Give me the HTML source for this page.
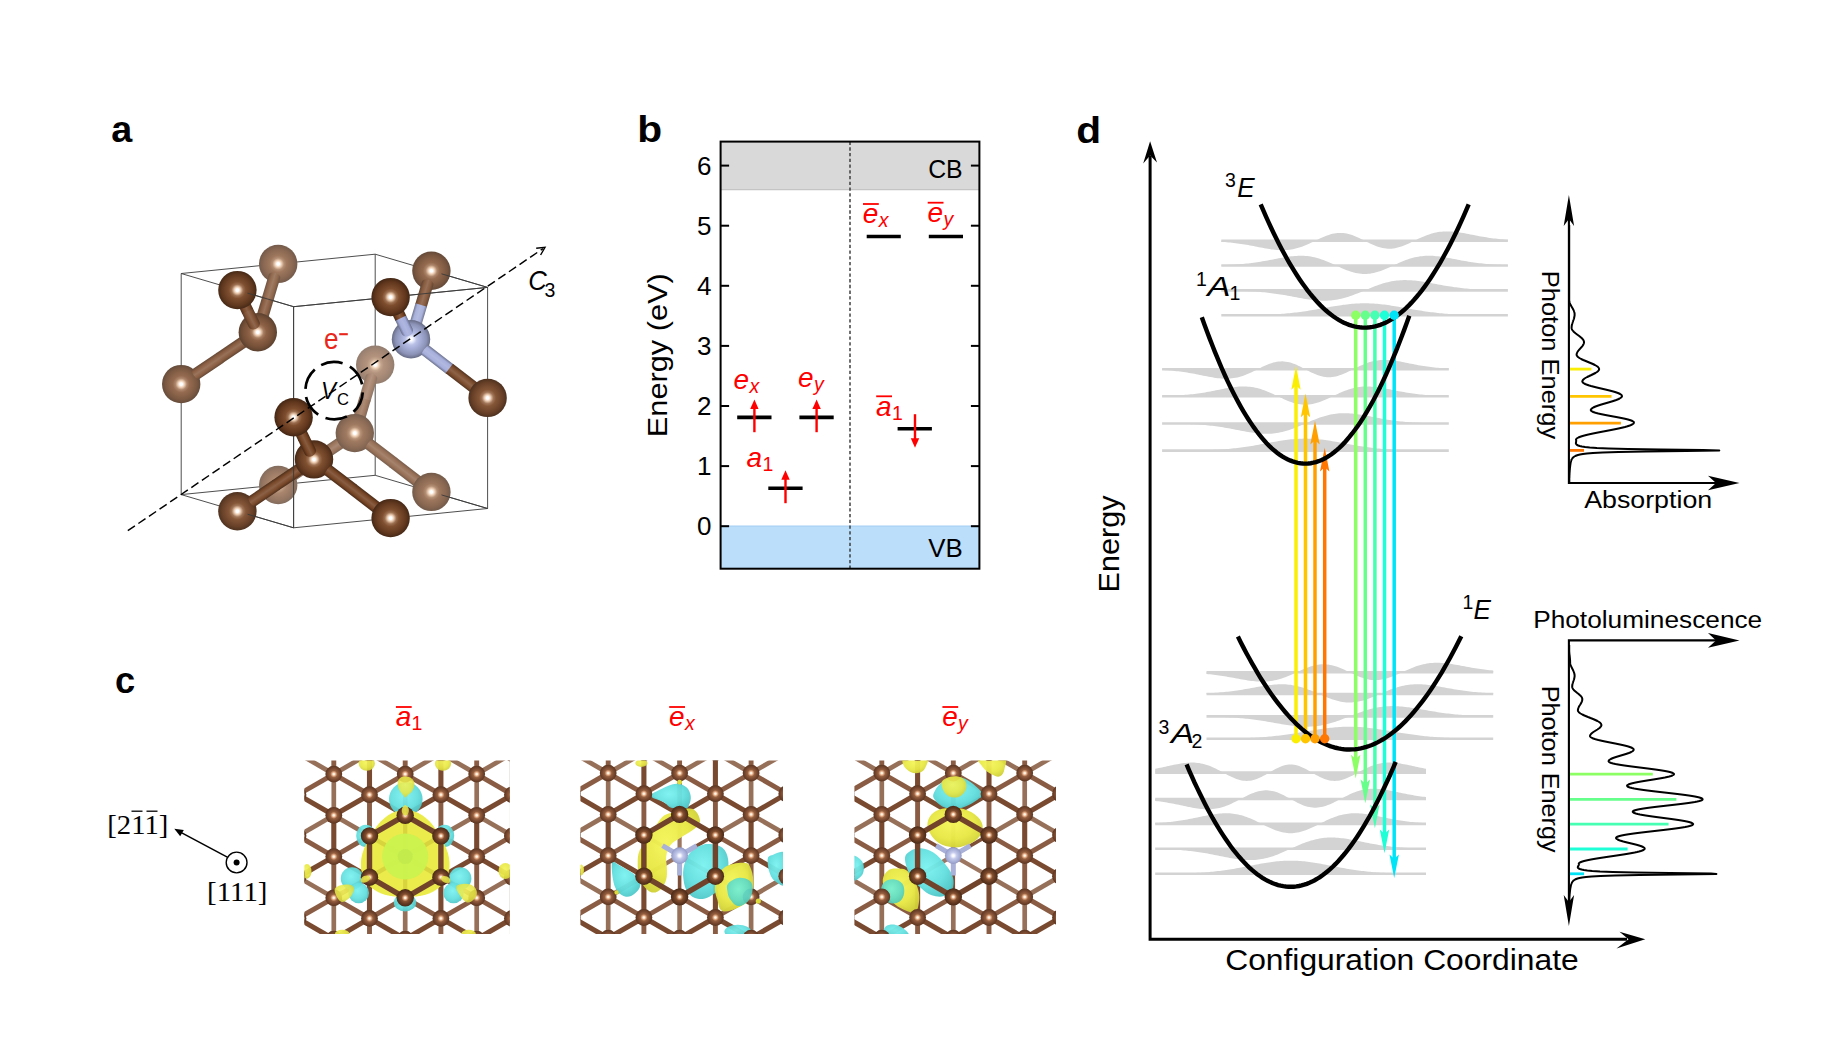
<!DOCTYPE html>
<html><head><meta charset="utf-8"><title>Figure</title>
<style>
html,body{margin:0;padding:0;background:#fff;}
body{width:1846px;height:1042px;overflow:hidden;font-family:"Liberation Sans",sans-serif;}
svg{display:block;}
text{font-family:"Liberation Sans",sans-serif;}
.it{font-style:italic;}
.b{font-weight:bold;}
.ser{font-family:"Liberation Serif",serif;}
</style></head><body>
<svg width="1846" height="1042" viewBox="0 0 1846 1042">
<defs>
<radialGradient id="sa1" cx="0.5" cy="0.5" r="0.5" fx="0.5" fy="0.5"><stop offset="0" stop-color="#ffffff"/><stop offset="0.07" stop-color="#ffffff"/><stop offset="0.17" stop-color="#efd1b7"/><stop offset="0.30" stop-color="#b48f75"/><stop offset="0.44" stop-color="#9e775d"/><stop offset="0.80" stop-color="#876651"/><stop offset="1" stop-color="#735a4b"/></radialGradient>
<radialGradient id="sa2" cx="0.5" cy="0.5" r="0.5" fx="0.5" fy="0.5"><stop offset="0" stop-color="#ffffff"/><stop offset="0.07" stop-color="#ffffff"/><stop offset="0.17" stop-color="#eacaaf"/><stop offset="0.30" stop-color="#9c7052"/><stop offset="0.44" stop-color="#7f4f30"/><stop offset="0.80" stop-color="#61391f"/><stop offset="1" stop-color="#462916"/></radialGradient>
<radialGradient id="sa3" cx="0.5" cy="0.5" r="0.5" fx="0.5" fy="0.5"><stop offset="0" stop-color="#ffffff"/><stop offset="0.07" stop-color="#ffffff"/><stop offset="0.17" stop-color="#eecfb4"/><stop offset="0.30" stop-color="#ac856a"/><stop offset="0.44" stop-color="#946a4e"/><stop offset="0.80" stop-color="#7b5740"/><stop offset="1" stop-color="#644a39"/></radialGradient>
<radialGradient id="sa4" cx="0.5" cy="0.5" r="0.5" fx="0.5" fy="0.5"><stop offset="0" stop-color="#ffffff"/><stop offset="0.07" stop-color="#ffffff"/><stop offset="0.17" stop-color="#eacaaf"/><stop offset="0.30" stop-color="#9b6f50"/><stop offset="0.44" stop-color="#7e4d2e"/><stop offset="0.80" stop-color="#60361c"/><stop offset="1" stop-color="#432614"/></radialGradient>
<radialGradient id="sa5" cx="0.5" cy="0.5" r="0.5" fx="0.5" fy="0.5"><stop offset="0" stop-color="#ffffff"/><stop offset="0.07" stop-color="#ffffff"/><stop offset="0.17" stop-color="#eecfb5"/><stop offset="0.30" stop-color="#ad866b"/><stop offset="0.44" stop-color="#956b50"/><stop offset="0.80" stop-color="#7c5942"/><stop offset="1" stop-color="#654c3b"/></radialGradient>
<radialGradient id="sa6" cx="0.5" cy="0.5" r="0.5" fx="0.5" fy="0.5"><stop offset="0" stop-color="#ffffff"/><stop offset="0.07" stop-color="#ffffff"/><stop offset="0.17" stop-color="#ebcbb1"/><stop offset="0.30" stop-color="#a07558"/><stop offset="0.44" stop-color="#845637"/><stop offset="0.80" stop-color="#684027"/><stop offset="1" stop-color="#4d311f"/></radialGradient>
<radialGradient id="sa7" cx="0.5" cy="0.5" r="0.5" fx="0.5" fy="0.5"><stop offset="0" stop-color="#ffffff"/><stop offset="0.07" stop-color="#ffffff"/><stop offset="0.17" stop-color="#eacaaf"/><stop offset="0.30" stop-color="#9b6f50"/><stop offset="0.44" stop-color="#7e4d2e"/><stop offset="0.80" stop-color="#60361c"/><stop offset="1" stop-color="#432614"/></radialGradient>
<radialGradient id="sa8" cx="0.5" cy="0.5" r="0.5" fx="0.5" fy="0.5"><stop offset="0" stop-color="#ffffff"/><stop offset="0.07" stop-color="#ffffff"/><stop offset="0.17" stop-color="#f3d5bc"/><stop offset="0.30" stop-color="#c4a58e"/><stop offset="0.44" stop-color="#b3937d"/><stop offset="0.80" stop-color="#a28674"/><stop offset="1" stop-color="#927d6f"/></radialGradient>
<radialGradient id="sa9" cx="0.5" cy="0.5" r="0.5" fx="0.5" fy="0.5"><stop offset="0" stop-color="#ffffff"/><stop offset="0.07" stop-color="#ffffff"/><stop offset="0.17" stop-color="#f1d3b9"/><stop offset="0.30" stop-color="#bc9a81"/><stop offset="0.44" stop-color="#a9856d"/><stop offset="0.80" stop-color="#957662"/><stop offset="1" stop-color="#826c5d"/></radialGradient>
<radialGradient id="sa10" cx="0.5" cy="0.5" r="0.5" fx="0.5" fy="0.5"><stop offset="0" stop-color="#ffffff"/><stop offset="0.07" stop-color="#ffffff"/><stop offset="0.17" stop-color="#ebcbb1"/><stop offset="0.30" stop-color="#a07659"/><stop offset="0.44" stop-color="#855638"/><stop offset="0.80" stop-color="#684128"/><stop offset="1" stop-color="#4e3220"/></radialGradient>
<radialGradient id="sa11" cx="0.5" cy="0.5" r="0.5" fx="0.5" fy="0.5"><stop offset="0" stop-color="#ffffff"/><stop offset="0.07" stop-color="#ffffff"/><stop offset="0.17" stop-color="#efd1b7"/><stop offset="0.30" stop-color="#b38f75"/><stop offset="0.44" stop-color="#9d765d"/><stop offset="0.80" stop-color="#876650"/><stop offset="1" stop-color="#725a4a"/></radialGradient>
<radialGradient id="sa12" cx="0.5" cy="0.5" r="0.5" fx="0.5" fy="0.5"><stop offset="0" stop-color="#ffffff"/><stop offset="0.07" stop-color="#ffffff"/><stop offset="0.17" stop-color="#eacaaf"/><stop offset="0.30" stop-color="#9c7052"/><stop offset="0.44" stop-color="#7f4f30"/><stop offset="0.80" stop-color="#61381e"/><stop offset="1" stop-color="#452816"/></radialGradient>
<radialGradient id="sa13" cx="0.5" cy="0.5" r="0.5" fx="0.5" fy="0.5"><stop offset="0" stop-color="#ffffff"/><stop offset="0.07" stop-color="#ffffff"/><stop offset="0.17" stop-color="#edcdb3"/><stop offset="0.30" stop-color="#a87f63"/><stop offset="0.44" stop-color="#8e6246"/><stop offset="0.80" stop-color="#744f37"/><stop offset="1" stop-color="#5b412f"/></radialGradient>
<radialGradient id="sa14" cx="0.5" cy="0.5" r="0.5" fx="0.5" fy="0.5"><stop offset="0" stop-color="#ffffff"/><stop offset="0.07" stop-color="#ffffff"/><stop offset="0.17" stop-color="#e1e6fa"/><stop offset="0.30" stop-color="#bac1e5"/><stop offset="0.44" stop-color="#abb3dd"/><stop offset="0.80" stop-color="#8c93b7"/><stop offset="1" stop-color="#676c85"/></radialGradient>
<radialGradient id="sa15" cx="0.5" cy="0.5" r="0.5" fx="0.5" fy="0.5"><stop offset="0" stop-color="#ffffff"/><stop offset="0.07" stop-color="#ffffff"/><stop offset="0.17" stop-color="#f0d1b7"/><stop offset="0.30" stop-color="#b69278"/><stop offset="0.44" stop-color="#a07a61"/><stop offset="0.80" stop-color="#8a6a55"/><stop offset="1" stop-color="#765e4f"/></radialGradient>
<radialGradient id="sa16" cx="0.5" cy="0.5" r="0.5" fx="0.5" fy="0.5"><stop offset="0" stop-color="#ffffff"/><stop offset="0.07" stop-color="#ffffff"/><stop offset="0.17" stop-color="#ebcbb0"/><stop offset="0.30" stop-color="#9d7153"/><stop offset="0.44" stop-color="#805131"/><stop offset="0.80" stop-color="#633a20"/><stop offset="1" stop-color="#472a18"/></radialGradient>
<linearGradient id="ba17" gradientUnits="userSpaceOnUse" x1="0" y1="-6.0" x2="0" y2="6.0"><stop offset="0" stop-color="#6f5443"/><stop offset="0.22" stop-color="#91684d"/><stop offset="0.5" stop-color="#9f7c64"/><stop offset="0.78" stop-color="#91684d"/><stop offset="1" stop-color="#6f5443"/></linearGradient>
<linearGradient id="ba18" gradientUnits="userSpaceOnUse" x1="0" y1="-6.0" x2="0" y2="6.0"><stop offset="0" stop-color="#654a38"/><stop offset="0.22" stop-color="#8a5e42"/><stop offset="0.5" stop-color="#99735b"/><stop offset="0.78" stop-color="#8a5e42"/><stop offset="1" stop-color="#654a38"/></linearGradient>
<linearGradient id="ba19" gradientUnits="userSpaceOnUse" x1="0" y1="-6.0" x2="0" y2="6.0"><stop offset="0" stop-color="#583a28"/><stop offset="0.22" stop-color="#805133"/><stop offset="0.5" stop-color="#90684e"/><stop offset="0.78" stop-color="#805133"/><stop offset="1" stop-color="#583a28"/></linearGradient>
<linearGradient id="ba20" gradientUnits="userSpaceOnUse" x1="0" y1="-6.0" x2="0" y2="6.0"><stop offset="0" stop-color="#4f301d"/><stop offset="0.22" stop-color="#79492a"/><stop offset="0.5" stop-color="#8a6045"/><stop offset="0.78" stop-color="#79492a"/><stop offset="1" stop-color="#4f301d"/></linearGradient>
<linearGradient id="ba21" gradientUnits="userSpaceOnUse" x1="0" y1="-6.0" x2="0" y2="6.0"><stop offset="0" stop-color="#664a39"/><stop offset="0.22" stop-color="#8b5f43"/><stop offset="0.5" stop-color="#9a745c"/><stop offset="0.78" stop-color="#8b5f43"/><stop offset="1" stop-color="#664a39"/></linearGradient>
<linearGradient id="ba22" gradientUnits="userSpaceOnUse" x1="0" y1="-6.0" x2="0" y2="6.0"><stop offset="0" stop-color="#624634"/><stop offset="0.22" stop-color="#875b3f"/><stop offset="0.5" stop-color="#977158"/><stop offset="0.78" stop-color="#875b3f"/><stop offset="1" stop-color="#624634"/></linearGradient>
<linearGradient id="ba23" gradientUnits="userSpaceOnUse" x1="0" y1="-6.0" x2="0" y2="6.0"><stop offset="0" stop-color="#614533"/><stop offset="0.22" stop-color="#875b3e"/><stop offset="0.5" stop-color="#977057"/><stop offset="0.78" stop-color="#875b3e"/><stop offset="1" stop-color="#614533"/></linearGradient>
<linearGradient id="ba24" gradientUnits="userSpaceOnUse" x1="0" y1="-6.0" x2="0" y2="6.0"><stop offset="0" stop-color="#717690"/><stop offset="0.22" stop-color="#a8b1db"/><stop offset="0.5" stop-color="#b4bbe0"/><stop offset="0.78" stop-color="#a8b1db"/><stop offset="1" stop-color="#717690"/></linearGradient>
<linearGradient id="ba25" gradientUnits="userSpaceOnUse" x1="0" y1="-6.0" x2="0" y2="6.0"><stop offset="0" stop-color="#686e8a"/><stop offset="0.22" stop-color="#a3acda"/><stop offset="0.5" stop-color="#afb7df"/><stop offset="0.78" stop-color="#a3acda"/><stop offset="1" stop-color="#686e8a"/></linearGradient>
<linearGradient id="ba26" gradientUnits="userSpaceOnUse" x1="0" y1="-6.0" x2="0" y2="6.0"><stop offset="0" stop-color="#482915"/><stop offset="0.22" stop-color="#744222"/><stop offset="0.5" stop-color="#865b3f"/><stop offset="0.78" stop-color="#744222"/><stop offset="1" stop-color="#482915"/></linearGradient>
<linearGradient id="ba27" gradientUnits="userSpaceOnUse" x1="0" y1="-6.0" x2="0" y2="6.0"><stop offset="0" stop-color="#6d728d"/><stop offset="0.22" stop-color="#a6aedb"/><stop offset="0.5" stop-color="#b1b9e0"/><stop offset="0.78" stop-color="#a6aedb"/><stop offset="1" stop-color="#6d728d"/></linearGradient>
<linearGradient id="ba28" gradientUnits="userSpaceOnUse" x1="0" y1="-6.0" x2="0" y2="6.0"><stop offset="0" stop-color="#523421"/><stop offset="0.22" stop-color="#7b4c2d"/><stop offset="0.5" stop-color="#8d6348"/><stop offset="0.78" stop-color="#7b4c2d"/><stop offset="1" stop-color="#523421"/></linearGradient>
<linearGradient id="ba29" gradientUnits="userSpaceOnUse" x1="0" y1="-6.0" x2="0" y2="6.0"><stop offset="0" stop-color="#8c7566"/><stop offset="0.22" stop-color="#a7846e"/><stop offset="0.5" stop-color="#b39481"/><stop offset="0.78" stop-color="#a7846e"/><stop offset="1" stop-color="#8c7566"/></linearGradient>
<linearGradient id="ba30" gradientUnits="userSpaceOnUse" x1="0" y1="-6.0" x2="0" y2="6.0"><stop offset="0" stop-color="#816858"/><stop offset="0.22" stop-color="#9f7961"/><stop offset="0.5" stop-color="#ab8b75"/><stop offset="0.78" stop-color="#9f7961"/><stop offset="1" stop-color="#816858"/></linearGradient>
<linearGradient id="ba31" gradientUnits="userSpaceOnUse" x1="0" y1="-6.0" x2="0" y2="6.0"><stop offset="0" stop-color="#785f4e"/><stop offset="0.22" stop-color="#987158"/><stop offset="0.5" stop-color="#a6836d"/><stop offset="0.78" stop-color="#987158"/><stop offset="1" stop-color="#785f4e"/></linearGradient>
<linearGradient id="ba32" gradientUnits="userSpaceOnUse" x1="0" y1="-6.0" x2="0" y2="6.0"><stop offset="0" stop-color="#765d4c"/><stop offset="0.22" stop-color="#976f56"/><stop offset="0.5" stop-color="#a4826c"/><stop offset="0.78" stop-color="#976f56"/><stop offset="1" stop-color="#765d4c"/></linearGradient>
<linearGradient id="ba33" gradientUnits="userSpaceOnUse" x1="0" y1="-6.0" x2="0" y2="6.0"><stop offset="0" stop-color="#816959"/><stop offset="0.22" stop-color="#9f7a62"/><stop offset="0.5" stop-color="#ac8b76"/><stop offset="0.78" stop-color="#9f7a62"/><stop offset="1" stop-color="#816959"/></linearGradient>
<linearGradient id="ba34" gradientUnits="userSpaceOnUse" x1="0" y1="-6.0" x2="0" y2="6.0"><stop offset="0" stop-color="#7c6453"/><stop offset="0.22" stop-color="#9c755c"/><stop offset="0.5" stop-color="#a88772"/><stop offset="0.78" stop-color="#9c755c"/><stop offset="1" stop-color="#7c6453"/></linearGradient>
<linearGradient id="ba35" gradientUnits="userSpaceOnUse" x1="0" y1="-6.0" x2="0" y2="6.0"><stop offset="0" stop-color="#482915"/><stop offset="0.22" stop-color="#744222"/><stop offset="0.5" stop-color="#865b3f"/><stop offset="0.78" stop-color="#744222"/><stop offset="1" stop-color="#482915"/></linearGradient>
<linearGradient id="ba36" gradientUnits="userSpaceOnUse" x1="0" y1="-6.0" x2="0" y2="6.0"><stop offset="0" stop-color="#482915"/><stop offset="0.22" stop-color="#744222"/><stop offset="0.5" stop-color="#865b3f"/><stop offset="0.78" stop-color="#744222"/><stop offset="1" stop-color="#482915"/></linearGradient>
<linearGradient id="ba37" gradientUnits="userSpaceOnUse" x1="0" y1="-6.0" x2="0" y2="6.0"><stop offset="0" stop-color="#50321f"/><stop offset="0.22" stop-color="#7a4a2b"/><stop offset="0.5" stop-color="#8b6146"/><stop offset="0.78" stop-color="#7a4a2b"/><stop offset="1" stop-color="#50321f"/></linearGradient>
<linearGradient id="ba38" gradientUnits="userSpaceOnUse" x1="0" y1="-6.0" x2="0" y2="6.0"><stop offset="0" stop-color="#4d2f1b"/><stop offset="0.22" stop-color="#784728"/><stop offset="0.5" stop-color="#8a5f44"/><stop offset="0.78" stop-color="#784728"/><stop offset="1" stop-color="#4d2f1b"/></linearGradient>
<linearGradient id="ba39" gradientUnits="userSpaceOnUse" x1="0" y1="-6.0" x2="0" y2="6.0"><stop offset="0" stop-color="#4b2c19"/><stop offset="0.22" stop-color="#764525"/><stop offset="0.5" stop-color="#885d42"/><stop offset="0.78" stop-color="#764525"/><stop offset="1" stop-color="#4b2c19"/></linearGradient>
<linearGradient id="ba40" gradientUnits="userSpaceOnUse" x1="0" y1="-6.0" x2="0" y2="6.0"><stop offset="0" stop-color="#4a2c18"/><stop offset="0.22" stop-color="#764425"/><stop offset="0.5" stop-color="#885d41"/><stop offset="0.78" stop-color="#764425"/><stop offset="1" stop-color="#4a2c18"/></linearGradient>
<radialGradient id="catom" cx="0.5" cy="0.5" r="0.5"><stop offset="0" stop-color="#fffaf0"/><stop offset="0.10" stop-color="#ffeeda"/><stop offset="0.24" stop-color="#e0a884"/><stop offset="0.42" stop-color="#96603f"/><stop offset="0.70" stop-color="#784830"/><stop offset="1" stop-color="#5c3620"/></radialGradient>
<radialGradient id="catomd" cx="0.5" cy="0.5" r="0.5"><stop offset="0" stop-color="#fffaf0"/><stop offset="0.10" stop-color="#ffecd6"/><stop offset="0.24" stop-color="#d49a74"/><stop offset="0.42" stop-color="#84502f"/><stop offset="0.70" stop-color="#653a22"/><stop offset="1" stop-color="#4a2a17"/></radialGradient>
<radialGradient id="natom" cx="0.5" cy="0.5" r="0.5"><stop offset="0" stop-color="#ffffff"/><stop offset="0.15" stop-color="#f6f7ff"/><stop offset="0.40" stop-color="#c3c9ea"/><stop offset="0.8" stop-color="#a4acd6"/><stop offset="1" stop-color="#8f97c2"/></radialGradient>
<radialGradient id="cyg" cx="0.45" cy="0.4" r="0.65"><stop offset="0" stop-color="#7af2f0"/><stop offset="0.6" stop-color="#62dede"/><stop offset="1" stop-color="#4cc4c6"/></radialGradient>
<radialGradient id="yeg" cx="0.45" cy="0.4" r="0.65"><stop offset="0" stop-color="#f4f45a"/><stop offset="0.6" stop-color="#e8e846"/><stop offset="1" stop-color="#cfcf38"/></radialGradient>
<radialGradient id="cyg2" cx="0.45" cy="0.4" r="0.65"><stop offset="0" stop-color="#74f0d8"/><stop offset="0.6" stop-color="#5fdcc8"/><stop offset="1" stop-color="#4ec6b4"/></radialGradient>
<clipPath id="clipc1"><rect x="304.4" y="760.6" width="205.40000000000003" height="173.39999999999998"/></clipPath>
<clipPath id="clipc2"><rect x="580.4" y="760.6" width="202.60000000000002" height="173.39999999999998"/></clipPath>
<clipPath id="clipc3"><rect x="854.4" y="760.6" width="201.60000000000002" height="173.39999999999998"/></clipPath>
</defs>
<rect width="1846" height="1042" fill="#ffffff"/>
<g id="panel-a">
<text transform="translate(111.3,142.3) scale(1.02,1)" font-size="37" class="b">a</text>
<line x1="181.2" y1="273.5" x2="293.6" y2="306.7" stroke="#3a3a3a" stroke-width="0.9"/>
<line x1="181.2" y1="273.5" x2="375.2" y2="254.2" stroke="#3a3a3a" stroke-width="0.9"/>
<line x1="293.6" y1="306.7" x2="487.6" y2="287.4" stroke="#3a3a3a" stroke-width="0.9"/>
<line x1="375.2" y1="254.2" x2="487.6" y2="287.4" stroke="#3a3a3a" stroke-width="0.9"/>
<line x1="181.2" y1="494.6" x2="293.6" y2="527.8" stroke="#3a3a3a" stroke-width="0.9"/>
<line x1="181.2" y1="494.6" x2="375.2" y2="475.3" stroke="#3a3a3a" stroke-width="0.9"/>
<line x1="293.6" y1="527.8" x2="487.6" y2="508.5" stroke="#3a3a3a" stroke-width="0.9"/>
<line x1="375.2" y1="475.3" x2="487.6" y2="508.5" stroke="#3a3a3a" stroke-width="0.9"/>
<line x1="181.2" y1="273.5" x2="181.2" y2="494.6" stroke="#3a3a3a" stroke-width="0.9"/>
<line x1="293.6" y1="306.7" x2="293.6" y2="527.8" stroke="#3a3a3a" stroke-width="0.9"/>
<line x1="375.2" y1="254.2" x2="375.2" y2="475.3" stroke="#3a3a3a" stroke-width="0.9"/>
<line x1="487.6" y1="287.4" x2="487.6" y2="508.5" stroke="#3a3a3a" stroke-width="0.9"/>
<circle cx="375.2" cy="364.8" r="19.2" fill="url(#sa8)"/>
<path d="M13.1 -6.0 L36.6 -6.0 L36.6 6.0 L13.1 6.0 A3.7 6.0 0 0 1 13.1 -6.0 Z" fill="url(#ba29)" transform="translate(375.2,364.8) rotate(106.61)"/>
<circle cx="278.2" cy="485.0" r="19.2" fill="url(#sa9)"/>
<path d="M17.0 -6.0 L47.1 -6.0 L47.1 6.0 L17.0 6.0 A1.7 6.0 0 0 1 17.0 -6.0 Z" fill="url(#ba33)" transform="translate(278.2,485.0) rotate(-34.07)"/>
<path d="M0.0 -6.0 L35.7 -6.0 L35.7 6.0 L0.0 6.0 Z" fill="url(#ba30)" transform="translate(365.0,398.9) rotate(106.61)"/>
<path d="M0.0 -6.0 L46.2 -6.0 L46.2 6.0 L0.0 6.0 Z" fill="url(#ba34)" transform="translate(316.5,459.1) rotate(-34.07)"/>
<circle cx="354.8" cy="433.1" r="19.2" fill="url(#sa15)"/>
<path d="M17.8 -6.0 L49.2 -6.0 L49.2 6.0 L17.8 6.0 A1.2 6.0 0 0 1 17.8 -6.0 Z" fill="url(#ba31)" transform="translate(354.8,433.1) rotate(37.49)"/>
<path d="M0.0 -6.0 L48.3 -6.0 L48.3 6.0 L0.0 6.0 Z" fill="url(#ba32)" transform="translate(393.1,462.5) rotate(37.49)"/>
<circle cx="278.2" cy="263.9" r="19.2" fill="url(#sa1)"/>
<circle cx="431.4" cy="491.9" r="19.2" fill="url(#sa11)"/>
<path d="M13.1 -6.0 L36.6 -6.0 L36.6 6.0 L13.1 6.0 A3.7 6.0 0 0 1 13.1 -6.0 Z" fill="url(#ba17)" transform="translate(278.2,263.9) rotate(106.61)"/>
<circle cx="181.2" cy="384.1" r="19.2" fill="url(#sa5)"/>
<circle cx="431.4" cy="270.8" r="19.2" fill="url(#sa3)"/>
<path d="M17.0 -6.0 L47.1 -6.0 L47.1 6.0 L17.0 6.0 A1.7 6.0 0 0 1 17.0 -6.0 Z" fill="url(#ba21)" transform="translate(181.2,384.1) rotate(-34.07)"/>
<path d="M0.0 -6.0 L35.7 -6.0 L35.7 6.0 L0.0 6.0 Z" fill="url(#ba18)" transform="translate(268.0,298.1) rotate(106.61)"/>
<path d="M0.0 -6.0 L46.2 -6.0 L46.2 6.0 L0.0 6.0 Z" fill="url(#ba22)" transform="translate(219.5,358.1) rotate(-34.07)"/>
<path d="M13.1 -6.0 L36.6 -6.0 L36.6 6.0 L13.1 6.0 A3.7 6.0 0 0 1 13.1 -6.0 Z" fill="url(#ba23)" transform="translate(431.4,270.8) rotate(106.61)"/>
<circle cx="257.8" cy="332.2" r="19.2" fill="url(#sa13)"/>
<path d="M0.0 -6.0 L35.7 -6.0 L35.7 6.0 L0.0 6.0 Z" fill="url(#ba24)" transform="translate(421.2,305.0) rotate(106.61)"/>
<path d="M8.6 -6.0 L24.3 -6.0 L24.3 6.0 L8.6 6.0 A4.8 6.0 0 0 1 8.6 -6.0 Z" fill="url(#ba19)" transform="translate(257.8,332.2) rotate(-115.83)"/>
<circle cx="411.0" cy="339.2" r="19.2" fill="url(#sa14)"/>
<path d="M17.8 -6.0 L49.2 -6.0 L49.2 6.0 L17.8 6.0 A1.2 6.0 0 0 1 17.8 -6.0 Z" fill="url(#ba27)" transform="translate(411.0,339.2) rotate(37.49)"/>
<circle cx="237.4" cy="511.2" r="19.2" fill="url(#sa10)"/>
<path d="M0.0 -6.0 L48.3 -6.0 L48.3 6.0 L0.0 6.0 Z" fill="url(#ba28)" transform="translate(449.3,368.6) rotate(37.49)"/>
<circle cx="487.6" cy="397.9" r="19.2" fill="url(#sa6)"/>
<path d="M17.0 -6.0 L47.1 -6.0 L47.1 6.0 L17.0 6.0 A1.7 6.0 0 0 1 17.0 -6.0 Z" fill="url(#ba37)" transform="translate(237.4,511.2) rotate(-34.07)"/>
<path d="M0.0 -6.0 L23.4 -6.0 L23.4 6.0 L0.0 6.0 Z" fill="url(#ba20)" transform="translate(247.6,311.2) rotate(-115.83)"/>
<path d="M8.6 -6.0 L24.3 -6.0 L24.3 6.0 L8.6 6.0 A4.8 6.0 0 0 1 8.6 -6.0 Z" fill="url(#ba25)" transform="translate(411.0,339.2) rotate(-115.83)"/>
<path d="M0.0 -6.0 L46.2 -6.0 L46.2 6.0 L0.0 6.0 Z" fill="url(#ba38)" transform="translate(275.7,485.3) rotate(-34.07)"/>
<circle cx="314.0" cy="459.4" r="19.2" fill="url(#sa16)"/>
<path d="M17.8 -6.0 L49.2 -6.0 L49.2 6.0 L17.8 6.0 A1.2 6.0 0 0 1 17.8 -6.0 Z" fill="url(#ba39)" transform="translate(314.0,459.4) rotate(37.49)"/>
<path d="M0.0 -6.0 L48.3 -6.0 L48.3 6.0 L0.0 6.0 Z" fill="url(#ba40)" transform="translate(352.3,488.8) rotate(37.49)"/>
<circle cx="237.4" cy="290.1" r="19.2" fill="url(#sa2)"/>
<circle cx="390.6" cy="518.1" r="19.2" fill="url(#sa12)"/>
<path d="M0.0 -6.0 L23.4 -6.0 L23.4 6.0 L0.0 6.0 Z" fill="url(#ba26)" transform="translate(400.8,318.1) rotate(-115.83)"/>
<path d="M8.6 -6.0 L24.3 -6.0 L24.3 6.0 L8.6 6.0 A4.8 6.0 0 0 1 8.6 -6.0 Z" fill="url(#ba35)" transform="translate(314.0,459.4) rotate(-115.83)"/>
<line x1="293.6" y1="306.7" x2="487.6" y2="287.4" stroke="#3a3a3a" stroke-width="0.9"/>
<circle cx="390.6" cy="297.1" r="19.2" fill="url(#sa4)"/>
<path d="M0.0 -6.0 L23.4 -6.0 L23.4 6.0 L0.0 6.0 Z" fill="url(#ba36)" transform="translate(303.8,438.3) rotate(-115.83)"/>
<line x1="293.6" y1="306.7" x2="293.6" y2="527.8" stroke="#3a3a3a" stroke-width="0.9"/>
<circle cx="293.6" cy="417.2" r="19.2" fill="url(#sa7)"/>
<line x1="293.6" y1="306.7" x2="247.5" y2="293.1" stroke="#3a3a3a" stroke-width="0.9"/>
<line x1="487.6" y1="287.4" x2="441.5" y2="273.8" stroke="#3a3a3a" stroke-width="0.9"/>
<line x1="293.6" y1="527.8" x2="247.5" y2="514.2" stroke="#3a3a3a" stroke-width="0.9"/>
<line x1="487.6" y1="508.5" x2="441.5" y2="494.9" stroke="#3a3a3a" stroke-width="0.9"/>
<line x1="127.8" y1="530.7" x2="543" y2="248.6" stroke="#000" stroke-width="1.45" stroke-dasharray="8.6 4.2"/>
<path d="M536.2 248.2 L545 247.3 L540.6 255" fill="none" stroke="#000" stroke-width="1.4"/>
<circle cx="334.1" cy="390.7" r="28.7" fill="none" stroke="#000" stroke-width="2.7" stroke-dasharray="22 8.05" transform="rotate(-116.8 334.1 390.7)"/>
<text transform="translate(321.0,399.2) scale(0.93,1)" font-size="24.2" class="it">V</text>
<text x="337" y="405.1" font-size="16.6">C</text>
<text transform="translate(324.0,349) scale(0.9,1)" font-size="29" fill="#e8261c">e</text>
<line x1="339.2" x2="347.8" y1="334.2" y2="334.2" stroke="#e8261c" stroke-width="2.1"/>
<text transform="translate(528.3,290.1) scale(0.9,1)" font-size="28.5" class="it">C</text>
<text x="544.6" y="296.9" font-size="19.5">3</text>
</g>
<g id="panel-b">
<text transform="translate(637.2,142.4) scale(1.1,1)" font-size="37" class="b">b</text>
<rect x="720.6" y="141.6" width="258.79999999999995" height="48.0" fill="#d9d9d9"/>
<line x1="720.6" x2="979.4" y1="189.6" y2="189.6" stroke="#c4c4c4" stroke-width="1.2"/>
<rect x="720.6" y="526.2" width="258.79999999999995" height="42.5" fill="#bbdefb"/>
<line x1="720.6" x2="979.4" y1="526.2" y2="526.2" stroke="#a6d0f5" stroke-width="1.2"/>
<line x1="850" x2="850" y1="141.6" y2="568.7" stroke="#333" stroke-width="1.4" stroke-dasharray="3.3 2.43"/>
<line x1="720.6" x2="729.1" y1="526.2" y2="526.2" stroke="#000" stroke-width="2"/>
<line x1="970.9" x2="979.4" y1="526.2" y2="526.2" stroke="#000" stroke-width="2"/>
<text x="711.5" y="535.2" font-size="26" text-anchor="end">0</text>
<line x1="720.6" x2="729.1" y1="466.1" y2="466.1" stroke="#000" stroke-width="2"/>
<line x1="970.9" x2="979.4" y1="466.1" y2="466.1" stroke="#000" stroke-width="2"/>
<text x="711.5" y="475.1" font-size="26" text-anchor="end">1</text>
<line x1="720.6" x2="729.1" y1="406.0" y2="406.0" stroke="#000" stroke-width="2"/>
<line x1="970.9" x2="979.4" y1="406.0" y2="406.0" stroke="#000" stroke-width="2"/>
<text x="711.5" y="415.0" font-size="26" text-anchor="end">2</text>
<line x1="720.6" x2="729.1" y1="345.9" y2="345.9" stroke="#000" stroke-width="2"/>
<line x1="970.9" x2="979.4" y1="345.9" y2="345.9" stroke="#000" stroke-width="2"/>
<text x="711.5" y="354.9" font-size="26" text-anchor="end">3</text>
<line x1="720.6" x2="729.1" y1="285.8" y2="285.8" stroke="#000" stroke-width="2"/>
<line x1="970.9" x2="979.4" y1="285.8" y2="285.8" stroke="#000" stroke-width="2"/>
<text x="711.5" y="294.8" font-size="26" text-anchor="end">4</text>
<line x1="720.6" x2="729.1" y1="225.7" y2="225.7" stroke="#000" stroke-width="2"/>
<line x1="970.9" x2="979.4" y1="225.7" y2="225.7" stroke="#000" stroke-width="2"/>
<text x="711.5" y="234.7" font-size="26" text-anchor="end">5</text>
<line x1="720.6" x2="729.1" y1="165.6" y2="165.6" stroke="#000" stroke-width="2"/>
<line x1="970.9" x2="979.4" y1="165.6" y2="165.6" stroke="#000" stroke-width="2"/>
<text x="711.5" y="174.6" font-size="26" text-anchor="end">6</text>
<rect x="720.6" y="141.6" width="258.79999999999995" height="427.1" fill="none" stroke="#000" stroke-width="2"/>
<text transform="translate(666.5,355.2) rotate(-90)" font-size="28.4" text-anchor="middle" textLength="164" lengthAdjust="spacingAndGlyphs">Energy (eV)</text>
<text x="962.7" y="177.6" font-size="26" text-anchor="end" textLength="34.5" lengthAdjust="spacingAndGlyphs">CB</text>
<text x="962.7" y="556.7" font-size="26" text-anchor="end" textLength="34.5" lengthAdjust="spacingAndGlyphs">VB</text>
<line x1="737.2" x2="771.5" y1="417.4" y2="417.4" stroke="#000" stroke-width="3.6"/>
<line x1="799.4" x2="833.7" y1="417.4" y2="417.4" stroke="#000" stroke-width="3.6"/>
<line x1="768.3" x2="802.6" y1="488.3" y2="488.3" stroke="#000" stroke-width="3.6"/>
<line x1="866.7" x2="900.8" y1="236.5" y2="236.5" stroke="#000" stroke-width="3.6"/>
<line x1="928.8" x2="963" y1="236.5" y2="236.5" stroke="#000" stroke-width="3.6"/>
<line x1="897.6" x2="931.9" y1="428.8" y2="428.8" stroke="#000" stroke-width="3.6"/>
<line x1="754.4" x2="754.4" y1="432.2" y2="407.0" stroke="#ff0000" stroke-width="2.4"/>
<path d="M754.4 399.4 L750.1999999999999 408.9 L758.6 408.9 Z" fill="#ff0000"/>
<line x1="816.6" x2="816.6" y1="432.2" y2="407.0" stroke="#ff0000" stroke-width="2.4"/>
<path d="M816.6 399.4 L812.4 408.9 L820.8000000000001 408.9 Z" fill="#ff0000"/>
<line x1="785.5" x2="785.5" y1="503.2" y2="477.8" stroke="#ff0000" stroke-width="2.4"/>
<path d="M785.5 470.2 L781.3 479.7 L789.7 479.7 Z" fill="#ff0000"/>
<line x1="915" x2="915" y1="414.2" y2="440.2" stroke="#ff0000" stroke-width="2.4"/>
<path d="M915 447.8 L910.8 438.3 L919.2 438.3 Z" fill="#ff0000"/>
<text x="733.5" y="388.8" font-size="28" fill="#ff0000" class="it">e<tspan font-size="19.5" dy="4.1" dx="0.3" >x</tspan></text>
<text x="798" y="387" font-size="28" fill="#ff0000" class="it">e<tspan font-size="19.5" dy="4.1" dx="0.3" >y</tspan></text>
<text x="746.5" y="466.5" font-size="28" fill="#ff0000" class="it">a<tspan font-size="19.5" dy="4.1" dx="0.3" style="font-style:normal">1</tspan></text>
<text x="862.8" y="223.2" font-size="28" fill="#ff0000" class="it">e<tspan font-size="19.5" dy="4.1" dx="0.3" >x</tspan></text>
<line x1="863.0" x2="878.8" y1="204.0" y2="204.0" stroke="#ff0000" stroke-width="1.8"/>
<text x="927.5" y="221.9" font-size="28" fill="#ff0000" class="it">e<tspan font-size="19.5" dy="4.1" dx="0.3" >y</tspan></text>
<line x1="927.7" x2="943.5" y1="202.70000000000002" y2="202.70000000000002" stroke="#ff0000" stroke-width="1.8"/>
<text x="876" y="415.5" font-size="28" fill="#ff0000" class="it">a<tspan font-size="19.5" dy="4.1" dx="0.3" style="font-style:normal">1</tspan></text>
<line x1="876.2" x2="892" y1="396.3" y2="396.3" stroke="#ff0000" stroke-width="1.8"/>
</g>
<g id="panel-c">
<text transform="translate(114.9,692.5) scale(0.98,1)" font-size="37" class="b">c</text>
<text x="107.3" y="834.3" font-size="27.5" class="ser" textLength="61" lengthAdjust="spacingAndGlyphs">[211]</text>
<line x1="131.5" x2="142.5" y1="811.2" y2="811.2" stroke="#000" stroke-width="1.3"/>
<line x1="146.5" x2="157.5" y1="811.2" y2="811.2" stroke="#000" stroke-width="1.3"/>
<text x="207" y="901" font-size="27.5" class="ser" textLength="60.5" lengthAdjust="spacingAndGlyphs">[111]</text>
<line x1="227.3" y1="857.2" x2="178.5" y2="831.2" stroke="#000" stroke-width="1.5"/>
<path d="M174.3 828.8 L183.8 829.9 L180.2 836.3 Z" fill="#000"/>
<circle cx="236.6" cy="862.5" r="10.4" fill="#fff" stroke="#000" stroke-width="1.4"/>
<circle cx="236.6" cy="862.5" r="3" fill="#000"/>
<text x="395.7" y="726.2" font-size="28" fill="#ff0000" class="it">a<tspan font-size="19.5" dy="4.1" dx="0.3" style="font-style:normal">1</tspan></text>
<line x1="395.9" x2="411.7" y1="707.0" y2="707.0" stroke="#ff0000" stroke-width="1.8"/>
<text x="669" y="726.2" font-size="28" fill="#ff0000" class="it">e<tspan font-size="19.5" dy="4.1" dx="0.3">x</tspan></text>
<line x1="669.2" x2="685" y1="707.0" y2="707.0" stroke="#ff0000" stroke-width="1.8"/>
<text x="942.2" y="726.2" font-size="28" fill="#ff0000" class="it">e<tspan font-size="19.5" dy="4.1" dx="0.3">y</tspan></text>
<line x1="942.4000000000001" x2="958.2" y1="707.0" y2="707.0" stroke="#ff0000" stroke-width="1.8"/>
<g clip-path="url(#clipc1)">
<rect x="304.4" y="760.6" width="205.40000000000003" height="173.39999999999998" fill="#fff"/>
<line x1="262.3" y1="774.1" x2="262.3" y2="815.3" stroke="#977059" stroke-width="4.7"/>
<line x1="262.3" y1="774.1" x2="298.0" y2="753.4" stroke="#977059" stroke-width="4.7"/>
<line x1="262.3" y1="815.3" x2="298.0" y2="835.9" stroke="#977059" stroke-width="4.7"/>
<line x1="262.3" y1="897.8" x2="262.3" y2="939.1" stroke="#977059" stroke-width="4.7"/>
<line x1="262.3" y1="897.8" x2="298.0" y2="877.2" stroke="#977059" stroke-width="4.7"/>
<line x1="262.3" y1="939.1" x2="298.0" y2="959.7" stroke="#977059" stroke-width="4.7"/>
<line x1="298.0" y1="753.4" x2="333.8" y2="774.1" stroke="#977059" stroke-width="4.7"/>
<line x1="298.0" y1="835.9" x2="298.0" y2="877.2" stroke="#977059" stroke-width="4.7"/>
<line x1="298.0" y1="835.9" x2="333.8" y2="815.3" stroke="#977059" stroke-width="4.7"/>
<line x1="298.0" y1="877.2" x2="333.8" y2="897.8" stroke="#977059" stroke-width="4.7"/>
<line x1="298.0" y1="959.7" x2="298.0" y2="1000.9" stroke="#977059" stroke-width="4.7"/>
<line x1="298.0" y1="959.7" x2="333.8" y2="939.1" stroke="#977059" stroke-width="4.7"/>
<line x1="333.8" y1="774.1" x2="333.8" y2="815.3" stroke="#977059" stroke-width="4.7"/>
<line x1="333.8" y1="774.1" x2="369.5" y2="753.4" stroke="#977059" stroke-width="4.7"/>
<line x1="333.8" y1="815.3" x2="369.5" y2="835.9" stroke="#977059" stroke-width="4.7"/>
<line x1="333.8" y1="897.8" x2="333.8" y2="939.1" stroke="#977059" stroke-width="4.7"/>
<line x1="333.8" y1="897.8" x2="369.5" y2="877.2" stroke="#977059" stroke-width="4.7"/>
<line x1="333.8" y1="939.1" x2="369.5" y2="959.7" stroke="#977059" stroke-width="4.7"/>
<line x1="369.5" y1="753.4" x2="405.2" y2="774.1" stroke="#977059" stroke-width="4.7"/>
<line x1="369.5" y1="959.7" x2="369.5" y2="1000.9" stroke="#977059" stroke-width="4.7"/>
<line x1="369.5" y1="959.7" x2="405.2" y2="939.1" stroke="#977059" stroke-width="4.7"/>
<line x1="405.2" y1="774.1" x2="405.2" y2="815.3" stroke="#977059" stroke-width="4.7"/>
<line x1="405.2" y1="774.1" x2="440.9" y2="753.4" stroke="#977059" stroke-width="4.7"/>
<line x1="405.2" y1="897.8" x2="405.2" y2="939.1" stroke="#977059" stroke-width="4.7"/>
<line x1="405.2" y1="939.1" x2="440.9" y2="959.7" stroke="#977059" stroke-width="4.7"/>
<line x1="440.9" y1="753.4" x2="476.7" y2="774.1" stroke="#977059" stroke-width="4.7"/>
<line x1="440.9" y1="835.9" x2="476.7" y2="815.3" stroke="#977059" stroke-width="4.7"/>
<line x1="440.9" y1="877.2" x2="476.7" y2="897.8" stroke="#977059" stroke-width="4.7"/>
<line x1="440.9" y1="959.7" x2="440.9" y2="1000.9" stroke="#977059" stroke-width="4.7"/>
<line x1="440.9" y1="959.7" x2="476.7" y2="939.1" stroke="#977059" stroke-width="4.7"/>
<line x1="476.7" y1="774.1" x2="476.7" y2="815.3" stroke="#977059" stroke-width="4.7"/>
<line x1="476.7" y1="774.1" x2="512.4" y2="753.4" stroke="#977059" stroke-width="4.7"/>
<line x1="476.7" y1="815.3" x2="512.4" y2="835.9" stroke="#977059" stroke-width="4.7"/>
<line x1="476.7" y1="897.8" x2="476.7" y2="939.1" stroke="#977059" stroke-width="4.7"/>
<line x1="476.7" y1="897.8" x2="512.4" y2="877.2" stroke="#977059" stroke-width="4.7"/>
<line x1="476.7" y1="939.1" x2="512.4" y2="959.7" stroke="#977059" stroke-width="4.7"/>
<line x1="512.4" y1="753.4" x2="548.1" y2="774.1" stroke="#977059" stroke-width="4.7"/>
<line x1="512.4" y1="835.9" x2="512.4" y2="877.2" stroke="#977059" stroke-width="4.7"/>
<line x1="512.4" y1="835.9" x2="548.1" y2="815.3" stroke="#977059" stroke-width="4.7"/>
<line x1="512.4" y1="877.2" x2="548.1" y2="897.8" stroke="#977059" stroke-width="4.7"/>
<line x1="512.4" y1="959.7" x2="512.4" y2="1000.9" stroke="#977059" stroke-width="4.7"/>
<line x1="512.4" y1="959.7" x2="548.1" y2="939.1" stroke="#977059" stroke-width="4.7"/>
<line x1="548.1" y1="774.1" x2="548.1" y2="815.3" stroke="#977059" stroke-width="4.7"/>
<line x1="548.1" y1="774.1" x2="583.8" y2="753.4" stroke="#977059" stroke-width="4.7"/>
<line x1="548.1" y1="815.3" x2="583.8" y2="835.9" stroke="#977059" stroke-width="4.7"/>
<line x1="548.1" y1="897.8" x2="548.1" y2="939.1" stroke="#977059" stroke-width="4.7"/>
<line x1="548.1" y1="897.8" x2="583.8" y2="877.2" stroke="#977059" stroke-width="4.7"/>
<line x1="548.1" y1="939.1" x2="583.8" y2="959.7" stroke="#977059" stroke-width="4.7"/>
<line x1="262.3" y1="732.8" x2="262.3" y2="774.1" stroke="#8a5c43" stroke-width="4.9"/>
<line x1="262.3" y1="732.8" x2="298.0" y2="712.2" stroke="#8a5c43" stroke-width="4.9"/>
<line x1="262.3" y1="774.1" x2="298.0" y2="794.7" stroke="#8a5c43" stroke-width="4.9"/>
<line x1="262.3" y1="856.6" x2="262.3" y2="897.8" stroke="#8a5c43" stroke-width="4.9"/>
<line x1="262.3" y1="856.6" x2="298.0" y2="835.9" stroke="#8a5c43" stroke-width="4.9"/>
<line x1="262.3" y1="897.8" x2="298.0" y2="918.4" stroke="#8a5c43" stroke-width="4.9"/>
<line x1="262.3" y1="980.3" x2="262.3" y2="1021.6" stroke="#8a5c43" stroke-width="4.9"/>
<line x1="262.3" y1="980.3" x2="298.0" y2="959.7" stroke="#8a5c43" stroke-width="4.9"/>
<line x1="298.0" y1="794.7" x2="298.0" y2="835.9" stroke="#8a5c43" stroke-width="4.9"/>
<line x1="298.0" y1="794.7" x2="333.8" y2="774.1" stroke="#8a5c43" stroke-width="4.9"/>
<line x1="298.0" y1="835.9" x2="333.8" y2="856.6" stroke="#8a5c43" stroke-width="4.9"/>
<line x1="298.0" y1="918.4" x2="298.0" y2="959.7" stroke="#8a5c43" stroke-width="4.9"/>
<line x1="298.0" y1="918.4" x2="333.8" y2="897.8" stroke="#8a5c43" stroke-width="4.9"/>
<line x1="298.0" y1="959.7" x2="333.8" y2="980.3" stroke="#8a5c43" stroke-width="4.9"/>
<line x1="333.8" y1="732.8" x2="333.8" y2="774.1" stroke="#8a5c43" stroke-width="4.9"/>
<line x1="333.8" y1="732.8" x2="369.5" y2="712.2" stroke="#8a5c43" stroke-width="4.9"/>
<line x1="333.8" y1="774.1" x2="369.5" y2="794.7" stroke="#8a5c43" stroke-width="4.9"/>
<line x1="333.8" y1="856.6" x2="333.8" y2="897.8" stroke="#8a5c43" stroke-width="4.9"/>
<line x1="333.8" y1="856.6" x2="369.5" y2="835.9" stroke="#8a5c43" stroke-width="4.9"/>
<line x1="333.8" y1="897.8" x2="369.5" y2="918.4" stroke="#8a5c43" stroke-width="4.9"/>
<line x1="333.8" y1="980.3" x2="333.8" y2="1021.6" stroke="#8a5c43" stroke-width="4.9"/>
<line x1="333.8" y1="980.3" x2="369.5" y2="959.7" stroke="#8a5c43" stroke-width="4.9"/>
<line x1="369.5" y1="794.7" x2="369.5" y2="835.9" stroke="#8a5c43" stroke-width="4.9"/>
<line x1="369.5" y1="794.7" x2="405.2" y2="774.1" stroke="#8a5c43" stroke-width="4.9"/>
<line x1="369.5" y1="918.4" x2="369.5" y2="959.7" stroke="#8a5c43" stroke-width="4.9"/>
<line x1="369.5" y1="918.4" x2="405.2" y2="897.8" stroke="#8a5c43" stroke-width="4.9"/>
<line x1="369.5" y1="959.7" x2="405.2" y2="980.3" stroke="#8a5c43" stroke-width="4.9"/>
<line x1="405.2" y1="732.8" x2="405.2" y2="774.1" stroke="#8a5c43" stroke-width="4.9"/>
<line x1="405.2" y1="732.8" x2="440.9" y2="712.2" stroke="#8a5c43" stroke-width="4.9"/>
<line x1="405.2" y1="774.1" x2="440.9" y2="794.7" stroke="#8a5c43" stroke-width="4.9"/>
<line x1="405.2" y1="897.8" x2="440.9" y2="918.4" stroke="#8a5c43" stroke-width="4.9"/>
<line x1="405.2" y1="980.3" x2="405.2" y2="1021.6" stroke="#8a5c43" stroke-width="4.9"/>
<line x1="405.2" y1="980.3" x2="440.9" y2="959.7" stroke="#8a5c43" stroke-width="4.9"/>
<line x1="440.9" y1="794.7" x2="440.9" y2="835.9" stroke="#8a5c43" stroke-width="4.9"/>
<line x1="440.9" y1="794.7" x2="476.7" y2="774.1" stroke="#8a5c43" stroke-width="4.9"/>
<line x1="440.9" y1="835.9" x2="476.7" y2="856.6" stroke="#8a5c43" stroke-width="4.9"/>
<line x1="440.9" y1="918.4" x2="440.9" y2="959.7" stroke="#8a5c43" stroke-width="4.9"/>
<line x1="440.9" y1="918.4" x2="476.7" y2="897.8" stroke="#8a5c43" stroke-width="4.9"/>
<line x1="440.9" y1="959.7" x2="476.7" y2="980.3" stroke="#8a5c43" stroke-width="4.9"/>
<line x1="476.7" y1="732.8" x2="476.7" y2="774.1" stroke="#8a5c43" stroke-width="4.9"/>
<line x1="476.7" y1="732.8" x2="512.4" y2="712.2" stroke="#8a5c43" stroke-width="4.9"/>
<line x1="476.7" y1="774.1" x2="512.4" y2="794.7" stroke="#8a5c43" stroke-width="4.9"/>
<line x1="476.7" y1="856.6" x2="476.7" y2="897.8" stroke="#8a5c43" stroke-width="4.9"/>
<line x1="476.7" y1="856.6" x2="512.4" y2="835.9" stroke="#8a5c43" stroke-width="4.9"/>
<line x1="476.7" y1="897.8" x2="512.4" y2="918.4" stroke="#8a5c43" stroke-width="4.9"/>
<line x1="476.7" y1="980.3" x2="476.7" y2="1021.6" stroke="#8a5c43" stroke-width="4.9"/>
<line x1="476.7" y1="980.3" x2="512.4" y2="959.7" stroke="#8a5c43" stroke-width="4.9"/>
<line x1="512.4" y1="794.7" x2="512.4" y2="835.9" stroke="#8a5c43" stroke-width="4.9"/>
<line x1="512.4" y1="794.7" x2="548.1" y2="774.1" stroke="#8a5c43" stroke-width="4.9"/>
<line x1="512.4" y1="835.9" x2="548.1" y2="856.6" stroke="#8a5c43" stroke-width="4.9"/>
<line x1="512.4" y1="918.4" x2="512.4" y2="959.7" stroke="#8a5c43" stroke-width="4.9"/>
<line x1="512.4" y1="918.4" x2="548.1" y2="897.8" stroke="#8a5c43" stroke-width="4.9"/>
<line x1="512.4" y1="959.7" x2="548.1" y2="980.3" stroke="#8a5c43" stroke-width="4.9"/>
<line x1="548.1" y1="732.8" x2="548.1" y2="774.1" stroke="#8a5c43" stroke-width="4.9"/>
<line x1="548.1" y1="732.8" x2="583.8" y2="712.2" stroke="#8a5c43" stroke-width="4.9"/>
<line x1="548.1" y1="774.1" x2="583.8" y2="794.7" stroke="#8a5c43" stroke-width="4.9"/>
<line x1="548.1" y1="856.6" x2="548.1" y2="897.8" stroke="#8a5c43" stroke-width="4.9"/>
<line x1="548.1" y1="856.6" x2="583.8" y2="835.9" stroke="#8a5c43" stroke-width="4.9"/>
<line x1="548.1" y1="897.8" x2="583.8" y2="918.4" stroke="#8a5c43" stroke-width="4.9"/>
<line x1="548.1" y1="980.3" x2="548.1" y2="1021.6" stroke="#8a5c43" stroke-width="4.9"/>
<line x1="548.1" y1="980.3" x2="583.8" y2="959.7" stroke="#8a5c43" stroke-width="4.9"/>
<line x1="262.3" y1="732.8" x2="298.0" y2="753.4" stroke="#7a4a30" stroke-width="5.1"/>
<line x1="262.3" y1="815.3" x2="262.3" y2="856.6" stroke="#7a4a30" stroke-width="5.1"/>
<line x1="262.3" y1="815.3" x2="298.0" y2="794.7" stroke="#7a4a30" stroke-width="5.1"/>
<line x1="262.3" y1="856.6" x2="298.0" y2="877.2" stroke="#7a4a30" stroke-width="5.1"/>
<line x1="262.3" y1="939.1" x2="262.3" y2="980.3" stroke="#7a4a30" stroke-width="5.1"/>
<line x1="262.3" y1="939.1" x2="298.0" y2="918.4" stroke="#7a4a30" stroke-width="5.1"/>
<line x1="262.3" y1="980.3" x2="298.0" y2="1000.9" stroke="#7a4a30" stroke-width="5.1"/>
<line x1="298.0" y1="753.4" x2="298.0" y2="794.7" stroke="#7a4a30" stroke-width="5.1"/>
<line x1="298.0" y1="753.4" x2="333.8" y2="732.8" stroke="#7a4a30" stroke-width="5.1"/>
<line x1="298.0" y1="794.7" x2="333.8" y2="815.3" stroke="#7a4a30" stroke-width="5.1"/>
<line x1="298.0" y1="877.2" x2="298.0" y2="918.4" stroke="#7a4a30" stroke-width="5.1"/>
<line x1="298.0" y1="877.2" x2="333.8" y2="856.6" stroke="#7a4a30" stroke-width="5.1"/>
<line x1="298.0" y1="918.4" x2="333.8" y2="939.1" stroke="#7a4a30" stroke-width="5.1"/>
<line x1="333.8" y1="732.8" x2="369.5" y2="753.4" stroke="#7a4a30" stroke-width="5.1"/>
<line x1="333.8" y1="815.3" x2="333.8" y2="856.6" stroke="#7a4a30" stroke-width="5.1"/>
<line x1="333.8" y1="815.3" x2="369.5" y2="794.7" stroke="#7a4a30" stroke-width="5.1"/>
<line x1="333.8" y1="856.6" x2="369.5" y2="877.2" stroke="#7a4a30" stroke-width="5.1"/>
<line x1="333.8" y1="939.1" x2="333.8" y2="980.3" stroke="#7a4a30" stroke-width="5.1"/>
<line x1="333.8" y1="939.1" x2="369.5" y2="918.4" stroke="#7a4a30" stroke-width="5.1"/>
<line x1="333.8" y1="980.3" x2="369.5" y2="1000.9" stroke="#7a4a30" stroke-width="5.1"/>
<line x1="369.5" y1="753.4" x2="369.5" y2="794.7" stroke="#7a4a30" stroke-width="5.1"/>
<line x1="369.5" y1="753.4" x2="405.2" y2="732.8" stroke="#7a4a30" stroke-width="5.1"/>
<line x1="369.5" y1="794.7" x2="405.2" y2="815.3" stroke="#7a4a30" stroke-width="5.1"/>
<line x1="369.5" y1="877.2" x2="369.5" y2="918.4" stroke="#7a4a30" stroke-width="5.1"/>
<line x1="369.5" y1="918.4" x2="405.2" y2="939.1" stroke="#7a4a30" stroke-width="5.1"/>
<line x1="405.2" y1="732.8" x2="440.9" y2="753.4" stroke="#7a4a30" stroke-width="5.1"/>
<line x1="405.2" y1="815.3" x2="440.9" y2="794.7" stroke="#7a4a30" stroke-width="5.1"/>
<line x1="405.2" y1="939.1" x2="405.2" y2="980.3" stroke="#7a4a30" stroke-width="5.1"/>
<line x1="405.2" y1="939.1" x2="440.9" y2="918.4" stroke="#7a4a30" stroke-width="5.1"/>
<line x1="405.2" y1="980.3" x2="440.9" y2="1000.9" stroke="#7a4a30" stroke-width="5.1"/>
<line x1="440.9" y1="753.4" x2="440.9" y2="794.7" stroke="#7a4a30" stroke-width="5.1"/>
<line x1="440.9" y1="753.4" x2="476.7" y2="732.8" stroke="#7a4a30" stroke-width="5.1"/>
<line x1="440.9" y1="794.7" x2="476.7" y2="815.3" stroke="#7a4a30" stroke-width="5.1"/>
<line x1="440.9" y1="877.2" x2="440.9" y2="918.4" stroke="#7a4a30" stroke-width="5.1"/>
<line x1="440.9" y1="877.2" x2="476.7" y2="856.6" stroke="#7a4a30" stroke-width="5.1"/>
<line x1="440.9" y1="918.4" x2="476.7" y2="939.1" stroke="#7a4a30" stroke-width="5.1"/>
<line x1="476.7" y1="732.8" x2="512.4" y2="753.4" stroke="#7a4a30" stroke-width="5.1"/>
<line x1="476.7" y1="815.3" x2="476.7" y2="856.6" stroke="#7a4a30" stroke-width="5.1"/>
<line x1="476.7" y1="815.3" x2="512.4" y2="794.7" stroke="#7a4a30" stroke-width="5.1"/>
<line x1="476.7" y1="856.6" x2="512.4" y2="877.2" stroke="#7a4a30" stroke-width="5.1"/>
<line x1="476.7" y1="939.1" x2="476.7" y2="980.3" stroke="#7a4a30" stroke-width="5.1"/>
<line x1="476.7" y1="939.1" x2="512.4" y2="918.4" stroke="#7a4a30" stroke-width="5.1"/>
<line x1="476.7" y1="980.3" x2="512.4" y2="1000.9" stroke="#7a4a30" stroke-width="5.1"/>
<line x1="512.4" y1="753.4" x2="512.4" y2="794.7" stroke="#7a4a30" stroke-width="5.1"/>
<line x1="512.4" y1="753.4" x2="548.1" y2="732.8" stroke="#7a4a30" stroke-width="5.1"/>
<line x1="512.4" y1="794.7" x2="548.1" y2="815.3" stroke="#7a4a30" stroke-width="5.1"/>
<line x1="512.4" y1="877.2" x2="512.4" y2="918.4" stroke="#7a4a30" stroke-width="5.1"/>
<line x1="512.4" y1="877.2" x2="548.1" y2="856.6" stroke="#7a4a30" stroke-width="5.1"/>
<line x1="512.4" y1="918.4" x2="548.1" y2="939.1" stroke="#7a4a30" stroke-width="5.1"/>
<line x1="548.1" y1="732.8" x2="583.8" y2="753.4" stroke="#7a4a30" stroke-width="5.1"/>
<line x1="548.1" y1="815.3" x2="548.1" y2="856.6" stroke="#7a4a30" stroke-width="5.1"/>
<line x1="548.1" y1="815.3" x2="583.8" y2="794.7" stroke="#7a4a30" stroke-width="5.1"/>
<line x1="548.1" y1="856.6" x2="583.8" y2="877.2" stroke="#7a4a30" stroke-width="5.1"/>
<line x1="548.1" y1="939.1" x2="548.1" y2="980.3" stroke="#7a4a30" stroke-width="5.1"/>
<line x1="548.1" y1="939.1" x2="583.8" y2="918.4" stroke="#7a4a30" stroke-width="5.1"/>
<line x1="548.1" y1="980.3" x2="583.8" y2="1000.9" stroke="#7a4a30" stroke-width="5.1"/>
<circle cx="405.8" cy="799.1" r="16.8" fill="url(#cyg)" opacity="0.93"/>
<ellipse cx="365.8" cy="835.8" rx="9.6" ry="11.1" fill="url(#cyg)" opacity="0.93"/>
<ellipse cx="444.6" cy="835.8" rx="9.6" ry="11.1" fill="url(#cyg)" opacity="0.93"/>
<circle cx="352.0" cy="878.5" r="11.2" fill="url(#cyg)" opacity="0.93"/>
<circle cx="358.7" cy="893.0" r="10.3" fill="url(#cyg)" opacity="0.93"/>
<circle cx="460.2" cy="878.5" r="11.2" fill="url(#cyg)" opacity="0.93"/>
<circle cx="453.6" cy="893.0" r="10.3" fill="url(#cyg)" opacity="0.93"/>
<ellipse cx="405.0" cy="902.5" rx="11.2" ry="8.9" fill="url(#cyg)" opacity="0.93"/>
<path d="M448.7 856.6 L448.5 855.8 L448.4 855.1 L448.2 854.3 L448.0 853.6 L447.8 852.8 L447.5 852.1 L447.3 851.4 L447.1 850.7 L446.8 850.0 L446.5 849.3 L446.3 848.6 L446.0 847.9 L445.7 847.2 L445.4 846.5 L445.1 845.9 L444.8 845.2 L444.5 844.5 L444.2 843.9 L443.9 843.2 L443.6 842.6 L443.3 842.0 L443.0 841.3 L442.6 840.7 L442.3 840.1 L442.0 839.4 L441.6 838.8 L441.3 838.2 L440.9 837.6 L440.6 837.0 L440.2 836.3 L439.9 835.7 L439.5 835.1 L439.2 834.5 L438.8 833.9 L438.4 833.3 L438.1 832.7 L437.7 832.1 L437.3 831.5 L436.9 830.9 L436.5 830.3 L436.1 829.7 L435.7 829.1 L435.3 828.5 L434.9 827.9 L434.4 827.3 L434.0 826.7 L433.6 826.2 L433.1 825.6 L432.7 825.0 L432.2 824.4 L431.7 823.8 L431.2 823.3 L430.7 822.7 L430.2 822.1 L429.7 821.6 L429.2 821.0 L428.6 820.5 L428.1 819.9 L427.5 819.4 L427.0 818.9 L426.4 818.4 L425.8 817.9 L425.2 817.4 L424.6 816.9 L423.9 816.4 L423.3 816.0 L422.6 815.5 L422.0 815.1 L421.3 814.7 L420.6 814.3 L419.9 813.9 L419.2 813.5 L418.5 813.1 L417.8 812.8 L417.0 812.5 L416.3 812.2 L415.5 811.9 L414.8 811.6 L414.0 811.4 L413.2 811.1 L412.4 810.9 L411.6 810.7 L410.9 810.6 L410.1 810.4 L409.3 810.3 L408.4 810.2 L407.6 810.1 L406.8 810.1 L406.0 810.0 L405.2 810.0 L404.4 810.0 L403.6 810.1 L402.8 810.1 L402.0 810.2 L401.2 810.3 L400.4 810.4 L399.6 810.6 L398.8 810.7 L398.0 810.9 L397.2 811.1 L396.4 811.4 L395.7 811.6 L394.9 811.9 L394.1 812.2 L393.4 812.5 L392.7 812.8 L391.9 813.1 L391.2 813.5 L390.5 813.9 L389.8 814.3 L389.1 814.7 L388.4 815.1 L387.8 815.5 L387.1 816.0 L386.5 816.4 L385.9 816.9 L385.2 817.4 L384.6 817.9 L384.0 818.4 L383.5 818.9 L382.9 819.4 L382.3 819.9 L381.8 820.5 L381.2 821.0 L380.7 821.6 L380.2 822.1 L379.7 822.7 L379.2 823.3 L378.7 823.8 L378.2 824.4 L377.8 825.0 L377.3 825.6 L376.8 826.2 L376.4 826.7 L376.0 827.3 L375.5 827.9 L375.1 828.5 L374.7 829.1 L374.3 829.7 L373.9 830.3 L373.5 830.9 L373.1 831.5 L372.7 832.1 L372.4 832.7 L372.0 833.3 L371.6 833.9 L371.2 834.5 L370.9 835.1 L370.5 835.7 L370.2 836.3 L369.8 837.0 L369.5 837.6 L369.1 838.2 L368.8 838.8 L368.4 839.4 L368.1 840.1 L367.8 840.7 L367.5 841.3 L367.1 842.0 L366.8 842.6 L366.5 843.2 L366.2 843.9 L365.9 844.5 L365.6 845.2 L365.3 845.9 L365.0 846.5 L364.7 847.2 L364.4 847.9 L364.1 848.6 L363.9 849.3 L363.6 850.0 L363.4 850.7 L363.1 851.4 L362.9 852.1 L362.7 852.8 L362.4 853.6 L362.2 854.3 L362.1 855.1 L361.9 855.8 L361.7 856.6 L361.6 857.3 L361.4 858.1 L361.3 858.9 L361.2 859.6 L361.1 860.4 L361.0 861.2 L360.9 862.0 L360.9 862.8 L360.9 863.6 L360.9 864.4 L360.9 865.2 L360.9 866.0 L361.0 866.8 L361.0 867.6 L361.1 868.4 L361.2 869.2 L361.3 870.0 L361.5 870.8 L361.7 871.6 L361.9 872.3 L362.1 873.1 L362.3 873.9 L362.5 874.7 L362.8 875.4 L363.1 876.2 L363.4 876.9 L363.8 877.7 L364.1 878.4 L364.5 879.1 L364.9 879.8 L365.3 880.5 L365.7 881.2 L366.2 881.9 L366.7 882.6 L367.2 883.2 L367.7 883.8 L368.2 884.5 L368.7 885.1 L369.3 885.6 L369.9 886.2 L370.5 886.8 L371.0 887.3 L371.7 887.8 L372.3 888.4 L372.9 888.8 L373.6 889.3 L374.2 889.8 L374.9 890.2 L375.6 890.6 L376.3 891.1 L377.0 891.4 L377.7 891.8 L378.4 892.2 L379.1 892.5 L379.8 892.8 L380.5 893.2 L381.3 893.4 L382.0 893.7 L382.7 894.0 L383.5 894.2 L384.2 894.5 L384.9 894.7 L385.7 894.9 L386.4 895.1 L387.2 895.3 L387.9 895.4 L388.6 895.6 L389.4 895.8 L390.1 895.9 L390.9 896.0 L391.6 896.1 L392.3 896.2 L393.0 896.3 L393.8 896.4 L394.5 896.5 L395.2 896.6 L396.0 896.6 L396.7 896.7 L397.4 896.8 L398.1 896.8 L398.8 896.9 L399.5 896.9 L400.3 896.9 L401.0 896.9 L401.7 897.0 L402.4 897.0 L403.1 897.0 L403.8 897.0 L404.5 897.0 L405.2 897.0 L405.9 897.0 L406.6 897.0 L407.3 897.0 L408.0 897.0 L408.7 897.0 L409.5 896.9 L410.2 896.9 L410.9 896.9 L411.6 896.9 L412.3 896.8 L413.0 896.8 L413.7 896.7 L414.5 896.6 L415.2 896.6 L415.9 896.5 L416.6 896.4 L417.4 896.3 L418.1 896.2 L418.8 896.1 L419.6 896.0 L420.3 895.9 L421.0 895.8 L421.8 895.6 L422.5 895.4 L423.3 895.3 L424.0 895.1 L424.7 894.9 L425.5 894.7 L426.2 894.5 L427.0 894.2 L427.7 894.0 L428.4 893.7 L429.2 893.4 L429.9 893.2 L430.6 892.8 L431.3 892.5 L432.0 892.2 L432.8 891.8 L433.5 891.4 L434.1 891.1 L434.8 890.6 L435.5 890.2 L436.2 889.8 L436.8 889.3 L437.5 888.8 L438.1 888.4 L438.8 887.8 L439.4 887.3 L440.0 886.8 L440.6 886.2 L441.1 885.6 L441.7 885.1 L442.2 884.5 L442.7 883.8 L443.2 883.2 L443.7 882.6 L444.2 881.9 L444.7 881.2 L445.1 880.5 L445.5 879.8 L445.9 879.1 L446.3 878.4 L446.6 877.7 L447.0 876.9 L447.3 876.2 L447.6 875.4 L447.9 874.7 L448.1 873.9 L448.4 873.1 L448.6 872.3 L448.8 871.6 L448.9 870.8 L449.1 870.0 L449.2 869.2 L449.3 868.4 L449.4 867.6 L449.5 866.8 L449.5 866.0 L449.5 865.2 L449.5 864.4 L449.5 863.6 L449.5 862.8 L449.5 862.0 L449.4 861.2 L449.3 860.4 L449.2 859.6 L449.1 858.9 L449.0 858.1 L448.9 857.3 Z" fill="#eaea44" opacity="0.96"/>
<line x1="405.2" y1="856.6" x2="405.2" y2="815.6" stroke="#d4cf3a" stroke-width="4.2" opacity="0.8"/>
<line x1="405.2" y1="856.6" x2="369.7" y2="836.1" stroke="#d4cf3a" stroke-width="4.2" opacity="0.8"/>
<line x1="405.2" y1="856.6" x2="369.7" y2="877.1" stroke="#d4cf3a" stroke-width="4.2" opacity="0.8"/>
<line x1="405.2" y1="856.6" x2="405.2" y2="897.6" stroke="#d4cf3a" stroke-width="4.2" opacity="0.8"/>
<line x1="405.2" y1="856.6" x2="440.7" y2="877.1" stroke="#d4cf3a" stroke-width="4.2" opacity="0.8"/>
<line x1="405.2" y1="856.6" x2="440.7" y2="836.1" stroke="#d4cf3a" stroke-width="4.2" opacity="0.8"/>
<circle cx="405.2" cy="856.6" r="23" fill="#caf24e" opacity="0.96"/>
<circle cx="405.2" cy="856.6" r="7.5" fill="#c2ea4c" opacity="0.9"/>
<line x1="405.2" y1="815.3" x2="440.9" y2="835.9" stroke="#71432b" stroke-width="5.4"/>
<line x1="440.9" y1="835.9" x2="440.9" y2="877.2" stroke="#71432b" stroke-width="5.4"/>
<line x1="440.9" y1="877.2" x2="405.2" y2="897.8" stroke="#71432b" stroke-width="5.4"/>
<line x1="405.2" y1="897.8" x2="369.5" y2="877.2" stroke="#71432b" stroke-width="5.4"/>
<line x1="369.5" y1="877.2" x2="369.5" y2="835.9" stroke="#71432b" stroke-width="5.4"/>
<line x1="369.5" y1="835.9" x2="405.2" y2="815.3" stroke="#71432b" stroke-width="5.4"/>
<circle cx="262.3" cy="732.8" r="8.4" fill="url(#catom)"/>
<circle cx="262.3" cy="774.1" r="8.4" fill="url(#catom)"/>
<circle cx="262.3" cy="815.3" r="8.4" fill="url(#catom)"/>
<circle cx="262.3" cy="856.6" r="8.4" fill="url(#catom)"/>
<circle cx="262.3" cy="897.8" r="8.4" fill="url(#catom)"/>
<circle cx="262.3" cy="939.1" r="8.4" fill="url(#catom)"/>
<circle cx="262.3" cy="980.3" r="8.4" fill="url(#catom)"/>
<circle cx="298.0" cy="753.4" r="8.4" fill="url(#catom)"/>
<circle cx="298.0" cy="794.7" r="8.4" fill="url(#catom)"/>
<circle cx="298.0" cy="835.9" r="8.4" fill="url(#catom)"/>
<circle cx="298.0" cy="877.2" r="8.4" fill="url(#catom)"/>
<circle cx="298.0" cy="918.4" r="8.4" fill="url(#catom)"/>
<circle cx="298.0" cy="959.7" r="8.4" fill="url(#catom)"/>
<circle cx="333.8" cy="732.8" r="8.4" fill="url(#catom)"/>
<circle cx="333.8" cy="774.1" r="8.4" fill="url(#catom)"/>
<circle cx="333.8" cy="815.3" r="8.4" fill="url(#catom)"/>
<circle cx="333.8" cy="856.6" r="8.4" fill="url(#catom)"/>
<circle cx="333.8" cy="897.8" r="8.4" fill="url(#catom)"/>
<circle cx="333.8" cy="939.1" r="8.4" fill="url(#catom)"/>
<circle cx="333.8" cy="980.3" r="8.4" fill="url(#catom)"/>
<circle cx="369.5" cy="753.4" r="8.4" fill="url(#catom)"/>
<circle cx="369.5" cy="794.7" r="8.4" fill="url(#catom)"/>
<circle cx="369.5" cy="835.9" r="8.7" fill="url(#catomd)"/>
<circle cx="369.5" cy="877.2" r="8.7" fill="url(#catomd)"/>
<circle cx="369.5" cy="918.4" r="8.4" fill="url(#catom)"/>
<circle cx="369.5" cy="959.7" r="8.4" fill="url(#catom)"/>
<circle cx="405.2" cy="732.8" r="8.4" fill="url(#catom)"/>
<circle cx="405.2" cy="774.1" r="8.4" fill="url(#catom)"/>
<circle cx="405.2" cy="815.3" r="8.7" fill="url(#catomd)"/>
<circle cx="405.2" cy="897.8" r="8.7" fill="url(#catomd)"/>
<circle cx="405.2" cy="939.1" r="8.4" fill="url(#catom)"/>
<circle cx="405.2" cy="980.3" r="8.4" fill="url(#catom)"/>
<circle cx="440.9" cy="753.4" r="8.4" fill="url(#catom)"/>
<circle cx="440.9" cy="794.7" r="8.4" fill="url(#catom)"/>
<circle cx="440.9" cy="835.9" r="8.7" fill="url(#catomd)"/>
<circle cx="440.9" cy="877.2" r="8.7" fill="url(#catomd)"/>
<circle cx="440.9" cy="918.4" r="8.4" fill="url(#catom)"/>
<circle cx="440.9" cy="959.7" r="8.4" fill="url(#catom)"/>
<circle cx="476.7" cy="732.8" r="8.4" fill="url(#catom)"/>
<circle cx="476.7" cy="774.1" r="8.4" fill="url(#catom)"/>
<circle cx="476.7" cy="815.3" r="8.4" fill="url(#catom)"/>
<circle cx="476.7" cy="856.6" r="8.4" fill="url(#catom)"/>
<circle cx="476.7" cy="897.8" r="8.4" fill="url(#catom)"/>
<circle cx="476.7" cy="939.1" r="8.4" fill="url(#catom)"/>
<circle cx="476.7" cy="980.3" r="8.4" fill="url(#catom)"/>
<circle cx="512.4" cy="753.4" r="8.4" fill="url(#catom)"/>
<circle cx="512.4" cy="794.7" r="8.4" fill="url(#catom)"/>
<circle cx="512.4" cy="835.9" r="8.4" fill="url(#catom)"/>
<circle cx="512.4" cy="877.2" r="8.4" fill="url(#catom)"/>
<circle cx="512.4" cy="918.4" r="8.4" fill="url(#catom)"/>
<circle cx="512.4" cy="959.7" r="8.4" fill="url(#catom)"/>
<circle cx="548.1" cy="732.8" r="8.4" fill="url(#catom)"/>
<circle cx="548.1" cy="774.1" r="8.4" fill="url(#catom)"/>
<circle cx="548.1" cy="815.3" r="8.4" fill="url(#catom)"/>
<circle cx="548.1" cy="856.6" r="8.4" fill="url(#catom)"/>
<circle cx="548.1" cy="897.8" r="8.4" fill="url(#catom)"/>
<circle cx="548.1" cy="939.1" r="8.4" fill="url(#catom)"/>
<circle cx="548.1" cy="980.3" r="8.4" fill="url(#catom)"/>
<path d="M397.7 782.8 C397.8 780.7 398.6 779.2 400.1 778.0 C401.6 776.9 403.7 776.5 405.8 776.6 C407.9 776.7 410.0 777.2 411.6 778.5 C413.2 779.8 414.3 781.6 414.5 783.8 C414.6 786.0 413.8 788.4 412.5 790.5 C411.3 792.6 409.1 794.0 407.7 795.3 C406.4 796.6 406.2 797.5 405.3 797.4 C404.5 797.3 404.1 796.3 402.9 794.8 C401.8 793.4 400.1 791.7 399.1 789.5 C398.1 787.3 397.5 784.9 397.7 782.8 Z" fill="url(#yeg)" opacity="0.88"/>
<path d="M405.3 804.9 C406.6 804.9 408.2 807.2 408.7 808.7 C409.2 810.3 408.8 812.3 408.2 813.5 C407.6 814.8 406.4 815.7 405.3 815.7 C404.3 815.7 403.1 814.8 402.5 813.5 C401.8 812.3 401.4 810.3 402.0 808.7 C402.5 807.2 404.1 804.9 405.3 804.9 Z" fill="url(#yeg)" opacity="0.85"/>
<ellipse cx="366.8" cy="763.8" rx="8.1" ry="6.9" fill="url(#yeg)" opacity="0.93"/>
<ellipse cx="443.0" cy="763.8" rx="8.1" ry="6.9" fill="url(#yeg)" opacity="0.93"/>
<ellipse cx="306.9" cy="871.4" rx="4.6" ry="7.3" fill="url(#yeg)" opacity="0.93"/>
<ellipse cx="505.4" cy="871.0" rx="6.9" ry="8.1" fill="url(#yeg)" opacity="0.93"/>
<path d="M334.7 889.1 C335.3 886.8 338.3 886.0 340.8 885.2 C343.4 884.4 346.2 884.2 348.6 884.6 C351.0 885.1 353.3 885.9 353.9 887.8 C354.5 889.6 353.4 892.4 352.0 894.7 C350.6 897.0 348.3 898.9 346.4 900.3 C344.6 901.6 343.6 902.4 341.9 901.9 C340.3 901.5 338.8 900.4 337.5 898.0 C336.2 895.7 334.1 891.5 334.7 889.1 Z" fill="url(#yeg)" opacity="0.88"/>
<path d="M456.3 886.9 C456.8 884.7 459.9 884.5 462.5 884.1 C465.0 883.7 467.8 883.7 470.3 884.6 C472.8 885.6 474.7 887.1 475.9 889.1 C477.0 891.2 477.3 893.6 476.4 895.8 C475.6 898.1 473.4 900.3 471.4 901.4 C469.5 902.5 467.9 903.0 465.8 901.9 C463.8 900.9 462.0 898.6 460.2 895.8 C458.5 893.0 455.9 889.0 456.3 886.9 Z" fill="url(#yeg)" opacity="0.88"/>
<ellipse cx="365.4" cy="879.1" rx="5" ry="3.3" fill="url(#yeg)" opacity="0.85" transform="rotate(-25 365.4 879.1)"/>
<ellipse cx="445.7" cy="879.6" rx="5" ry="3.3" fill="url(#yeg)" opacity="0.85" transform="rotate(25 445.7 879.6)"/>
<ellipse cx="342.2" cy="933.9" rx="7.3" ry="4.2" fill="url(#yeg)" opacity="0.93"/>
<ellipse cx="468.6" cy="933.9" rx="7.3" ry="4.2" fill="url(#yeg)" opacity="0.93"/>
</g>
<g clip-path="url(#clipc2)">
<rect x="580.4" y="760.6" width="202.60000000000002" height="173.39999999999998" fill="#fff"/>
<line x1="536.7" y1="773.1" x2="536.7" y2="814.4" stroke="#977059" stroke-width="4.7"/>
<line x1="536.7" y1="773.1" x2="572.5" y2="752.5" stroke="#977059" stroke-width="4.7"/>
<line x1="536.7" y1="814.4" x2="572.5" y2="835.0" stroke="#977059" stroke-width="4.7"/>
<line x1="536.7" y1="896.9" x2="536.7" y2="938.1" stroke="#977059" stroke-width="4.7"/>
<line x1="536.7" y1="896.9" x2="572.5" y2="876.2" stroke="#977059" stroke-width="4.7"/>
<line x1="536.7" y1="938.1" x2="572.5" y2="958.7" stroke="#977059" stroke-width="4.7"/>
<line x1="572.5" y1="752.5" x2="608.2" y2="773.1" stroke="#977059" stroke-width="4.7"/>
<line x1="572.5" y1="835.0" x2="572.5" y2="876.2" stroke="#977059" stroke-width="4.7"/>
<line x1="572.5" y1="835.0" x2="608.2" y2="814.4" stroke="#977059" stroke-width="4.7"/>
<line x1="572.5" y1="876.2" x2="608.2" y2="896.9" stroke="#977059" stroke-width="4.7"/>
<line x1="572.5" y1="958.7" x2="572.5" y2="1000.0" stroke="#977059" stroke-width="4.7"/>
<line x1="572.5" y1="958.7" x2="608.2" y2="938.1" stroke="#977059" stroke-width="4.7"/>
<line x1="608.2" y1="773.1" x2="608.2" y2="814.4" stroke="#977059" stroke-width="4.7"/>
<line x1="608.2" y1="773.1" x2="643.9" y2="752.5" stroke="#977059" stroke-width="4.7"/>
<line x1="608.2" y1="814.4" x2="643.9" y2="835.0" stroke="#977059" stroke-width="4.7"/>
<line x1="608.2" y1="896.9" x2="608.2" y2="938.1" stroke="#977059" stroke-width="4.7"/>
<line x1="608.2" y1="896.9" x2="643.9" y2="876.2" stroke="#977059" stroke-width="4.7"/>
<line x1="608.2" y1="938.1" x2="643.9" y2="958.7" stroke="#977059" stroke-width="4.7"/>
<line x1="643.9" y1="752.5" x2="679.6" y2="773.1" stroke="#977059" stroke-width="4.7"/>
<line x1="643.9" y1="958.7" x2="643.9" y2="1000.0" stroke="#977059" stroke-width="4.7"/>
<line x1="643.9" y1="958.7" x2="679.6" y2="938.1" stroke="#977059" stroke-width="4.7"/>
<line x1="679.6" y1="773.1" x2="679.6" y2="814.4" stroke="#977059" stroke-width="4.7"/>
<line x1="679.6" y1="773.1" x2="715.4" y2="752.5" stroke="#977059" stroke-width="4.7"/>
<line x1="679.6" y1="896.9" x2="679.6" y2="938.1" stroke="#977059" stroke-width="4.7"/>
<line x1="679.6" y1="938.1" x2="715.4" y2="958.7" stroke="#977059" stroke-width="4.7"/>
<line x1="715.4" y1="752.5" x2="751.1" y2="773.1" stroke="#977059" stroke-width="4.7"/>
<line x1="715.4" y1="835.0" x2="751.1" y2="814.4" stroke="#977059" stroke-width="4.7"/>
<line x1="715.4" y1="876.2" x2="751.1" y2="896.9" stroke="#977059" stroke-width="4.7"/>
<line x1="715.4" y1="958.7" x2="715.4" y2="1000.0" stroke="#977059" stroke-width="4.7"/>
<line x1="715.4" y1="958.7" x2="751.1" y2="938.1" stroke="#977059" stroke-width="4.7"/>
<line x1="751.1" y1="773.1" x2="751.1" y2="814.4" stroke="#977059" stroke-width="4.7"/>
<line x1="751.1" y1="773.1" x2="786.8" y2="752.5" stroke="#977059" stroke-width="4.7"/>
<line x1="751.1" y1="814.4" x2="786.8" y2="835.0" stroke="#977059" stroke-width="4.7"/>
<line x1="751.1" y1="896.9" x2="751.1" y2="938.1" stroke="#977059" stroke-width="4.7"/>
<line x1="751.1" y1="896.9" x2="786.8" y2="876.2" stroke="#977059" stroke-width="4.7"/>
<line x1="751.1" y1="938.1" x2="786.8" y2="958.7" stroke="#977059" stroke-width="4.7"/>
<line x1="786.8" y1="752.5" x2="822.5" y2="773.1" stroke="#977059" stroke-width="4.7"/>
<line x1="786.8" y1="835.0" x2="786.8" y2="876.2" stroke="#977059" stroke-width="4.7"/>
<line x1="786.8" y1="835.0" x2="822.5" y2="814.4" stroke="#977059" stroke-width="4.7"/>
<line x1="786.8" y1="876.2" x2="822.5" y2="896.9" stroke="#977059" stroke-width="4.7"/>
<line x1="786.8" y1="958.7" x2="786.8" y2="1000.0" stroke="#977059" stroke-width="4.7"/>
<line x1="786.8" y1="958.7" x2="822.5" y2="938.1" stroke="#977059" stroke-width="4.7"/>
<line x1="822.5" y1="773.1" x2="822.5" y2="814.4" stroke="#977059" stroke-width="4.7"/>
<line x1="822.5" y1="773.1" x2="858.2" y2="752.5" stroke="#977059" stroke-width="4.7"/>
<line x1="822.5" y1="814.4" x2="858.2" y2="835.0" stroke="#977059" stroke-width="4.7"/>
<line x1="822.5" y1="896.9" x2="822.5" y2="938.1" stroke="#977059" stroke-width="4.7"/>
<line x1="822.5" y1="896.9" x2="858.2" y2="876.2" stroke="#977059" stroke-width="4.7"/>
<line x1="822.5" y1="938.1" x2="858.2" y2="958.7" stroke="#977059" stroke-width="4.7"/>
<line x1="536.7" y1="731.9" x2="536.7" y2="773.1" stroke="#8a5c43" stroke-width="4.9"/>
<line x1="536.7" y1="731.9" x2="572.5" y2="711.2" stroke="#8a5c43" stroke-width="4.9"/>
<line x1="536.7" y1="773.1" x2="572.5" y2="793.7" stroke="#8a5c43" stroke-width="4.9"/>
<line x1="536.7" y1="855.6" x2="536.7" y2="896.9" stroke="#8a5c43" stroke-width="4.9"/>
<line x1="536.7" y1="855.6" x2="572.5" y2="835.0" stroke="#8a5c43" stroke-width="4.9"/>
<line x1="536.7" y1="896.9" x2="572.5" y2="917.5" stroke="#8a5c43" stroke-width="4.9"/>
<line x1="536.7" y1="979.4" x2="536.7" y2="1020.6" stroke="#8a5c43" stroke-width="4.9"/>
<line x1="536.7" y1="979.4" x2="572.5" y2="958.7" stroke="#8a5c43" stroke-width="4.9"/>
<line x1="572.5" y1="793.7" x2="572.5" y2="835.0" stroke="#8a5c43" stroke-width="4.9"/>
<line x1="572.5" y1="793.7" x2="608.2" y2="773.1" stroke="#8a5c43" stroke-width="4.9"/>
<line x1="572.5" y1="835.0" x2="608.2" y2="855.6" stroke="#8a5c43" stroke-width="4.9"/>
<line x1="572.5" y1="917.5" x2="572.5" y2="958.7" stroke="#8a5c43" stroke-width="4.9"/>
<line x1="572.5" y1="917.5" x2="608.2" y2="896.9" stroke="#8a5c43" stroke-width="4.9"/>
<line x1="572.5" y1="958.7" x2="608.2" y2="979.4" stroke="#8a5c43" stroke-width="4.9"/>
<line x1="608.2" y1="731.9" x2="608.2" y2="773.1" stroke="#8a5c43" stroke-width="4.9"/>
<line x1="608.2" y1="731.9" x2="643.9" y2="711.2" stroke="#8a5c43" stroke-width="4.9"/>
<line x1="608.2" y1="773.1" x2="643.9" y2="793.7" stroke="#8a5c43" stroke-width="4.9"/>
<line x1="608.2" y1="855.6" x2="608.2" y2="896.9" stroke="#8a5c43" stroke-width="4.9"/>
<line x1="608.2" y1="855.6" x2="643.9" y2="835.0" stroke="#8a5c43" stroke-width="4.9"/>
<line x1="608.2" y1="896.9" x2="643.9" y2="917.5" stroke="#8a5c43" stroke-width="4.9"/>
<line x1="608.2" y1="979.4" x2="608.2" y2="1020.6" stroke="#8a5c43" stroke-width="4.9"/>
<line x1="608.2" y1="979.4" x2="643.9" y2="958.7" stroke="#8a5c43" stroke-width="4.9"/>
<line x1="643.9" y1="793.7" x2="643.9" y2="835.0" stroke="#8a5c43" stroke-width="4.9"/>
<line x1="643.9" y1="793.7" x2="679.6" y2="773.1" stroke="#8a5c43" stroke-width="4.9"/>
<line x1="643.9" y1="917.5" x2="643.9" y2="958.7" stroke="#8a5c43" stroke-width="4.9"/>
<line x1="643.9" y1="917.5" x2="679.6" y2="896.9" stroke="#8a5c43" stroke-width="4.9"/>
<line x1="643.9" y1="958.7" x2="679.6" y2="979.4" stroke="#8a5c43" stroke-width="4.9"/>
<line x1="679.6" y1="731.9" x2="679.6" y2="773.1" stroke="#8a5c43" stroke-width="4.9"/>
<line x1="679.6" y1="731.9" x2="715.4" y2="711.2" stroke="#8a5c43" stroke-width="4.9"/>
<line x1="679.6" y1="773.1" x2="715.4" y2="793.7" stroke="#8a5c43" stroke-width="4.9"/>
<line x1="679.6" y1="896.9" x2="715.4" y2="917.5" stroke="#8a5c43" stroke-width="4.9"/>
<line x1="679.6" y1="979.4" x2="679.6" y2="1020.6" stroke="#8a5c43" stroke-width="4.9"/>
<line x1="679.6" y1="979.4" x2="715.4" y2="958.7" stroke="#8a5c43" stroke-width="4.9"/>
<line x1="715.4" y1="793.7" x2="715.4" y2="835.0" stroke="#8a5c43" stroke-width="4.9"/>
<line x1="715.4" y1="793.7" x2="751.1" y2="773.1" stroke="#8a5c43" stroke-width="4.9"/>
<line x1="715.4" y1="835.0" x2="751.1" y2="855.6" stroke="#8a5c43" stroke-width="4.9"/>
<line x1="715.4" y1="917.5" x2="715.4" y2="958.7" stroke="#8a5c43" stroke-width="4.9"/>
<line x1="715.4" y1="917.5" x2="751.1" y2="896.9" stroke="#8a5c43" stroke-width="4.9"/>
<line x1="715.4" y1="958.7" x2="751.1" y2="979.4" stroke="#8a5c43" stroke-width="4.9"/>
<line x1="751.1" y1="731.9" x2="751.1" y2="773.1" stroke="#8a5c43" stroke-width="4.9"/>
<line x1="751.1" y1="731.9" x2="786.8" y2="711.2" stroke="#8a5c43" stroke-width="4.9"/>
<line x1="751.1" y1="773.1" x2="786.8" y2="793.7" stroke="#8a5c43" stroke-width="4.9"/>
<line x1="751.1" y1="855.6" x2="751.1" y2="896.9" stroke="#8a5c43" stroke-width="4.9"/>
<line x1="751.1" y1="855.6" x2="786.8" y2="835.0" stroke="#8a5c43" stroke-width="4.9"/>
<line x1="751.1" y1="896.9" x2="786.8" y2="917.5" stroke="#8a5c43" stroke-width="4.9"/>
<line x1="751.1" y1="979.4" x2="751.1" y2="1020.6" stroke="#8a5c43" stroke-width="4.9"/>
<line x1="751.1" y1="979.4" x2="786.8" y2="958.7" stroke="#8a5c43" stroke-width="4.9"/>
<line x1="786.8" y1="793.7" x2="786.8" y2="835.0" stroke="#8a5c43" stroke-width="4.9"/>
<line x1="786.8" y1="793.7" x2="822.5" y2="773.1" stroke="#8a5c43" stroke-width="4.9"/>
<line x1="786.8" y1="835.0" x2="822.5" y2="855.6" stroke="#8a5c43" stroke-width="4.9"/>
<line x1="786.8" y1="917.5" x2="786.8" y2="958.7" stroke="#8a5c43" stroke-width="4.9"/>
<line x1="786.8" y1="917.5" x2="822.5" y2="896.9" stroke="#8a5c43" stroke-width="4.9"/>
<line x1="786.8" y1="958.7" x2="822.5" y2="979.4" stroke="#8a5c43" stroke-width="4.9"/>
<line x1="822.5" y1="731.9" x2="822.5" y2="773.1" stroke="#8a5c43" stroke-width="4.9"/>
<line x1="822.5" y1="731.9" x2="858.2" y2="711.2" stroke="#8a5c43" stroke-width="4.9"/>
<line x1="822.5" y1="773.1" x2="858.2" y2="793.7" stroke="#8a5c43" stroke-width="4.9"/>
<line x1="822.5" y1="855.6" x2="822.5" y2="896.9" stroke="#8a5c43" stroke-width="4.9"/>
<line x1="822.5" y1="855.6" x2="858.2" y2="835.0" stroke="#8a5c43" stroke-width="4.9"/>
<line x1="822.5" y1="896.9" x2="858.2" y2="917.5" stroke="#8a5c43" stroke-width="4.9"/>
<line x1="822.5" y1="979.4" x2="822.5" y2="1020.6" stroke="#8a5c43" stroke-width="4.9"/>
<line x1="822.5" y1="979.4" x2="858.2" y2="958.7" stroke="#8a5c43" stroke-width="4.9"/>
<line x1="536.7" y1="731.9" x2="572.5" y2="752.5" stroke="#7a4a30" stroke-width="5.1"/>
<line x1="536.7" y1="814.4" x2="536.7" y2="855.6" stroke="#7a4a30" stroke-width="5.1"/>
<line x1="536.7" y1="814.4" x2="572.5" y2="793.7" stroke="#7a4a30" stroke-width="5.1"/>
<line x1="536.7" y1="855.6" x2="572.5" y2="876.2" stroke="#7a4a30" stroke-width="5.1"/>
<line x1="536.7" y1="938.1" x2="536.7" y2="979.4" stroke="#7a4a30" stroke-width="5.1"/>
<line x1="536.7" y1="938.1" x2="572.5" y2="917.5" stroke="#7a4a30" stroke-width="5.1"/>
<line x1="536.7" y1="979.4" x2="572.5" y2="1000.0" stroke="#7a4a30" stroke-width="5.1"/>
<line x1="572.5" y1="752.5" x2="572.5" y2="793.7" stroke="#7a4a30" stroke-width="5.1"/>
<line x1="572.5" y1="752.5" x2="608.2" y2="731.9" stroke="#7a4a30" stroke-width="5.1"/>
<line x1="572.5" y1="793.7" x2="608.2" y2="814.4" stroke="#7a4a30" stroke-width="5.1"/>
<line x1="572.5" y1="876.2" x2="572.5" y2="917.5" stroke="#7a4a30" stroke-width="5.1"/>
<line x1="572.5" y1="876.2" x2="608.2" y2="855.6" stroke="#7a4a30" stroke-width="5.1"/>
<line x1="572.5" y1="917.5" x2="608.2" y2="938.1" stroke="#7a4a30" stroke-width="5.1"/>
<line x1="608.2" y1="731.9" x2="643.9" y2="752.5" stroke="#7a4a30" stroke-width="5.1"/>
<line x1="608.2" y1="814.4" x2="608.2" y2="855.6" stroke="#7a4a30" stroke-width="5.1"/>
<line x1="608.2" y1="814.4" x2="643.9" y2="793.7" stroke="#7a4a30" stroke-width="5.1"/>
<line x1="608.2" y1="855.6" x2="643.9" y2="876.2" stroke="#7a4a30" stroke-width="5.1"/>
<line x1="608.2" y1="938.1" x2="608.2" y2="979.4" stroke="#7a4a30" stroke-width="5.1"/>
<line x1="608.2" y1="938.1" x2="643.9" y2="917.5" stroke="#7a4a30" stroke-width="5.1"/>
<line x1="608.2" y1="979.4" x2="643.9" y2="1000.0" stroke="#7a4a30" stroke-width="5.1"/>
<line x1="643.9" y1="752.5" x2="643.9" y2="793.7" stroke="#7a4a30" stroke-width="5.1"/>
<line x1="643.9" y1="752.5" x2="679.6" y2="731.9" stroke="#7a4a30" stroke-width="5.1"/>
<line x1="643.9" y1="793.7" x2="679.6" y2="814.4" stroke="#7a4a30" stroke-width="5.1"/>
<line x1="643.9" y1="876.2" x2="643.9" y2="917.5" stroke="#7a4a30" stroke-width="5.1"/>
<line x1="643.9" y1="917.5" x2="679.6" y2="938.1" stroke="#7a4a30" stroke-width="5.1"/>
<line x1="679.6" y1="731.9" x2="715.4" y2="752.5" stroke="#7a4a30" stroke-width="5.1"/>
<line x1="679.6" y1="814.4" x2="715.4" y2="793.7" stroke="#7a4a30" stroke-width="5.1"/>
<line x1="679.6" y1="938.1" x2="679.6" y2="979.4" stroke="#7a4a30" stroke-width="5.1"/>
<line x1="679.6" y1="938.1" x2="715.4" y2="917.5" stroke="#7a4a30" stroke-width="5.1"/>
<line x1="679.6" y1="979.4" x2="715.4" y2="1000.0" stroke="#7a4a30" stroke-width="5.1"/>
<line x1="715.4" y1="752.5" x2="715.4" y2="793.7" stroke="#7a4a30" stroke-width="5.1"/>
<line x1="715.4" y1="752.5" x2="751.1" y2="731.9" stroke="#7a4a30" stroke-width="5.1"/>
<line x1="715.4" y1="793.7" x2="751.1" y2="814.4" stroke="#7a4a30" stroke-width="5.1"/>
<line x1="715.4" y1="876.2" x2="715.4" y2="917.5" stroke="#7a4a30" stroke-width="5.1"/>
<line x1="715.4" y1="876.2" x2="751.1" y2="855.6" stroke="#7a4a30" stroke-width="5.1"/>
<line x1="715.4" y1="917.5" x2="751.1" y2="938.1" stroke="#7a4a30" stroke-width="5.1"/>
<line x1="751.1" y1="731.9" x2="786.8" y2="752.5" stroke="#7a4a30" stroke-width="5.1"/>
<line x1="751.1" y1="814.4" x2="751.1" y2="855.6" stroke="#7a4a30" stroke-width="5.1"/>
<line x1="751.1" y1="814.4" x2="786.8" y2="793.7" stroke="#7a4a30" stroke-width="5.1"/>
<line x1="751.1" y1="855.6" x2="786.8" y2="876.2" stroke="#7a4a30" stroke-width="5.1"/>
<line x1="751.1" y1="938.1" x2="751.1" y2="979.4" stroke="#7a4a30" stroke-width="5.1"/>
<line x1="751.1" y1="938.1" x2="786.8" y2="917.5" stroke="#7a4a30" stroke-width="5.1"/>
<line x1="751.1" y1="979.4" x2="786.8" y2="1000.0" stroke="#7a4a30" stroke-width="5.1"/>
<line x1="786.8" y1="752.5" x2="786.8" y2="793.7" stroke="#7a4a30" stroke-width="5.1"/>
<line x1="786.8" y1="752.5" x2="822.5" y2="731.9" stroke="#7a4a30" stroke-width="5.1"/>
<line x1="786.8" y1="793.7" x2="822.5" y2="814.4" stroke="#7a4a30" stroke-width="5.1"/>
<line x1="786.8" y1="876.2" x2="786.8" y2="917.5" stroke="#7a4a30" stroke-width="5.1"/>
<line x1="786.8" y1="876.2" x2="822.5" y2="855.6" stroke="#7a4a30" stroke-width="5.1"/>
<line x1="786.8" y1="917.5" x2="822.5" y2="938.1" stroke="#7a4a30" stroke-width="5.1"/>
<line x1="822.5" y1="731.9" x2="858.2" y2="752.5" stroke="#7a4a30" stroke-width="5.1"/>
<line x1="822.5" y1="814.4" x2="822.5" y2="855.6" stroke="#7a4a30" stroke-width="5.1"/>
<line x1="822.5" y1="814.4" x2="858.2" y2="793.7" stroke="#7a4a30" stroke-width="5.1"/>
<line x1="822.5" y1="855.6" x2="858.2" y2="876.2" stroke="#7a4a30" stroke-width="5.1"/>
<line x1="822.5" y1="938.1" x2="822.5" y2="979.4" stroke="#7a4a30" stroke-width="5.1"/>
<line x1="822.5" y1="938.1" x2="858.2" y2="917.5" stroke="#7a4a30" stroke-width="5.1"/>
<line x1="822.5" y1="979.4" x2="858.2" y2="1000.0" stroke="#7a4a30" stroke-width="5.1"/>
<line x1="679.6" y1="855.6" x2="679.6" y2="814.4" stroke="#9c7660" stroke-width="4.2"/>
<line x1="679.6" y1="855.6" x2="643.9" y2="876.2" stroke="#9c7660" stroke-width="4.2"/>
<line x1="679.6" y1="855.6" x2="715.4" y2="876.2" stroke="#9c7660" stroke-width="4.2"/>
<line x1="679.6" y1="855.6" x2="643.9" y2="835.0" stroke="#7e4e36" stroke-width="3.6"/>
<line x1="679.6" y1="855.6" x2="715.4" y2="835.0" stroke="#7e4e36" stroke-width="3.6"/>
<line x1="679.6" y1="855.6" x2="679.6" y2="896.9" stroke="#7e4e36" stroke-width="3.6"/>
<path d="M651.1 795.9 C650.8 793.5 657.3 791.0 661.9 788.7 C666.5 786.5 671.8 783.9 676.3 783.7 C680.8 783.4 683.7 785.0 686.4 787.3 C689.0 789.5 690.2 792.7 690.7 795.9 C691.2 799.1 690.3 802.1 689.2 804.5 C688.2 807.0 688.1 808.5 684.9 809.2 C681.8 809.8 675.9 809.5 672.0 808.1 C668.0 806.8 667.2 804.2 663.3 802.0 C659.5 799.7 651.4 798.3 651.1 795.9 Z" fill="url(#cyg)" opacity="0.95"/>
<path d="M612.2 862.1 C613.3 859.5 615.7 863.4 618.7 865.0 C621.7 866.6 625.6 868.7 628.8 870.8 C632.0 872.8 633.9 873.6 636.0 876.2 C638.1 878.9 640.6 881.9 640.3 885.2 C640.0 888.4 637.2 891.7 634.5 893.8 C631.9 895.9 629.1 897.2 625.9 896.7 C622.7 896.1 619.6 894.1 617.3 890.9 C614.9 887.7 613.9 884.7 613.0 879.4 C612.0 874.1 611.2 864.8 612.2 862.1 Z" fill="url(#cyg)" opacity="0.95"/>
<path d="M709.4 844.1 C713.4 844.5 718.9 845.0 722.4 847.7 C725.8 850.5 727.3 854.5 728.1 859.2 C728.9 864.0 728.3 868.4 726.7 873.6 C725.1 878.9 722.6 883.8 719.5 888.0 C716.3 892.3 713.4 894.7 709.4 896.7 C705.4 898.7 701.8 899.6 697.9 898.8 C693.9 898.0 690.4 895.9 687.8 892.4 C685.2 888.8 684.1 884.4 683.5 879.4 C682.8 874.4 682.9 870.0 684.2 865.0 C685.5 860.0 687.7 855.6 690.7 852.0 C693.7 848.5 697.3 847.0 700.8 845.6 C704.2 844.1 705.4 843.7 709.4 844.1 Z" fill="url(#cyg)" opacity="0.95"/>
<path d="M767.7 859.2 C768.2 855.8 769.4 855.9 772.7 854.9 C776.0 854.0 783.3 848.9 785.7 854.2 C788.1 859.5 787.5 878.7 785.7 883.7 C783.8 888.7 778.5 883.4 775.6 881.6 C772.7 879.7 771.3 877.7 769.9 873.6 C768.4 869.6 767.2 862.7 767.7 859.2 Z" fill="url(#cyg)" opacity="0.95"/>
<ellipse cx="737.8" cy="931.5" rx="13.4" ry="6.7" fill="url(#cyg)" opacity="0.93"/>
<path d="M699.3 817.5 C698.5 815.1 697.1 812.2 695.0 810.6 C692.9 809.0 692.3 808.2 687.8 808.6 C683.3 809.0 675.5 811.0 670.5 812.9 C665.5 814.8 664.4 814.4 660.5 818.9 C656.5 823.5 652.8 831.8 648.9 837.7 C645.1 843.5 641.6 845.9 639.6 850.6 C637.5 855.4 637.8 859.3 637.7 863.6 C637.6 867.8 637.9 869.7 638.9 873.6 C639.9 877.6 640.8 881.7 643.2 885.2 C645.6 888.6 648.7 891.6 651.8 892.4 C655.0 893.1 657.8 891.9 660.5 889.5 C663.1 887.1 665.0 883.4 666.2 879.4 C667.4 875.4 666.9 872.1 666.9 867.9 C666.9 863.7 665.6 860.6 666.2 856.4 C666.9 852.1 667.9 848.3 670.5 844.9 C673.2 841.4 676.7 840.3 680.6 837.7 C684.6 835.0 688.7 833.0 692.1 830.5 C695.6 827.9 698.0 825.9 699.3 823.5 C700.6 821.2 700.1 819.9 699.3 817.5 Z" fill="url(#yeg)" opacity="0.97"/>
<path d="M723.8 867.9 C729.1 863.8 738.9 862.6 743.9 862.8 C749.0 863.1 749.4 865.2 751.1 869.3 C752.9 873.4 753.6 879.6 753.3 885.2 C753.0 890.7 752.7 895.3 749.7 899.6 C746.7 903.8 741.8 906.1 736.7 908.2 C731.7 910.3 725.9 912.7 722.4 911.1 C718.8 909.5 718.6 904.3 717.3 899.6 C716.0 894.8 714.0 891.0 715.2 885.2 C716.3 879.4 718.5 872.0 723.8 867.9 Z" fill="url(#yeg)" opacity="0.97"/>
<line x1="679.6" y1="814.4" x2="715.4" y2="835.0" stroke="#71432b" stroke-width="5.4"/>
<line x1="715.4" y1="835.0" x2="715.4" y2="876.2" stroke="#71432b" stroke-width="5.4"/>
<line x1="715.4" y1="876.2" x2="679.6" y2="896.9" stroke="#71432b" stroke-width="5.4"/>
<line x1="679.6" y1="896.9" x2="643.9" y2="876.2" stroke="#71432b" stroke-width="5.4"/>
<line x1="643.9" y1="876.2" x2="643.9" y2="835.0" stroke="#71432b" stroke-width="5.4"/>
<line x1="643.9" y1="835.0" x2="679.6" y2="814.4" stroke="#71432b" stroke-width="5.4"/>
<line x1="679.6" y1="855.6" x2="662.5" y2="845.7" stroke="#aab1d9" stroke-width="5"/>
<line x1="679.6" y1="855.6" x2="696.8" y2="845.7" stroke="#aab1d9" stroke-width="5"/>
<line x1="679.6" y1="855.6" x2="679.6" y2="875.4" stroke="#aab1d9" stroke-width="5"/>
<circle cx="536.7" cy="731.9" r="8.4" fill="url(#catom)"/>
<circle cx="536.7" cy="773.1" r="8.4" fill="url(#catom)"/>
<circle cx="536.7" cy="814.4" r="8.4" fill="url(#catom)"/>
<circle cx="536.7" cy="855.6" r="8.4" fill="url(#catom)"/>
<circle cx="536.7" cy="896.9" r="8.4" fill="url(#catom)"/>
<circle cx="536.7" cy="938.1" r="8.4" fill="url(#catom)"/>
<circle cx="536.7" cy="979.4" r="8.4" fill="url(#catom)"/>
<circle cx="572.5" cy="752.5" r="8.4" fill="url(#catom)"/>
<circle cx="572.5" cy="793.7" r="8.4" fill="url(#catom)"/>
<circle cx="572.5" cy="835.0" r="8.4" fill="url(#catom)"/>
<circle cx="572.5" cy="876.2" r="8.4" fill="url(#catom)"/>
<circle cx="572.5" cy="917.5" r="8.4" fill="url(#catom)"/>
<circle cx="572.5" cy="958.7" r="8.4" fill="url(#catom)"/>
<circle cx="608.2" cy="731.9" r="8.4" fill="url(#catom)"/>
<circle cx="608.2" cy="773.1" r="8.4" fill="url(#catom)"/>
<circle cx="608.2" cy="814.4" r="8.4" fill="url(#catom)"/>
<circle cx="608.2" cy="855.6" r="8.4" fill="url(#catom)"/>
<circle cx="608.2" cy="896.9" r="8.4" fill="url(#catom)"/>
<circle cx="608.2" cy="938.1" r="8.4" fill="url(#catom)"/>
<circle cx="608.2" cy="979.4" r="8.4" fill="url(#catom)"/>
<circle cx="643.9" cy="752.5" r="8.4" fill="url(#catom)"/>
<circle cx="643.9" cy="793.7" r="8.4" fill="url(#catom)"/>
<circle cx="643.9" cy="835.0" r="8.7" fill="url(#catomd)"/>
<circle cx="643.9" cy="876.2" r="8.7" fill="url(#catomd)"/>
<circle cx="643.9" cy="917.5" r="8.4" fill="url(#catom)"/>
<circle cx="643.9" cy="958.7" r="8.4" fill="url(#catom)"/>
<circle cx="679.6" cy="731.9" r="8.4" fill="url(#catom)"/>
<circle cx="679.6" cy="773.1" r="8.4" fill="url(#catom)"/>
<circle cx="679.6" cy="814.4" r="8.7" fill="url(#catomd)"/>
<circle cx="679.6" cy="896.9" r="8.7" fill="url(#catomd)"/>
<circle cx="679.6" cy="938.1" r="8.4" fill="url(#catom)"/>
<circle cx="679.6" cy="979.4" r="8.4" fill="url(#catom)"/>
<circle cx="715.4" cy="752.5" r="8.4" fill="url(#catom)"/>
<circle cx="715.4" cy="793.7" r="8.4" fill="url(#catom)"/>
<circle cx="715.4" cy="835.0" r="8.7" fill="url(#catomd)"/>
<circle cx="715.4" cy="876.2" r="8.7" fill="url(#catomd)"/>
<circle cx="715.4" cy="917.5" r="8.4" fill="url(#catom)"/>
<circle cx="715.4" cy="958.7" r="8.4" fill="url(#catom)"/>
<circle cx="751.1" cy="731.9" r="8.4" fill="url(#catom)"/>
<circle cx="751.1" cy="773.1" r="8.4" fill="url(#catom)"/>
<circle cx="751.1" cy="814.4" r="8.4" fill="url(#catom)"/>
<circle cx="751.1" cy="855.6" r="8.4" fill="url(#catom)"/>
<circle cx="751.1" cy="896.9" r="8.4" fill="url(#catom)"/>
<circle cx="751.1" cy="938.1" r="8.4" fill="url(#catom)"/>
<circle cx="751.1" cy="979.4" r="8.4" fill="url(#catom)"/>
<circle cx="786.8" cy="752.5" r="8.4" fill="url(#catom)"/>
<circle cx="786.8" cy="793.7" r="8.4" fill="url(#catom)"/>
<circle cx="786.8" cy="835.0" r="8.4" fill="url(#catom)"/>
<circle cx="786.8" cy="876.2" r="8.4" fill="url(#catom)"/>
<circle cx="786.8" cy="917.5" r="8.4" fill="url(#catom)"/>
<circle cx="786.8" cy="958.7" r="8.4" fill="url(#catom)"/>
<circle cx="822.5" cy="731.9" r="8.4" fill="url(#catom)"/>
<circle cx="822.5" cy="773.1" r="8.4" fill="url(#catom)"/>
<circle cx="822.5" cy="814.4" r="8.4" fill="url(#catom)"/>
<circle cx="822.5" cy="855.6" r="8.4" fill="url(#catom)"/>
<circle cx="822.5" cy="896.9" r="8.4" fill="url(#catom)"/>
<circle cx="822.5" cy="938.1" r="8.4" fill="url(#catom)"/>
<circle cx="822.5" cy="979.4" r="8.4" fill="url(#catom)"/>
<circle cx="679.6" cy="855.6" r="8.4" fill="url(#natom)"/>
<path d="M728.1 883.7 C730.1 881.3 734.2 878.5 738.2 878.0 C742.1 877.4 747.1 878.7 749.7 880.8 C752.3 883.0 752.8 885.8 752.6 889.5 C752.3 893.2 750.9 898.0 748.3 901.0 C745.6 904.0 741.5 906.3 738.2 906.0 C734.9 905.8 732.3 902.3 730.3 899.6 C728.3 896.8 727.8 893.8 727.4 890.9 C727.0 888.0 726.1 886.1 728.1 883.7 Z" fill="url(#cyg2)" opacity="0.92"/>
<circle cx="679.6" cy="782.2" r="2.4" fill="#dcdc3c"/>
<circle cx="616.6" cy="892.4" r="2.2" fill="#dcdc3c"/>
<circle cx="758.3" cy="901.0" r="2.6" fill="#dcdc3c"/>
<ellipse cx="641.4" cy="763.1" rx="6.1" ry="3.8" fill="url(#yeg)" opacity="0.93"/>
<ellipse cx="581.3" cy="870.0" rx="2.7" ry="5.4" fill="url(#yeg)" opacity="0.93"/>
</g>
<g clip-path="url(#clipc3)">
<rect x="854.4" y="760.6" width="201.60000000000002" height="173.39999999999998" fill="#fff"/>
<line x1="810.4" y1="773.1" x2="810.4" y2="814.4" stroke="#977059" stroke-width="4.7"/>
<line x1="810.4" y1="773.1" x2="846.1" y2="752.5" stroke="#977059" stroke-width="4.7"/>
<line x1="810.4" y1="814.4" x2="846.1" y2="835.0" stroke="#977059" stroke-width="4.7"/>
<line x1="810.4" y1="896.9" x2="810.4" y2="938.1" stroke="#977059" stroke-width="4.7"/>
<line x1="810.4" y1="896.9" x2="846.1" y2="876.2" stroke="#977059" stroke-width="4.7"/>
<line x1="810.4" y1="938.1" x2="846.1" y2="958.7" stroke="#977059" stroke-width="4.7"/>
<line x1="846.1" y1="752.5" x2="881.8" y2="773.1" stroke="#977059" stroke-width="4.7"/>
<line x1="846.1" y1="835.0" x2="846.1" y2="876.2" stroke="#977059" stroke-width="4.7"/>
<line x1="846.1" y1="835.0" x2="881.8" y2="814.4" stroke="#977059" stroke-width="4.7"/>
<line x1="846.1" y1="876.2" x2="881.8" y2="896.9" stroke="#977059" stroke-width="4.7"/>
<line x1="846.1" y1="958.7" x2="846.1" y2="1000.0" stroke="#977059" stroke-width="4.7"/>
<line x1="846.1" y1="958.7" x2="881.8" y2="938.1" stroke="#977059" stroke-width="4.7"/>
<line x1="881.8" y1="773.1" x2="881.8" y2="814.4" stroke="#977059" stroke-width="4.7"/>
<line x1="881.8" y1="773.1" x2="917.6" y2="752.5" stroke="#977059" stroke-width="4.7"/>
<line x1="881.8" y1="814.4" x2="917.6" y2="835.0" stroke="#977059" stroke-width="4.7"/>
<line x1="881.8" y1="896.9" x2="881.8" y2="938.1" stroke="#977059" stroke-width="4.7"/>
<line x1="881.8" y1="896.9" x2="917.6" y2="876.2" stroke="#977059" stroke-width="4.7"/>
<line x1="881.8" y1="938.1" x2="917.6" y2="958.7" stroke="#977059" stroke-width="4.7"/>
<line x1="917.6" y1="752.5" x2="953.3" y2="773.1" stroke="#977059" stroke-width="4.7"/>
<line x1="917.6" y1="958.7" x2="917.6" y2="1000.0" stroke="#977059" stroke-width="4.7"/>
<line x1="917.6" y1="958.7" x2="953.3" y2="938.1" stroke="#977059" stroke-width="4.7"/>
<line x1="953.3" y1="773.1" x2="953.3" y2="814.4" stroke="#977059" stroke-width="4.7"/>
<line x1="953.3" y1="773.1" x2="989.0" y2="752.5" stroke="#977059" stroke-width="4.7"/>
<line x1="953.3" y1="896.9" x2="953.3" y2="938.1" stroke="#977059" stroke-width="4.7"/>
<line x1="953.3" y1="938.1" x2="989.0" y2="958.7" stroke="#977059" stroke-width="4.7"/>
<line x1="989.0" y1="752.5" x2="1024.7" y2="773.1" stroke="#977059" stroke-width="4.7"/>
<line x1="989.0" y1="835.0" x2="1024.7" y2="814.4" stroke="#977059" stroke-width="4.7"/>
<line x1="989.0" y1="876.2" x2="1024.7" y2="896.9" stroke="#977059" stroke-width="4.7"/>
<line x1="989.0" y1="958.7" x2="989.0" y2="1000.0" stroke="#977059" stroke-width="4.7"/>
<line x1="989.0" y1="958.7" x2="1024.7" y2="938.1" stroke="#977059" stroke-width="4.7"/>
<line x1="1024.7" y1="773.1" x2="1024.7" y2="814.4" stroke="#977059" stroke-width="4.7"/>
<line x1="1024.7" y1="773.1" x2="1060.5" y2="752.5" stroke="#977059" stroke-width="4.7"/>
<line x1="1024.7" y1="814.4" x2="1060.5" y2="835.0" stroke="#977059" stroke-width="4.7"/>
<line x1="1024.7" y1="896.9" x2="1024.7" y2="938.1" stroke="#977059" stroke-width="4.7"/>
<line x1="1024.7" y1="896.9" x2="1060.5" y2="876.2" stroke="#977059" stroke-width="4.7"/>
<line x1="1024.7" y1="938.1" x2="1060.5" y2="958.7" stroke="#977059" stroke-width="4.7"/>
<line x1="1060.5" y1="752.5" x2="1096.2" y2="773.1" stroke="#977059" stroke-width="4.7"/>
<line x1="1060.5" y1="835.0" x2="1060.5" y2="876.2" stroke="#977059" stroke-width="4.7"/>
<line x1="1060.5" y1="835.0" x2="1096.2" y2="814.4" stroke="#977059" stroke-width="4.7"/>
<line x1="1060.5" y1="876.2" x2="1096.2" y2="896.9" stroke="#977059" stroke-width="4.7"/>
<line x1="1060.5" y1="958.7" x2="1060.5" y2="1000.0" stroke="#977059" stroke-width="4.7"/>
<line x1="1060.5" y1="958.7" x2="1096.2" y2="938.1" stroke="#977059" stroke-width="4.7"/>
<line x1="1096.2" y1="773.1" x2="1096.2" y2="814.4" stroke="#977059" stroke-width="4.7"/>
<line x1="1096.2" y1="773.1" x2="1131.9" y2="752.5" stroke="#977059" stroke-width="4.7"/>
<line x1="1096.2" y1="814.4" x2="1131.9" y2="835.0" stroke="#977059" stroke-width="4.7"/>
<line x1="1096.2" y1="896.9" x2="1096.2" y2="938.1" stroke="#977059" stroke-width="4.7"/>
<line x1="1096.2" y1="896.9" x2="1131.9" y2="876.2" stroke="#977059" stroke-width="4.7"/>
<line x1="1096.2" y1="938.1" x2="1131.9" y2="958.7" stroke="#977059" stroke-width="4.7"/>
<line x1="810.4" y1="731.9" x2="810.4" y2="773.1" stroke="#8a5c43" stroke-width="4.9"/>
<line x1="810.4" y1="731.9" x2="846.1" y2="711.2" stroke="#8a5c43" stroke-width="4.9"/>
<line x1="810.4" y1="773.1" x2="846.1" y2="793.7" stroke="#8a5c43" stroke-width="4.9"/>
<line x1="810.4" y1="855.6" x2="810.4" y2="896.9" stroke="#8a5c43" stroke-width="4.9"/>
<line x1="810.4" y1="855.6" x2="846.1" y2="835.0" stroke="#8a5c43" stroke-width="4.9"/>
<line x1="810.4" y1="896.9" x2="846.1" y2="917.5" stroke="#8a5c43" stroke-width="4.9"/>
<line x1="810.4" y1="979.4" x2="810.4" y2="1020.6" stroke="#8a5c43" stroke-width="4.9"/>
<line x1="810.4" y1="979.4" x2="846.1" y2="958.7" stroke="#8a5c43" stroke-width="4.9"/>
<line x1="846.1" y1="793.7" x2="846.1" y2="835.0" stroke="#8a5c43" stroke-width="4.9"/>
<line x1="846.1" y1="793.7" x2="881.8" y2="773.1" stroke="#8a5c43" stroke-width="4.9"/>
<line x1="846.1" y1="835.0" x2="881.8" y2="855.6" stroke="#8a5c43" stroke-width="4.9"/>
<line x1="846.1" y1="917.5" x2="846.1" y2="958.7" stroke="#8a5c43" stroke-width="4.9"/>
<line x1="846.1" y1="917.5" x2="881.8" y2="896.9" stroke="#8a5c43" stroke-width="4.9"/>
<line x1="846.1" y1="958.7" x2="881.8" y2="979.4" stroke="#8a5c43" stroke-width="4.9"/>
<line x1="881.8" y1="731.9" x2="881.8" y2="773.1" stroke="#8a5c43" stroke-width="4.9"/>
<line x1="881.8" y1="731.9" x2="917.6" y2="711.2" stroke="#8a5c43" stroke-width="4.9"/>
<line x1="881.8" y1="773.1" x2="917.6" y2="793.7" stroke="#8a5c43" stroke-width="4.9"/>
<line x1="881.8" y1="855.6" x2="881.8" y2="896.9" stroke="#8a5c43" stroke-width="4.9"/>
<line x1="881.8" y1="855.6" x2="917.6" y2="835.0" stroke="#8a5c43" stroke-width="4.9"/>
<line x1="881.8" y1="896.9" x2="917.6" y2="917.5" stroke="#8a5c43" stroke-width="4.9"/>
<line x1="881.8" y1="979.4" x2="881.8" y2="1020.6" stroke="#8a5c43" stroke-width="4.9"/>
<line x1="881.8" y1="979.4" x2="917.6" y2="958.7" stroke="#8a5c43" stroke-width="4.9"/>
<line x1="917.6" y1="793.7" x2="917.6" y2="835.0" stroke="#8a5c43" stroke-width="4.9"/>
<line x1="917.6" y1="793.7" x2="953.3" y2="773.1" stroke="#8a5c43" stroke-width="4.9"/>
<line x1="917.6" y1="917.5" x2="917.6" y2="958.7" stroke="#8a5c43" stroke-width="4.9"/>
<line x1="917.6" y1="917.5" x2="953.3" y2="896.9" stroke="#8a5c43" stroke-width="4.9"/>
<line x1="917.6" y1="958.7" x2="953.3" y2="979.4" stroke="#8a5c43" stroke-width="4.9"/>
<line x1="953.3" y1="731.9" x2="953.3" y2="773.1" stroke="#8a5c43" stroke-width="4.9"/>
<line x1="953.3" y1="731.9" x2="989.0" y2="711.2" stroke="#8a5c43" stroke-width="4.9"/>
<line x1="953.3" y1="773.1" x2="989.0" y2="793.7" stroke="#8a5c43" stroke-width="4.9"/>
<line x1="953.3" y1="896.9" x2="989.0" y2="917.5" stroke="#8a5c43" stroke-width="4.9"/>
<line x1="953.3" y1="979.4" x2="953.3" y2="1020.6" stroke="#8a5c43" stroke-width="4.9"/>
<line x1="953.3" y1="979.4" x2="989.0" y2="958.7" stroke="#8a5c43" stroke-width="4.9"/>
<line x1="989.0" y1="793.7" x2="989.0" y2="835.0" stroke="#8a5c43" stroke-width="4.9"/>
<line x1="989.0" y1="793.7" x2="1024.7" y2="773.1" stroke="#8a5c43" stroke-width="4.9"/>
<line x1="989.0" y1="835.0" x2="1024.7" y2="855.6" stroke="#8a5c43" stroke-width="4.9"/>
<line x1="989.0" y1="917.5" x2="989.0" y2="958.7" stroke="#8a5c43" stroke-width="4.9"/>
<line x1="989.0" y1="917.5" x2="1024.7" y2="896.9" stroke="#8a5c43" stroke-width="4.9"/>
<line x1="989.0" y1="958.7" x2="1024.7" y2="979.4" stroke="#8a5c43" stroke-width="4.9"/>
<line x1="1024.7" y1="731.9" x2="1024.7" y2="773.1" stroke="#8a5c43" stroke-width="4.9"/>
<line x1="1024.7" y1="731.9" x2="1060.5" y2="711.2" stroke="#8a5c43" stroke-width="4.9"/>
<line x1="1024.7" y1="773.1" x2="1060.5" y2="793.7" stroke="#8a5c43" stroke-width="4.9"/>
<line x1="1024.7" y1="855.6" x2="1024.7" y2="896.9" stroke="#8a5c43" stroke-width="4.9"/>
<line x1="1024.7" y1="855.6" x2="1060.5" y2="835.0" stroke="#8a5c43" stroke-width="4.9"/>
<line x1="1024.7" y1="896.9" x2="1060.5" y2="917.5" stroke="#8a5c43" stroke-width="4.9"/>
<line x1="1024.7" y1="979.4" x2="1024.7" y2="1020.6" stroke="#8a5c43" stroke-width="4.9"/>
<line x1="1024.7" y1="979.4" x2="1060.5" y2="958.7" stroke="#8a5c43" stroke-width="4.9"/>
<line x1="1060.5" y1="793.7" x2="1060.5" y2="835.0" stroke="#8a5c43" stroke-width="4.9"/>
<line x1="1060.5" y1="793.7" x2="1096.2" y2="773.1" stroke="#8a5c43" stroke-width="4.9"/>
<line x1="1060.5" y1="835.0" x2="1096.2" y2="855.6" stroke="#8a5c43" stroke-width="4.9"/>
<line x1="1060.5" y1="917.5" x2="1060.5" y2="958.7" stroke="#8a5c43" stroke-width="4.9"/>
<line x1="1060.5" y1="917.5" x2="1096.2" y2="896.9" stroke="#8a5c43" stroke-width="4.9"/>
<line x1="1060.5" y1="958.7" x2="1096.2" y2="979.4" stroke="#8a5c43" stroke-width="4.9"/>
<line x1="1096.2" y1="731.9" x2="1096.2" y2="773.1" stroke="#8a5c43" stroke-width="4.9"/>
<line x1="1096.2" y1="731.9" x2="1131.9" y2="711.2" stroke="#8a5c43" stroke-width="4.9"/>
<line x1="1096.2" y1="773.1" x2="1131.9" y2="793.7" stroke="#8a5c43" stroke-width="4.9"/>
<line x1="1096.2" y1="855.6" x2="1096.2" y2="896.9" stroke="#8a5c43" stroke-width="4.9"/>
<line x1="1096.2" y1="855.6" x2="1131.9" y2="835.0" stroke="#8a5c43" stroke-width="4.9"/>
<line x1="1096.2" y1="896.9" x2="1131.9" y2="917.5" stroke="#8a5c43" stroke-width="4.9"/>
<line x1="1096.2" y1="979.4" x2="1096.2" y2="1020.6" stroke="#8a5c43" stroke-width="4.9"/>
<line x1="1096.2" y1="979.4" x2="1131.9" y2="958.7" stroke="#8a5c43" stroke-width="4.9"/>
<line x1="810.4" y1="731.9" x2="846.1" y2="752.5" stroke="#7a4a30" stroke-width="5.1"/>
<line x1="810.4" y1="814.4" x2="810.4" y2="855.6" stroke="#7a4a30" stroke-width="5.1"/>
<line x1="810.4" y1="814.4" x2="846.1" y2="793.7" stroke="#7a4a30" stroke-width="5.1"/>
<line x1="810.4" y1="855.6" x2="846.1" y2="876.2" stroke="#7a4a30" stroke-width="5.1"/>
<line x1="810.4" y1="938.1" x2="810.4" y2="979.4" stroke="#7a4a30" stroke-width="5.1"/>
<line x1="810.4" y1="938.1" x2="846.1" y2="917.5" stroke="#7a4a30" stroke-width="5.1"/>
<line x1="810.4" y1="979.4" x2="846.1" y2="1000.0" stroke="#7a4a30" stroke-width="5.1"/>
<line x1="846.1" y1="752.5" x2="846.1" y2="793.7" stroke="#7a4a30" stroke-width="5.1"/>
<line x1="846.1" y1="752.5" x2="881.8" y2="731.9" stroke="#7a4a30" stroke-width="5.1"/>
<line x1="846.1" y1="793.7" x2="881.8" y2="814.4" stroke="#7a4a30" stroke-width="5.1"/>
<line x1="846.1" y1="876.2" x2="846.1" y2="917.5" stroke="#7a4a30" stroke-width="5.1"/>
<line x1="846.1" y1="876.2" x2="881.8" y2="855.6" stroke="#7a4a30" stroke-width="5.1"/>
<line x1="846.1" y1="917.5" x2="881.8" y2="938.1" stroke="#7a4a30" stroke-width="5.1"/>
<line x1="881.8" y1="731.9" x2="917.6" y2="752.5" stroke="#7a4a30" stroke-width="5.1"/>
<line x1="881.8" y1="814.4" x2="881.8" y2="855.6" stroke="#7a4a30" stroke-width="5.1"/>
<line x1="881.8" y1="814.4" x2="917.6" y2="793.7" stroke="#7a4a30" stroke-width="5.1"/>
<line x1="881.8" y1="855.6" x2="917.6" y2="876.2" stroke="#7a4a30" stroke-width="5.1"/>
<line x1="881.8" y1="938.1" x2="881.8" y2="979.4" stroke="#7a4a30" stroke-width="5.1"/>
<line x1="881.8" y1="938.1" x2="917.6" y2="917.5" stroke="#7a4a30" stroke-width="5.1"/>
<line x1="881.8" y1="979.4" x2="917.6" y2="1000.0" stroke="#7a4a30" stroke-width="5.1"/>
<line x1="917.6" y1="752.5" x2="917.6" y2="793.7" stroke="#7a4a30" stroke-width="5.1"/>
<line x1="917.6" y1="752.5" x2="953.3" y2="731.9" stroke="#7a4a30" stroke-width="5.1"/>
<line x1="917.6" y1="793.7" x2="953.3" y2="814.4" stroke="#7a4a30" stroke-width="5.1"/>
<line x1="917.6" y1="876.2" x2="917.6" y2="917.5" stroke="#7a4a30" stroke-width="5.1"/>
<line x1="917.6" y1="917.5" x2="953.3" y2="938.1" stroke="#7a4a30" stroke-width="5.1"/>
<line x1="953.3" y1="731.9" x2="989.0" y2="752.5" stroke="#7a4a30" stroke-width="5.1"/>
<line x1="953.3" y1="814.4" x2="989.0" y2="793.7" stroke="#7a4a30" stroke-width="5.1"/>
<line x1="953.3" y1="938.1" x2="953.3" y2="979.4" stroke="#7a4a30" stroke-width="5.1"/>
<line x1="953.3" y1="938.1" x2="989.0" y2="917.5" stroke="#7a4a30" stroke-width="5.1"/>
<line x1="953.3" y1="979.4" x2="989.0" y2="1000.0" stroke="#7a4a30" stroke-width="5.1"/>
<line x1="989.0" y1="752.5" x2="989.0" y2="793.7" stroke="#7a4a30" stroke-width="5.1"/>
<line x1="989.0" y1="752.5" x2="1024.7" y2="731.9" stroke="#7a4a30" stroke-width="5.1"/>
<line x1="989.0" y1="793.7" x2="1024.7" y2="814.4" stroke="#7a4a30" stroke-width="5.1"/>
<line x1="989.0" y1="876.2" x2="989.0" y2="917.5" stroke="#7a4a30" stroke-width="5.1"/>
<line x1="989.0" y1="876.2" x2="1024.7" y2="855.6" stroke="#7a4a30" stroke-width="5.1"/>
<line x1="989.0" y1="917.5" x2="1024.7" y2="938.1" stroke="#7a4a30" stroke-width="5.1"/>
<line x1="1024.7" y1="731.9" x2="1060.5" y2="752.5" stroke="#7a4a30" stroke-width="5.1"/>
<line x1="1024.7" y1="814.4" x2="1024.7" y2="855.6" stroke="#7a4a30" stroke-width="5.1"/>
<line x1="1024.7" y1="814.4" x2="1060.5" y2="793.7" stroke="#7a4a30" stroke-width="5.1"/>
<line x1="1024.7" y1="855.6" x2="1060.5" y2="876.2" stroke="#7a4a30" stroke-width="5.1"/>
<line x1="1024.7" y1="938.1" x2="1024.7" y2="979.4" stroke="#7a4a30" stroke-width="5.1"/>
<line x1="1024.7" y1="938.1" x2="1060.5" y2="917.5" stroke="#7a4a30" stroke-width="5.1"/>
<line x1="1024.7" y1="979.4" x2="1060.5" y2="1000.0" stroke="#7a4a30" stroke-width="5.1"/>
<line x1="1060.5" y1="752.5" x2="1060.5" y2="793.7" stroke="#7a4a30" stroke-width="5.1"/>
<line x1="1060.5" y1="752.5" x2="1096.2" y2="731.9" stroke="#7a4a30" stroke-width="5.1"/>
<line x1="1060.5" y1="793.7" x2="1096.2" y2="814.4" stroke="#7a4a30" stroke-width="5.1"/>
<line x1="1060.5" y1="876.2" x2="1060.5" y2="917.5" stroke="#7a4a30" stroke-width="5.1"/>
<line x1="1060.5" y1="876.2" x2="1096.2" y2="855.6" stroke="#7a4a30" stroke-width="5.1"/>
<line x1="1060.5" y1="917.5" x2="1096.2" y2="938.1" stroke="#7a4a30" stroke-width="5.1"/>
<line x1="1096.2" y1="731.9" x2="1131.9" y2="752.5" stroke="#7a4a30" stroke-width="5.1"/>
<line x1="1096.2" y1="814.4" x2="1096.2" y2="855.6" stroke="#7a4a30" stroke-width="5.1"/>
<line x1="1096.2" y1="814.4" x2="1131.9" y2="793.7" stroke="#7a4a30" stroke-width="5.1"/>
<line x1="1096.2" y1="855.6" x2="1131.9" y2="876.2" stroke="#7a4a30" stroke-width="5.1"/>
<line x1="1096.2" y1="938.1" x2="1096.2" y2="979.4" stroke="#7a4a30" stroke-width="5.1"/>
<line x1="1096.2" y1="938.1" x2="1131.9" y2="917.5" stroke="#7a4a30" stroke-width="5.1"/>
<line x1="1096.2" y1="979.4" x2="1131.9" y2="1000.0" stroke="#7a4a30" stroke-width="5.1"/>
<line x1="953.3" y1="855.6" x2="953.3" y2="814.4" stroke="#9c7660" stroke-width="4.2"/>
<line x1="953.3" y1="855.6" x2="917.6" y2="876.2" stroke="#9c7660" stroke-width="4.2"/>
<line x1="953.3" y1="855.6" x2="989.0" y2="876.2" stroke="#9c7660" stroke-width="4.2"/>
<line x1="953.3" y1="855.6" x2="917.6" y2="835.0" stroke="#7e4e36" stroke-width="3.6"/>
<line x1="953.3" y1="855.6" x2="989.0" y2="835.0" stroke="#7e4e36" stroke-width="3.6"/>
<line x1="953.3" y1="855.6" x2="953.3" y2="896.9" stroke="#7e4e36" stroke-width="3.6"/>
<path d="M933.4 794.1 C934.4 791.0 937.0 786.5 940.5 783.4 C944.1 780.3 948.1 777.8 953.0 777.2 C957.8 776.5 961.8 776.9 967.2 779.9 C972.5 782.8 980.3 789.6 982.3 793.2 C984.2 796.7 980.9 796.9 977.8 799.4 C974.7 801.8 969.9 804.7 965.4 806.5 C960.8 808.3 957.2 809.1 953.0 809.1 C948.7 809.1 945.6 808.1 942.3 806.5 C939.1 804.9 936.8 802.5 935.2 800.3 C933.6 798.0 932.5 797.1 933.4 794.1 Z" fill="url(#cyg)" opacity="0.95"/>
<path d="M905.0 858.9 C905.0 854.3 907.4 852.8 910.4 850.9 C913.3 848.9 916.8 847.9 921.0 848.2 C925.2 848.5 928.9 849.5 933.4 852.6 C938.0 855.7 942.3 860.5 945.9 865.1 C949.4 869.6 951.8 872.9 953.0 877.5 C954.1 882.0 953.7 886.5 952.1 889.9 C950.4 893.3 947.8 895.2 944.1 896.1 C940.3 897.1 935.9 896.7 931.7 895.2 C927.4 893.8 924.9 891.7 921.0 888.1 C917.1 884.6 913.3 881.1 910.4 875.7 C907.4 870.3 905.0 863.4 905.0 858.9 Z" fill="url(#cyg)" opacity="0.95"/>
<path d="M852.7 857.1 C854.1 853.5 858.6 857.9 860.7 859.7 C862.7 861.5 863.7 863.9 863.8 866.8 C864.0 869.8 863.6 873.4 861.5 875.7 C859.5 878.0 854.3 882.7 852.7 879.3 C851.0 875.9 851.2 860.7 852.7 857.1 Z" fill="url(#cyg)" opacity="0.95"/>
<path d="M884.6 928.1 C885.8 925.6 888.1 924.9 890.8 924.5 C893.6 924.2 896.6 924.8 899.7 926.3 C902.8 927.8 906.2 930.4 907.7 932.5 C909.2 934.6 911.9 936.9 907.7 937.9 C903.5 938.8 888.8 939.6 884.6 937.9 C880.4 936.1 883.5 930.5 884.6 928.1 Z" fill="url(#cyg)" opacity="0.95"/>
<path d="M927.6 822.5 C928.2 818.7 930.1 815.3 933.4 812.7 C936.8 810.1 940.3 808.9 945.9 808.3 C951.4 807.6 957.8 807.5 963.6 809.1 C969.5 810.8 974.3 813.7 977.8 817.1 C981.3 820.6 982.8 823.9 982.8 827.8 C982.8 831.7 981.0 835.2 977.8 838.4 C974.6 841.7 969.9 843.9 965.4 845.5 C960.8 847.2 957.8 847.8 953.0 847.3 C948.1 846.8 943.0 845.5 938.8 842.9 C934.5 840.3 931.9 836.9 929.9 833.1 C927.8 829.4 926.9 826.2 927.6 822.5 Z" fill="url(#yeg)" opacity="0.97"/>
<path d="M882.8 879.3 C883.3 875.4 885.4 872.3 888.2 870.4 C890.9 868.4 894.2 868.3 897.9 868.6 C901.7 868.9 904.8 868.3 908.6 872.2 C912.3 876.1 916.6 883.7 918.3 889.9 C920.1 896.1 919.2 901.8 918.3 905.9 C917.5 910.0 916.7 911.5 913.9 912.1 C911.1 912.8 907.2 911.2 903.3 909.4 C899.4 907.7 895.9 905.6 892.6 902.3 C889.4 899.1 887.3 895.9 885.5 891.7 C883.7 887.5 882.4 883.2 882.8 879.3 Z" fill="url(#yeg)" opacity="0.97"/>
<path d="M903.3 764.8 C902.3 762.0 900.8 758.2 905.0 756.8 C909.3 755.3 922.6 754.8 926.3 756.8 C930.1 758.7 926.8 764.5 925.4 767.4 C924.1 770.4 922.0 771.9 919.2 772.8 C916.5 773.6 913.3 773.3 910.4 771.9 C907.4 770.4 904.2 767.5 903.3 764.8 Z" fill="url(#yeg)" opacity="0.95"/>
<path d="M978.7 756.8 C982.4 754.8 998.8 754.5 1003.6 756.8 C1008.3 759.1 1005.1 765.6 1004.4 769.2 C1003.8 772.8 1002.3 775.3 1000.0 776.3 C997.7 777.3 995.1 776.2 992.0 774.5 C988.9 772.9 985.6 770.7 983.1 767.4 C980.7 764.2 975.0 758.7 978.7 756.8 Z" fill="url(#yeg)" opacity="0.95"/>
<path d="M881.1 889.9 C881.2 886.8 882.3 883.9 884.6 881.9 C886.9 880.0 890.2 878.9 893.5 879.3 C896.7 879.6 900.4 881.1 902.4 883.7 C904.3 886.3 904.6 890.2 904.1 893.5 C903.7 896.7 902.1 899.7 899.7 901.5 C897.3 903.2 893.8 903.7 890.8 903.2 C887.9 902.7 885.5 901.2 883.7 898.8 C881.9 896.4 880.9 893.0 881.1 889.9 Z" fill="url(#cyg2)" opacity="0.92"/>
<line x1="953.3" y1="814.4" x2="989.0" y2="835.0" stroke="#71432b" stroke-width="5.4"/>
<line x1="989.0" y1="835.0" x2="989.0" y2="876.2" stroke="#71432b" stroke-width="5.4"/>
<line x1="989.0" y1="876.2" x2="953.3" y2="896.9" stroke="#71432b" stroke-width="5.4"/>
<line x1="953.3" y1="896.9" x2="917.6" y2="876.2" stroke="#71432b" stroke-width="5.4"/>
<line x1="917.6" y1="876.2" x2="917.6" y2="835.0" stroke="#71432b" stroke-width="5.4"/>
<line x1="917.6" y1="835.0" x2="953.3" y2="814.4" stroke="#71432b" stroke-width="5.4"/>
<line x1="953.3" y1="855.6" x2="936.1" y2="845.7" stroke="#aab1d9" stroke-width="5"/>
<line x1="953.3" y1="855.6" x2="970.4" y2="845.7" stroke="#aab1d9" stroke-width="5"/>
<line x1="953.3" y1="855.6" x2="953.3" y2="875.4" stroke="#aab1d9" stroke-width="5"/>
<circle cx="810.4" cy="731.9" r="8.4" fill="url(#catom)"/>
<circle cx="810.4" cy="773.1" r="8.4" fill="url(#catom)"/>
<circle cx="810.4" cy="814.4" r="8.4" fill="url(#catom)"/>
<circle cx="810.4" cy="855.6" r="8.4" fill="url(#catom)"/>
<circle cx="810.4" cy="896.9" r="8.4" fill="url(#catom)"/>
<circle cx="810.4" cy="938.1" r="8.4" fill="url(#catom)"/>
<circle cx="810.4" cy="979.4" r="8.4" fill="url(#catom)"/>
<circle cx="846.1" cy="752.5" r="8.4" fill="url(#catom)"/>
<circle cx="846.1" cy="793.7" r="8.4" fill="url(#catom)"/>
<circle cx="846.1" cy="835.0" r="8.4" fill="url(#catom)"/>
<circle cx="846.1" cy="876.2" r="8.4" fill="url(#catom)"/>
<circle cx="846.1" cy="917.5" r="8.4" fill="url(#catom)"/>
<circle cx="846.1" cy="958.7" r="8.4" fill="url(#catom)"/>
<circle cx="881.8" cy="731.9" r="8.4" fill="url(#catom)"/>
<circle cx="881.8" cy="773.1" r="8.4" fill="url(#catom)"/>
<circle cx="881.8" cy="814.4" r="8.4" fill="url(#catom)"/>
<circle cx="881.8" cy="855.6" r="8.4" fill="url(#catom)"/>
<circle cx="881.8" cy="896.9" r="8.4" fill="url(#catom)"/>
<circle cx="881.8" cy="938.1" r="8.4" fill="url(#catom)"/>
<circle cx="881.8" cy="979.4" r="8.4" fill="url(#catom)"/>
<circle cx="917.6" cy="752.5" r="8.4" fill="url(#catom)"/>
<circle cx="917.6" cy="793.7" r="8.4" fill="url(#catom)"/>
<circle cx="917.6" cy="835.0" r="8.7" fill="url(#catomd)"/>
<circle cx="917.6" cy="876.2" r="8.7" fill="url(#catomd)"/>
<circle cx="917.6" cy="917.5" r="8.4" fill="url(#catom)"/>
<circle cx="917.6" cy="958.7" r="8.4" fill="url(#catom)"/>
<circle cx="953.3" cy="731.9" r="8.4" fill="url(#catom)"/>
<circle cx="953.3" cy="773.1" r="8.4" fill="url(#catom)"/>
<circle cx="953.3" cy="814.4" r="8.7" fill="url(#catomd)"/>
<circle cx="953.3" cy="896.9" r="8.7" fill="url(#catomd)"/>
<circle cx="953.3" cy="938.1" r="8.4" fill="url(#catom)"/>
<circle cx="953.3" cy="979.4" r="8.4" fill="url(#catom)"/>
<circle cx="989.0" cy="752.5" r="8.4" fill="url(#catom)"/>
<circle cx="989.0" cy="793.7" r="8.4" fill="url(#catom)"/>
<circle cx="989.0" cy="835.0" r="8.7" fill="url(#catomd)"/>
<circle cx="989.0" cy="876.2" r="8.7" fill="url(#catomd)"/>
<circle cx="989.0" cy="917.5" r="8.4" fill="url(#catom)"/>
<circle cx="989.0" cy="958.7" r="8.4" fill="url(#catom)"/>
<circle cx="1024.7" cy="731.9" r="8.4" fill="url(#catom)"/>
<circle cx="1024.7" cy="773.1" r="8.4" fill="url(#catom)"/>
<circle cx="1024.7" cy="814.4" r="8.4" fill="url(#catom)"/>
<circle cx="1024.7" cy="855.6" r="8.4" fill="url(#catom)"/>
<circle cx="1024.7" cy="896.9" r="8.4" fill="url(#catom)"/>
<circle cx="1024.7" cy="938.1" r="8.4" fill="url(#catom)"/>
<circle cx="1024.7" cy="979.4" r="8.4" fill="url(#catom)"/>
<circle cx="1060.5" cy="752.5" r="8.4" fill="url(#catom)"/>
<circle cx="1060.5" cy="793.7" r="8.4" fill="url(#catom)"/>
<circle cx="1060.5" cy="835.0" r="8.4" fill="url(#catom)"/>
<circle cx="1060.5" cy="876.2" r="8.4" fill="url(#catom)"/>
<circle cx="1060.5" cy="917.5" r="8.4" fill="url(#catom)"/>
<circle cx="1060.5" cy="958.7" r="8.4" fill="url(#catom)"/>
<circle cx="1096.2" cy="731.9" r="8.4" fill="url(#catom)"/>
<circle cx="1096.2" cy="773.1" r="8.4" fill="url(#catom)"/>
<circle cx="1096.2" cy="814.4" r="8.4" fill="url(#catom)"/>
<circle cx="1096.2" cy="855.6" r="8.4" fill="url(#catom)"/>
<circle cx="1096.2" cy="896.9" r="8.4" fill="url(#catom)"/>
<circle cx="1096.2" cy="938.1" r="8.4" fill="url(#catom)"/>
<circle cx="1096.2" cy="979.4" r="8.4" fill="url(#catom)"/>
<circle cx="953.3" cy="855.6" r="8.4" fill="url(#natom)"/>
<path d="M941.4 783.4 C941.6 780.5 944.0 779.4 946.8 778.1 C949.5 776.8 953.3 776.0 956.5 776.3 C959.8 776.6 962.7 777.7 964.5 779.9 C966.3 782.0 966.8 785.1 966.3 787.8 C965.8 790.6 964.1 793.2 961.8 794.9 C959.6 796.7 956.8 797.8 953.9 797.6 C950.9 797.4 948.1 796.7 945.9 794.1 C943.6 791.5 941.3 786.3 941.4 783.4 Z" fill="url(#yeg)" opacity="0.92"/>
</g>
</g>
<g id="panel-d">
<text transform="translate(1076.2,142.6) scale(1.1,1)" font-size="37" class="b">d</text>
<path d="M1221.3 315.3 L1221.3 315.28 L1223.1 315.27 L1224.9 315.27 L1226.7 315.26 L1228.5 315.26 L1230.3 315.25 L1232.0 315.24 L1233.8 315.24 L1235.6 315.23 L1237.4 315.21 L1239.2 315.20 L1241.0 315.19 L1242.8 315.17 L1244.6 315.15 L1246.4 315.13 L1248.2 315.11 L1250.0 315.08 L1251.8 315.05 L1253.5 315.02 L1255.3 314.99 L1257.1 314.95 L1258.9 314.90 L1260.7 314.86 L1262.5 314.80 L1264.3 314.74 L1266.1 314.68 L1267.9 314.61 L1269.7 314.53 L1271.5 314.45 L1273.2 314.36 L1275.0 314.26 L1276.8 314.16 L1278.6 314.04 L1280.4 313.92 L1282.2 313.79 L1284.0 313.65 L1285.8 313.50 L1287.6 313.34 L1289.4 313.17 L1291.2 312.99 L1293.0 312.80 L1294.7 312.60 L1296.5 312.38 L1298.3 312.16 L1300.1 311.93 L1301.9 311.69 L1303.7 311.43 L1305.5 311.17 L1307.3 310.90 L1309.1 310.62 L1310.9 310.33 L1312.7 310.04 L1314.4 309.73 L1316.2 309.43 L1318.0 309.11 L1319.8 308.80 L1321.6 308.48 L1323.4 308.15 L1325.2 307.83 L1327.0 307.51 L1328.8 307.19 L1330.6 306.87 L1332.4 306.56 L1334.1 306.26 L1335.9 305.96 L1337.7 305.67 L1339.5 305.39 L1341.3 305.13 L1343.1 304.87 L1344.9 304.64 L1346.7 304.41 L1348.5 304.21 L1350.3 304.02 L1352.1 303.85 L1353.9 303.71 L1355.6 303.58 L1357.4 303.47 L1359.2 303.39 L1361.0 303.33 L1362.8 303.30 L1364.6 303.28 L1366.4 303.29 L1368.2 303.33 L1370.0 303.38 L1371.8 303.46 L1373.6 303.57 L1375.3 303.69 L1377.1 303.84 L1378.9 304.00 L1380.7 304.19 L1382.5 304.39 L1384.3 304.61 L1386.1 304.85 L1387.9 305.10 L1389.7 305.36 L1391.5 305.64 L1393.3 305.93 L1395.1 306.22 L1396.8 306.53 L1398.6 306.84 L1400.4 307.16 L1402.2 307.47 L1404.0 307.80 L1405.8 308.12 L1407.6 308.44 L1409.4 308.76 L1411.2 309.08 L1413.0 309.39 L1414.8 309.70 L1416.5 310.00 L1418.3 310.30 L1420.1 310.59 L1421.9 310.87 L1423.7 311.14 L1425.5 311.41 L1427.3 311.66 L1429.1 311.90 L1430.9 312.14 L1432.7 312.36 L1434.5 312.57 L1436.2 312.78 L1438.0 312.97 L1439.8 313.15 L1441.6 313.32 L1443.4 313.48 L1445.2 313.63 L1447.0 313.78 L1448.8 313.91 L1450.6 314.03 L1452.4 314.15 L1454.2 314.25 L1456.0 314.35 L1457.7 314.44 L1459.5 314.53 L1461.3 314.60 L1463.1 314.67 L1464.9 314.74 L1466.7 314.80 L1468.5 314.85 L1470.3 314.90 L1472.1 314.94 L1473.9 314.98 L1475.7 315.02 L1477.4 315.05 L1479.2 315.08 L1481.0 315.11 L1482.8 315.13 L1484.6 315.15 L1486.4 315.17 L1488.2 315.18 L1490.0 315.20 L1491.8 315.21 L1493.6 315.22 L1495.4 315.23 L1497.2 315.24 L1498.9 315.25 L1500.7 315.26 L1502.5 315.26 L1504.3 315.27 L1506.1 315.27 L1507.9 315.28 L1507.9 315.3 Z" fill="#d3d3d3" stroke="none"/>
<line x1="1221.3" x2="1507.9" y1="315.3" y2="315.3" stroke="#d3d3d3" stroke-width="2.6"/>
<path d="M1221.3 290.4 L1221.3 290.51 L1223.1 290.53 L1224.9 290.55 L1226.7 290.57 L1228.5 290.60 L1230.3 290.63 L1232.0 290.66 L1233.8 290.70 L1235.6 290.74 L1237.4 290.78 L1239.2 290.83 L1241.0 290.89 L1242.8 290.95 L1244.6 291.02 L1246.4 291.10 L1248.2 291.18 L1250.0 291.27 L1251.8 291.37 L1253.5 291.48 L1255.3 291.60 L1257.1 291.73 L1258.9 291.87 L1260.7 292.02 L1262.5 292.18 L1264.3 292.35 L1266.1 292.53 L1267.9 292.73 L1269.7 292.94 L1271.5 293.16 L1273.2 293.40 L1275.0 293.64 L1276.8 293.90 L1278.6 294.17 L1280.4 294.46 L1282.2 294.75 L1284.0 295.05 L1285.8 295.36 L1287.6 295.68 L1289.4 296.01 L1291.2 296.34 L1293.0 296.67 L1294.7 297.00 L1296.5 297.34 L1298.3 297.67 L1300.1 298.00 L1301.9 298.32 L1303.7 298.63 L1305.5 298.93 L1307.3 299.22 L1309.1 299.49 L1310.9 299.74 L1312.7 299.96 L1314.4 300.17 L1316.2 300.34 L1318.0 300.48 L1319.8 300.59 L1321.6 300.67 L1323.4 300.70 L1325.2 300.70 L1327.0 300.66 L1328.8 300.57 L1330.6 300.44 L1332.4 300.27 L1334.1 300.05 L1335.9 299.78 L1337.7 299.47 L1339.5 299.11 L1341.3 298.71 L1343.1 298.26 L1344.9 297.77 L1346.7 297.25 L1348.5 296.68 L1350.3 296.08 L1352.1 295.45 L1353.9 294.79 L1355.6 294.11 L1357.4 293.40 L1359.2 292.68 L1361.0 291.94 L1362.8 291.19 L1364.6 290.44 L1366.4 289.69 L1368.2 288.94 L1370.0 288.21 L1371.8 287.48 L1373.6 286.77 L1375.3 286.08 L1377.1 285.42 L1378.9 284.79 L1380.7 284.18 L1382.5 283.61 L1384.3 283.08 L1386.1 282.59 L1387.9 282.14 L1389.7 281.73 L1391.5 281.37 L1393.3 281.05 L1395.1 280.78 L1396.8 280.56 L1398.6 280.38 L1400.4 280.24 L1402.2 280.15 L1404.0 280.10 L1405.8 280.09 L1407.6 280.13 L1409.4 280.20 L1411.2 280.30 L1413.0 280.44 L1414.8 280.61 L1416.5 280.81 L1418.3 281.04 L1420.1 281.28 L1421.9 281.55 L1423.7 281.83 L1425.5 282.13 L1427.3 282.44 L1429.1 282.76 L1430.9 283.09 L1432.7 283.42 L1434.5 283.76 L1436.2 284.09 L1438.0 284.43 L1439.8 284.76 L1441.6 285.08 L1443.4 285.40 L1445.2 285.72 L1447.0 286.02 L1448.8 286.31 L1450.6 286.59 L1452.4 286.87 L1454.2 287.13 L1456.0 287.37 L1457.7 287.61 L1459.5 287.83 L1461.3 288.05 L1463.1 288.24 L1464.9 288.43 L1466.7 288.60 L1468.5 288.77 L1470.3 288.92 L1472.1 289.06 L1473.9 289.19 L1475.7 289.31 L1477.4 289.42 L1479.2 289.52 L1481.0 289.61 L1482.8 289.70 L1484.6 289.77 L1486.4 289.84 L1488.2 289.90 L1490.0 289.96 L1491.8 290.01 L1493.6 290.06 L1495.4 290.10 L1497.2 290.14 L1498.9 290.17 L1500.7 290.20 L1502.5 290.22 L1504.3 290.25 L1506.1 290.27 L1507.9 290.28 L1507.9 290.4 Z" fill="#d3d3d3" stroke="none"/>
<line x1="1221.3" x2="1507.9" y1="290.4" y2="290.4" stroke="#d3d3d3" stroke-width="2.6"/>
<path d="M1221.3 265.5 L1221.3 265.11 L1223.1 265.06 L1224.9 265.00 L1226.7 264.93 L1228.5 264.86 L1230.3 264.78 L1232.0 264.69 L1233.8 264.59 L1235.6 264.48 L1237.4 264.36 L1239.2 264.23 L1241.0 264.09 L1242.8 263.93 L1244.6 263.77 L1246.4 263.59 L1248.2 263.39 L1250.0 263.19 L1251.8 262.97 L1253.5 262.73 L1255.3 262.49 L1257.1 262.23 L1258.9 261.95 L1260.7 261.67 L1262.5 261.37 L1264.3 261.06 L1266.1 260.74 L1267.9 260.41 L1269.7 260.08 L1271.5 259.74 L1273.2 259.39 L1275.0 259.05 L1276.8 258.71 L1278.6 258.37 L1280.4 258.03 L1282.2 257.71 L1284.0 257.40 L1285.8 257.11 L1287.6 256.83 L1289.4 256.58 L1291.2 256.36 L1293.0 256.16 L1294.7 256.00 L1296.5 255.88 L1298.3 255.80 L1300.1 255.76 L1301.9 255.77 L1303.7 255.83 L1305.5 255.94 L1307.3 256.11 L1309.1 256.32 L1310.9 256.60 L1312.7 256.93 L1314.4 257.32 L1316.2 257.76 L1318.0 258.26 L1319.8 258.80 L1321.6 259.40 L1323.4 260.04 L1325.2 260.73 L1327.0 261.45 L1328.8 262.21 L1330.6 262.99 L1332.4 263.80 L1334.1 264.62 L1335.9 265.44 L1337.7 266.27 L1339.5 267.09 L1341.3 267.90 L1343.1 268.68 L1344.9 269.43 L1346.7 270.15 L1348.5 270.83 L1350.3 271.45 L1352.1 272.02 L1353.9 272.52 L1355.6 272.96 L1357.4 273.32 L1359.2 273.61 L1361.0 273.82 L1362.8 273.95 L1364.6 274.00 L1366.4 273.96 L1368.2 273.84 L1370.0 273.64 L1371.8 273.36 L1373.6 273.00 L1375.3 272.57 L1377.1 272.08 L1378.9 271.52 L1380.7 270.90 L1382.5 270.23 L1384.3 269.52 L1386.1 268.77 L1387.9 267.98 L1389.7 267.18 L1391.5 266.36 L1393.3 265.54 L1395.1 264.71 L1396.8 263.89 L1398.6 263.08 L1400.4 262.30 L1402.2 261.54 L1404.0 260.81 L1405.8 260.12 L1407.6 259.47 L1409.4 258.87 L1411.2 258.31 L1413.0 257.81 L1414.8 257.36 L1416.5 256.97 L1418.3 256.63 L1420.1 256.35 L1421.9 256.13 L1423.7 255.96 L1425.5 255.84 L1427.3 255.78 L1429.1 255.76 L1430.9 255.79 L1432.7 255.87 L1434.5 255.99 L1436.2 256.14 L1438.0 256.33 L1439.8 256.55 L1441.6 256.80 L1443.4 257.07 L1445.2 257.37 L1447.0 257.67 L1448.8 258.00 L1450.6 258.33 L1452.4 258.67 L1454.2 259.01 L1456.0 259.36 L1457.7 259.70 L1459.5 260.04 L1461.3 260.38 L1463.1 260.70 L1464.9 261.02 L1466.7 261.34 L1468.5 261.63 L1470.3 261.92 L1472.1 262.20 L1473.9 262.46 L1475.7 262.71 L1477.4 262.94 L1479.2 263.16 L1481.0 263.37 L1482.8 263.57 L1484.6 263.75 L1486.4 263.91 L1488.2 264.07 L1490.0 264.21 L1491.8 264.34 L1493.6 264.46 L1495.4 264.57 L1497.2 264.68 L1498.9 264.77 L1500.7 264.85 L1502.5 264.92 L1504.3 264.99 L1506.1 265.05 L1507.9 265.11 L1507.9 265.5 Z" fill="#d3d3d3" stroke="none"/>
<line x1="1221.3" x2="1507.9" y1="265.5" y2="265.5" stroke="#d3d3d3" stroke-width="2.6"/>
<path d="M1221.3 240.8 L1221.3 241.83 L1223.1 241.95 L1224.9 242.09 L1226.7 242.24 L1228.5 242.40 L1230.3 242.57 L1232.0 242.76 L1233.8 242.97 L1235.6 243.19 L1237.4 243.42 L1239.2 243.67 L1241.0 243.93 L1242.8 244.20 L1244.6 244.49 L1246.4 244.80 L1248.2 245.11 L1250.0 245.44 L1251.8 245.77 L1253.5 246.12 L1255.3 246.46 L1257.1 246.81 L1258.9 247.17 L1260.7 247.52 L1262.5 247.86 L1264.3 248.20 L1266.1 248.52 L1267.9 248.83 L1269.7 249.11 L1271.5 249.38 L1273.2 249.61 L1275.0 249.81 L1276.8 249.98 L1278.6 250.10 L1280.4 250.18 L1282.2 250.21 L1284.0 250.18 L1285.8 250.10 L1287.6 249.97 L1289.4 249.77 L1291.2 249.51 L1293.0 249.19 L1294.7 248.80 L1296.5 248.35 L1298.3 247.84 L1300.1 247.27 L1301.9 246.65 L1303.7 245.97 L1305.5 245.24 L1307.3 244.47 L1309.1 243.67 L1310.9 242.84 L1312.7 241.98 L1314.4 241.12 L1316.2 240.25 L1318.0 239.38 L1319.8 238.54 L1321.6 237.71 L1323.4 236.93 L1325.2 236.19 L1327.0 235.50 L1328.8 234.88 L1330.6 234.33 L1332.4 233.85 L1334.1 233.47 L1335.9 233.17 L1337.7 232.98 L1339.5 232.88 L1341.3 232.89 L1343.1 233.00 L1344.9 233.21 L1346.7 233.52 L1348.5 233.93 L1350.3 234.43 L1352.1 235.01 L1353.9 235.68 L1355.6 236.41 L1357.4 237.20 L1359.2 238.05 L1361.0 238.93 L1362.8 239.83 L1364.6 240.75 L1366.4 241.67 L1368.2 242.57 L1370.0 243.46 L1371.8 244.30 L1373.6 245.10 L1375.3 245.84 L1377.1 246.52 L1378.9 247.11 L1380.7 247.62 L1382.5 248.04 L1384.3 248.36 L1386.1 248.58 L1387.9 248.71 L1389.7 248.72 L1391.5 248.64 L1393.3 248.45 L1395.1 248.17 L1396.8 247.79 L1398.6 247.33 L1400.4 246.79 L1402.2 246.17 L1404.0 245.49 L1405.8 244.76 L1407.6 243.97 L1409.4 243.16 L1411.2 242.31 L1413.0 241.45 L1414.8 240.58 L1416.5 239.71 L1418.3 238.86 L1420.1 238.02 L1421.9 237.21 L1423.7 236.44 L1425.5 235.71 L1427.3 235.03 L1429.1 234.39 L1430.9 233.82 L1432.7 233.30 L1434.5 232.85 L1436.2 232.45 L1438.0 232.12 L1439.8 231.86 L1441.6 231.65 L1443.4 231.51 L1445.2 231.42 L1447.0 231.39 L1448.8 231.42 L1450.6 231.49 L1452.4 231.61 L1454.2 231.77 L1456.0 231.97 L1457.7 232.20 L1459.5 232.46 L1461.3 232.74 L1463.1 233.05 L1464.9 233.37 L1466.7 233.70 L1468.5 234.04 L1470.3 234.39 L1472.1 234.75 L1473.9 235.10 L1475.7 235.45 L1477.4 235.79 L1479.2 236.13 L1481.0 236.45 L1482.8 236.77 L1484.6 237.07 L1486.4 237.36 L1488.2 237.64 L1490.0 237.91 L1491.8 238.15 L1493.6 238.39 L1495.4 238.61 L1497.2 238.81 L1498.9 239.00 L1500.7 239.18 L1502.5 239.34 L1504.3 239.50 L1506.1 239.63 L1507.9 239.76 L1507.9 240.8 Z" fill="#d3d3d3" stroke="none"/>
<line x1="1221.3" x2="1507.9" y1="240.8" y2="240.8" stroke="#d3d3d3" stroke-width="2.6"/>
<path d="M1162.1 450.6 L1162.1 450.59 L1163.9 450.58 L1165.7 450.58 L1167.5 450.58 L1169.3 450.57 L1171.1 450.57 L1172.9 450.56 L1174.6 450.56 L1176.4 450.55 L1178.2 450.54 L1180.0 450.53 L1181.8 450.52 L1183.6 450.51 L1185.4 450.49 L1187.2 450.48 L1189.0 450.46 L1190.8 450.44 L1192.6 450.42 L1194.4 450.39 L1196.1 450.36 L1197.9 450.33 L1199.7 450.29 L1201.5 450.25 L1203.3 450.21 L1205.1 450.16 L1206.9 450.10 L1208.7 450.04 L1210.5 449.97 L1212.3 449.90 L1214.1 449.82 L1215.9 449.73 L1217.6 449.64 L1219.4 449.53 L1221.2 449.42 L1223.0 449.30 L1224.8 449.17 L1226.6 449.03 L1228.4 448.88 L1230.2 448.72 L1232.0 448.55 L1233.8 448.36 L1235.6 448.17 L1237.4 447.96 L1239.2 447.75 L1240.9 447.52 L1242.7 447.28 L1244.5 447.03 L1246.3 446.77 L1248.1 446.50 L1249.9 446.22 L1251.7 445.93 L1253.5 445.63 L1255.3 445.32 L1257.1 445.01 L1258.9 444.69 L1260.7 444.36 L1262.4 444.03 L1264.2 443.70 L1266.0 443.36 L1267.8 443.03 L1269.6 442.69 L1271.4 442.36 L1273.2 442.04 L1275.0 441.71 L1276.8 441.40 L1278.6 441.10 L1280.4 440.80 L1282.2 440.52 L1283.9 440.25 L1285.7 440.00 L1287.5 439.77 L1289.3 439.55 L1291.1 439.35 L1292.9 439.17 L1294.7 439.02 L1296.5 438.88 L1298.3 438.77 L1300.1 438.69 L1301.9 438.63 L1303.7 438.59 L1305.4 438.58 L1307.2 438.60 L1309.0 438.64 L1310.8 438.70 L1312.6 438.79 L1314.4 438.91 L1316.2 439.04 L1318.0 439.20 L1319.8 439.38 L1321.6 439.58 L1323.4 439.81 L1325.2 440.04 L1327.0 440.30 L1328.7 440.57 L1330.5 440.85 L1332.3 441.15 L1334.1 441.45 L1335.9 441.77 L1337.7 442.09 L1339.5 442.42 L1341.3 442.75 L1343.1 443.08 L1344.9 443.42 L1346.7 443.75 L1348.5 444.08 L1350.2 444.41 L1352.0 444.74 L1353.8 445.06 L1355.6 445.37 L1357.4 445.68 L1359.2 445.98 L1361.0 446.27 L1362.8 446.55 L1364.6 446.81 L1366.4 447.07 L1368.2 447.32 L1370.0 447.56 L1371.7 447.79 L1373.5 448.00 L1375.3 448.20 L1377.1 448.40 L1378.9 448.58 L1380.7 448.75 L1382.5 448.91 L1384.3 449.05 L1386.1 449.19 L1387.9 449.32 L1389.7 449.44 L1391.5 449.55 L1393.3 449.65 L1395.0 449.75 L1396.8 449.84 L1398.6 449.91 L1400.4 449.99 L1402.2 450.05 L1404.0 450.11 L1405.8 450.17 L1407.6 450.21 L1409.4 450.26 L1411.2 450.30 L1413.0 450.33 L1414.8 450.37 L1416.5 450.39 L1418.3 450.42 L1420.1 450.44 L1421.9 450.46 L1423.7 450.48 L1425.5 450.50 L1427.3 450.51 L1429.1 450.52 L1430.9 450.53 L1432.7 450.54 L1434.5 450.55 L1436.3 450.56 L1438.0 450.56 L1439.8 450.57 L1441.6 450.57 L1443.4 450.58 L1445.2 450.58 L1447.0 450.58 L1448.8 450.59 L1448.8 450.6 Z" fill="#d3d3d3" stroke="none"/>
<line x1="1162.1" x2="1448.8" y1="450.6" y2="450.6" stroke="#d3d3d3" stroke-width="2.6"/>
<path d="M1162.1 423.5 L1162.1 423.57 L1163.9 423.59 L1165.7 423.60 L1167.5 423.62 L1169.3 423.64 L1171.1 423.66 L1172.9 423.68 L1174.6 423.71 L1176.4 423.74 L1178.2 423.77 L1180.0 423.81 L1181.8 423.86 L1183.6 423.91 L1185.4 423.96 L1187.2 424.02 L1189.0 424.09 L1190.8 424.17 L1192.6 424.25 L1194.4 424.35 L1196.1 424.45 L1197.9 424.56 L1199.7 424.68 L1201.5 424.81 L1203.3 424.96 L1205.1 425.11 L1206.9 425.28 L1208.7 425.46 L1210.5 425.65 L1212.3 425.86 L1214.1 426.08 L1215.9 426.31 L1217.6 426.56 L1219.4 426.82 L1221.2 427.09 L1223.0 427.37 L1224.8 427.67 L1226.6 427.98 L1228.4 428.30 L1230.2 428.62 L1232.0 428.96 L1233.8 429.30 L1235.6 429.64 L1237.4 429.99 L1239.2 430.34 L1240.9 430.69 L1242.7 431.03 L1244.5 431.37 L1246.3 431.69 L1248.1 432.00 L1249.9 432.30 L1251.7 432.58 L1253.5 432.84 L1255.3 433.08 L1257.1 433.28 L1258.9 433.46 L1260.7 433.60 L1262.4 433.71 L1264.2 433.78 L1266.0 433.81 L1267.8 433.79 L1269.6 433.73 L1271.4 433.63 L1273.2 433.47 L1275.0 433.27 L1276.8 433.01 L1278.6 432.71 L1280.4 432.36 L1282.2 431.96 L1283.9 431.51 L1285.7 431.02 L1287.5 430.48 L1289.3 429.90 L1291.1 429.29 L1292.9 428.63 L1294.7 427.95 L1296.5 427.24 L1298.3 426.51 L1300.1 425.76 L1301.9 424.99 L1303.7 424.21 L1305.4 423.43 L1307.2 422.65 L1309.0 421.88 L1310.8 421.12 L1312.6 420.37 L1314.4 419.64 L1316.2 418.93 L1318.0 418.25 L1319.8 417.61 L1321.6 417.00 L1323.4 416.43 L1325.2 415.90 L1327.0 415.41 L1328.7 414.97 L1330.5 414.58 L1332.3 414.24 L1334.1 413.94 L1335.9 413.70 L1337.7 413.50 L1339.5 413.35 L1341.3 413.25 L1343.1 413.20 L1344.9 413.19 L1346.7 413.23 L1348.5 413.30 L1350.2 413.42 L1352.0 413.57 L1353.8 413.75 L1355.6 413.96 L1357.4 414.20 L1359.2 414.46 L1361.0 414.75 L1362.8 415.05 L1364.6 415.36 L1366.4 415.69 L1368.2 416.03 L1370.0 416.37 L1371.7 416.72 L1373.5 417.07 L1375.3 417.41 L1377.1 417.76 L1378.9 418.10 L1380.7 418.43 L1382.5 418.76 L1384.3 419.07 L1386.1 419.38 L1387.9 419.67 L1389.7 419.96 L1391.5 420.23 L1393.3 420.49 L1395.0 420.73 L1396.8 420.96 L1398.6 421.18 L1400.4 421.38 L1402.2 421.57 L1404.0 421.75 L1405.8 421.92 L1407.6 422.07 L1409.4 422.21 L1411.2 422.34 L1413.0 422.46 L1414.8 422.57 L1416.5 422.67 L1418.3 422.76 L1420.1 422.84 L1421.9 422.92 L1423.7 422.99 L1425.5 423.05 L1427.3 423.10 L1429.1 423.15 L1430.9 423.19 L1432.7 423.23 L1434.5 423.27 L1436.3 423.30 L1438.0 423.32 L1439.8 423.35 L1441.6 423.37 L1443.4 423.39 L1445.2 423.40 L1447.0 423.42 L1448.8 423.43 L1448.8 423.5 Z" fill="#d3d3d3" stroke="none"/>
<line x1="1162.1" x2="1448.8" y1="423.5" y2="423.5" stroke="#d3d3d3" stroke-width="2.6"/>
<path d="M1162.1 396.2 L1162.1 395.94 L1163.9 395.90 L1165.7 395.85 L1167.5 395.80 L1169.3 395.75 L1171.1 395.68 L1172.9 395.61 L1174.6 395.53 L1176.4 395.45 L1178.2 395.35 L1180.0 395.24 L1181.8 395.12 L1183.6 394.99 L1185.4 394.85 L1187.2 394.70 L1189.0 394.53 L1190.8 394.35 L1192.6 394.15 L1194.4 393.94 L1196.1 393.72 L1197.9 393.48 L1199.7 393.23 L1201.5 392.96 L1203.3 392.67 L1205.1 392.38 L1206.9 392.07 L1208.7 391.75 L1210.5 391.41 L1212.3 391.07 L1214.1 390.72 L1215.9 390.37 L1217.6 390.01 L1219.4 389.65 L1221.2 389.30 L1223.0 388.95 L1224.8 388.60 L1226.6 388.27 L1228.4 387.96 L1230.2 387.66 L1232.0 387.39 L1233.8 387.15 L1235.6 386.93 L1237.4 386.75 L1239.2 386.61 L1240.9 386.52 L1242.7 386.47 L1244.5 386.47 L1246.3 386.52 L1248.1 386.63 L1249.9 386.79 L1251.7 387.02 L1253.5 387.30 L1255.3 387.65 L1257.1 388.06 L1258.9 388.52 L1260.7 389.05 L1262.4 389.63 L1264.2 390.26 L1266.0 390.94 L1267.8 391.66 L1269.6 392.43 L1271.4 393.23 L1273.2 394.05 L1275.0 394.89 L1276.8 395.75 L1278.6 396.61 L1280.4 397.46 L1282.2 398.31 L1283.9 399.13 L1285.7 399.92 L1287.5 400.68 L1289.3 401.39 L1291.1 402.05 L1292.9 402.65 L1294.7 403.18 L1296.5 403.64 L1298.3 404.02 L1300.1 404.32 L1301.9 404.53 L1303.7 404.66 L1305.4 404.70 L1307.2 404.65 L1309.0 404.50 L1310.8 404.28 L1312.6 403.96 L1314.4 403.57 L1316.2 403.10 L1318.0 402.55 L1319.8 401.94 L1321.6 401.28 L1323.4 400.56 L1325.2 399.79 L1327.0 398.99 L1328.7 398.17 L1330.5 397.32 L1332.3 396.46 L1334.1 395.60 L1335.9 394.75 L1337.7 393.91 L1339.5 393.09 L1341.3 392.30 L1343.1 391.54 L1344.9 390.82 L1346.7 390.15 L1348.5 389.52 L1350.2 388.95 L1352.0 388.44 L1353.8 387.98 L1355.6 387.59 L1357.4 387.25 L1359.2 386.98 L1361.0 386.76 L1362.8 386.61 L1364.6 386.51 L1366.4 386.46 L1368.2 386.47 L1370.0 386.53 L1371.7 386.63 L1373.5 386.78 L1375.3 386.97 L1377.1 387.18 L1378.9 387.43 L1380.7 387.71 L1382.5 388.01 L1384.3 388.33 L1386.1 388.66 L1387.9 389.00 L1389.7 389.36 L1391.5 389.71 L1393.3 390.07 L1395.0 390.43 L1396.8 390.78 L1398.6 391.13 L1400.4 391.47 L1402.2 391.80 L1404.0 392.12 L1405.8 392.43 L1407.6 392.72 L1409.4 393.00 L1411.2 393.27 L1413.0 393.52 L1414.8 393.76 L1416.5 393.98 L1418.3 394.19 L1420.1 394.38 L1421.9 394.56 L1423.7 394.72 L1425.5 394.88 L1427.3 395.02 L1429.1 395.14 L1430.9 395.26 L1432.7 395.37 L1434.5 395.46 L1436.3 395.55 L1438.0 395.63 L1439.8 395.70 L1441.6 395.76 L1443.4 395.81 L1445.2 395.86 L1447.0 395.91 L1448.8 395.95 L1448.8 396.2 Z" fill="#d3d3d3" stroke="none"/>
<line x1="1162.1" x2="1448.8" y1="396.2" y2="396.2" stroke="#d3d3d3" stroke-width="2.6"/>
<path d="M1162.1 369.3 L1162.1 370.02 L1163.9 370.12 L1165.7 370.23 L1167.5 370.35 L1169.3 370.48 L1171.1 370.62 L1172.9 370.78 L1174.6 370.95 L1176.4 371.14 L1178.2 371.34 L1180.0 371.56 L1181.8 371.79 L1183.6 372.04 L1185.4 372.31 L1187.2 372.59 L1189.0 372.88 L1190.8 373.19 L1192.6 373.52 L1194.4 373.85 L1196.1 374.20 L1197.9 374.55 L1199.7 374.91 L1201.5 375.28 L1203.3 375.64 L1205.1 376.01 L1206.9 376.36 L1208.7 376.71 L1210.5 377.05 L1212.3 377.36 L1214.1 377.66 L1215.9 377.93 L1217.6 378.16 L1219.4 378.36 L1221.2 378.52 L1223.0 378.63 L1224.8 378.69 L1226.6 378.70 L1228.4 378.65 L1230.2 378.54 L1232.0 378.37 L1233.8 378.12 L1235.6 377.81 L1237.4 377.44 L1239.2 376.99 L1240.9 376.48 L1242.7 375.90 L1244.5 375.26 L1246.3 374.56 L1248.1 373.82 L1249.9 373.02 L1251.7 372.19 L1253.5 371.32 L1255.3 370.43 L1257.1 369.53 L1258.9 368.63 L1260.7 367.74 L1262.4 366.86 L1264.2 366.01 L1266.0 365.21 L1267.8 364.46 L1269.6 363.76 L1271.4 363.14 L1273.2 362.61 L1275.0 362.16 L1276.8 361.80 L1278.6 361.55 L1280.4 361.41 L1282.2 361.37 L1283.9 361.45 L1285.7 361.64 L1287.5 361.93 L1289.3 362.34 L1291.1 362.84 L1292.9 363.43 L1294.7 364.12 L1296.5 364.87 L1298.3 365.69 L1300.1 366.57 L1301.9 367.48 L1303.7 368.43 L1305.4 369.38 L1307.2 370.33 L1309.0 371.27 L1310.8 372.18 L1312.6 373.05 L1314.4 373.86 L1316.2 374.60 L1318.0 375.27 L1319.8 375.85 L1321.6 376.34 L1323.4 376.72 L1325.2 377.00 L1327.0 377.17 L1328.7 377.23 L1330.5 377.18 L1332.3 377.01 L1334.1 376.74 L1335.9 376.38 L1337.7 375.91 L1339.5 375.36 L1341.3 374.73 L1343.1 374.02 L1344.9 373.26 L1346.7 372.45 L1348.5 371.59 L1350.2 370.71 L1352.0 369.82 L1353.8 368.91 L1355.6 368.02 L1357.4 367.13 L1359.2 366.27 L1361.0 365.44 L1362.8 364.66 L1364.6 363.91 L1366.4 363.23 L1368.2 362.60 L1370.0 362.03 L1371.7 361.53 L1373.5 361.10 L1375.3 360.73 L1377.1 360.43 L1378.9 360.20 L1380.7 360.04 L1382.5 359.93 L1384.3 359.89 L1386.1 359.91 L1387.9 359.98 L1389.7 360.10 L1391.5 360.27 L1393.3 360.48 L1395.0 360.72 L1396.8 360.99 L1398.6 361.29 L1400.4 361.61 L1402.2 361.95 L1404.0 362.30 L1405.8 362.65 L1407.6 363.02 L1409.4 363.38 L1411.2 363.75 L1413.0 364.11 L1414.8 364.46 L1416.5 364.81 L1418.3 365.14 L1420.1 365.46 L1421.9 365.77 L1423.7 366.06 L1425.5 366.34 L1427.3 366.60 L1429.1 366.85 L1430.9 367.08 L1432.7 367.29 L1434.5 367.49 L1436.3 367.68 L1438.0 367.85 L1439.8 368.00 L1441.6 368.15 L1443.4 368.27 L1445.2 368.39 L1447.0 368.50 L1448.8 368.59 L1448.8 369.3 Z" fill="#d3d3d3" stroke="none"/>
<line x1="1162.1" x2="1448.8" y1="369.3" y2="369.3" stroke="#d3d3d3" stroke-width="2.6"/>
<path d="M1206.5 738.7 L1206.5 738.65 L1208.3 738.65 L1210.1 738.64 L1211.9 738.63 L1213.7 738.62 L1215.5 738.61 L1217.3 738.59 L1219.0 738.58 L1220.8 738.56 L1222.6 738.55 L1224.4 738.53 L1226.2 738.50 L1228.0 738.48 L1229.8 738.45 L1231.6 738.42 L1233.4 738.39 L1235.2 738.35 L1237.0 738.31 L1238.8 738.26 L1240.5 738.22 L1242.3 738.16 L1244.1 738.10 L1245.9 738.04 L1247.7 737.97 L1249.5 737.90 L1251.3 737.81 L1253.1 737.73 L1254.9 737.63 L1256.7 737.53 L1258.5 737.42 L1260.3 737.31 L1262.0 737.18 L1263.8 737.05 L1265.6 736.91 L1267.4 736.76 L1269.2 736.60 L1271.0 736.43 L1272.8 736.25 L1274.6 736.06 L1276.4 735.87 L1278.2 735.66 L1280.0 735.45 L1281.8 735.23 L1283.6 734.99 L1285.3 734.75 L1287.1 734.50 L1288.9 734.24 L1290.7 733.98 L1292.5 733.71 L1294.3 733.43 L1296.1 733.14 L1297.9 732.85 L1299.7 732.56 L1301.5 732.26 L1303.3 731.96 L1305.1 731.66 L1306.8 731.35 L1308.6 731.05 L1310.4 730.75 L1312.2 730.45 L1314.0 730.15 L1315.8 729.86 L1317.6 729.57 L1319.4 729.30 L1321.2 729.03 L1323.0 728.76 L1324.8 728.51 L1326.6 728.28 L1328.3 728.05 L1330.1 727.84 L1331.9 727.64 L1333.7 727.46 L1335.5 727.30 L1337.3 727.16 L1339.1 727.03 L1340.9 726.92 L1342.7 726.83 L1344.5 726.76 L1346.3 726.72 L1348.1 726.69 L1349.8 726.68 L1351.6 726.70 L1353.4 726.73 L1355.2 726.79 L1357.0 726.86 L1358.8 726.96 L1360.6 727.08 L1362.4 727.21 L1364.2 727.36 L1366.0 727.53 L1367.8 727.72 L1369.6 727.92 L1371.4 728.14 L1373.1 728.37 L1374.9 728.61 L1376.7 728.87 L1378.5 729.13 L1380.3 729.40 L1382.1 729.68 L1383.9 729.97 L1385.7 730.27 L1387.5 730.56 L1389.3 730.86 L1391.1 731.17 L1392.9 731.47 L1394.6 731.77 L1396.4 732.08 L1398.2 732.38 L1400.0 732.67 L1401.8 732.97 L1403.6 733.25 L1405.4 733.54 L1407.2 733.81 L1409.0 734.08 L1410.8 734.35 L1412.6 734.60 L1414.4 734.85 L1416.1 735.08 L1417.9 735.31 L1419.7 735.53 L1421.5 735.74 L1423.3 735.95 L1425.1 736.14 L1426.9 736.32 L1428.7 736.50 L1430.5 736.66 L1432.3 736.82 L1434.1 736.96 L1435.9 737.10 L1437.7 737.23 L1439.4 737.35 L1441.2 737.47 L1443.0 737.57 L1444.8 737.67 L1446.6 737.76 L1448.4 737.85 L1450.2 737.93 L1452.0 738.00 L1453.8 738.06 L1455.6 738.13 L1457.4 738.18 L1459.2 738.23 L1460.9 738.28 L1462.7 738.33 L1464.5 738.36 L1466.3 738.40 L1468.1 738.43 L1469.9 738.46 L1471.7 738.49 L1473.5 738.51 L1475.3 738.53 L1477.1 738.55 L1478.9 738.57 L1480.7 738.59 L1482.4 738.60 L1484.2 738.61 L1486.0 738.62 L1487.8 738.63 L1489.6 738.64 L1491.4 738.65 L1493.2 738.65 L1493.2 738.7 Z" fill="#d3d3d3" stroke="none"/>
<line x1="1206.5" x2="1493.2" y1="738.7" y2="738.7" stroke="#d3d3d3" stroke-width="2.6"/>
<path d="M1206.5 716.4 L1206.5 716.62 L1208.3 716.65 L1210.1 716.69 L1211.9 716.72 L1213.7 716.77 L1215.5 716.81 L1217.3 716.86 L1219.0 716.92 L1220.8 716.98 L1222.6 717.05 L1224.4 717.12 L1226.2 717.20 L1228.0 717.29 L1229.8 717.38 L1231.6 717.49 L1233.4 717.60 L1235.2 717.72 L1237.0 717.85 L1238.8 717.99 L1240.5 718.14 L1242.3 718.30 L1244.1 718.47 L1245.9 718.65 L1247.7 718.84 L1249.5 719.05 L1251.3 719.26 L1253.1 719.49 L1254.9 719.72 L1256.7 719.97 L1258.5 720.23 L1260.3 720.49 L1262.0 720.77 L1263.8 721.06 L1265.6 721.35 L1267.4 721.65 L1269.2 721.95 L1271.0 722.26 L1272.8 722.58 L1274.6 722.89 L1276.4 723.21 L1278.2 723.52 L1280.0 723.83 L1281.8 724.14 L1283.6 724.44 L1285.3 724.73 L1287.1 725.01 L1288.9 725.28 L1290.7 725.53 L1292.5 725.76 L1294.3 725.97 L1296.1 726.16 L1297.9 726.33 L1299.7 726.46 L1301.5 726.57 L1303.3 726.65 L1305.1 726.70 L1306.8 726.71 L1308.6 726.68 L1310.4 726.62 L1312.2 726.52 L1314.0 726.38 L1315.8 726.20 L1317.6 725.98 L1319.4 725.71 L1321.2 725.41 L1323.0 725.07 L1324.8 724.69 L1326.6 724.27 L1328.3 723.81 L1330.1 723.31 L1331.9 722.79 L1333.7 722.23 L1335.5 721.64 L1337.3 721.03 L1339.1 720.39 L1340.9 719.74 L1342.7 719.06 L1344.5 718.37 L1346.3 717.67 L1348.1 716.97 L1349.8 716.26 L1351.6 715.55 L1353.4 714.85 L1355.2 714.16 L1357.0 713.47 L1358.8 712.81 L1360.6 712.16 L1362.4 711.53 L1364.2 710.92 L1366.0 710.35 L1367.8 709.80 L1369.6 709.29 L1371.4 708.81 L1373.1 708.37 L1374.9 707.96 L1376.7 707.59 L1378.5 707.27 L1380.3 706.98 L1382.1 706.73 L1383.9 706.53 L1385.7 706.36 L1387.5 706.24 L1389.3 706.15 L1391.1 706.10 L1392.9 706.09 L1394.6 706.12 L1396.4 706.18 L1398.2 706.27 L1400.0 706.39 L1401.8 706.54 L1403.6 706.71 L1405.4 706.91 L1407.2 707.13 L1409.0 707.37 L1410.8 707.63 L1412.6 707.90 L1414.4 708.18 L1416.1 708.48 L1417.9 708.78 L1419.7 709.09 L1421.5 709.40 L1423.3 709.71 L1425.1 710.03 L1426.9 710.35 L1428.7 710.66 L1430.5 710.97 L1432.3 711.27 L1434.1 711.57 L1435.9 711.86 L1437.7 712.14 L1439.4 712.41 L1441.2 712.68 L1443.0 712.93 L1444.8 713.17 L1446.6 713.40 L1448.4 713.62 L1450.2 713.83 L1452.0 714.03 L1453.8 714.22 L1455.6 714.40 L1457.4 714.57 L1459.2 714.72 L1460.9 714.87 L1462.7 715.00 L1464.5 715.13 L1466.3 715.25 L1468.1 715.36 L1469.9 715.46 L1471.7 715.55 L1473.5 715.63 L1475.3 715.71 L1477.1 715.78 L1478.9 715.85 L1480.7 715.91 L1482.4 715.96 L1484.2 716.01 L1486.0 716.05 L1487.8 716.09 L1489.6 716.13 L1491.4 716.16 L1493.2 716.19 L1493.2 716.4 Z" fill="#d3d3d3" stroke="none"/>
<line x1="1206.5" x2="1493.2" y1="716.4" y2="716.4" stroke="#d3d3d3" stroke-width="2.6"/>
<path d="M1206.5 694.0 L1206.5 693.29 L1208.3 693.20 L1210.1 693.11 L1211.9 693.01 L1213.7 692.90 L1215.5 692.78 L1217.3 692.66 L1219.0 692.52 L1220.8 692.37 L1222.6 692.21 L1224.4 692.03 L1226.2 691.85 L1228.0 691.65 L1229.8 691.44 L1231.6 691.22 L1233.4 690.99 L1235.2 690.74 L1237.0 690.49 L1238.8 690.22 L1240.5 689.94 L1242.3 689.65 L1244.1 689.35 L1245.9 689.05 L1247.7 688.73 L1249.5 688.42 L1251.3 688.09 L1253.1 687.77 L1254.9 687.44 L1256.7 687.12 L1258.5 686.80 L1260.3 686.49 L1262.0 686.19 L1263.8 685.90 L1265.6 685.62 L1267.4 685.36 L1269.2 685.12 L1271.0 684.90 L1272.8 684.71 L1274.6 684.55 L1276.4 684.42 L1278.2 684.33 L1280.0 684.28 L1281.8 684.26 L1283.6 684.29 L1285.3 684.36 L1287.1 684.48 L1288.9 684.65 L1290.7 684.86 L1292.5 685.13 L1294.3 685.44 L1296.1 685.81 L1297.9 686.22 L1299.7 686.68 L1301.5 687.19 L1303.3 687.74 L1305.1 688.34 L1306.8 688.97 L1308.6 689.64 L1310.4 690.34 L1312.2 691.06 L1314.0 691.81 L1315.8 692.57 L1317.6 693.35 L1319.4 694.13 L1321.2 694.91 L1323.0 695.68 L1324.8 696.44 L1326.6 697.17 L1328.3 697.89 L1330.1 698.57 L1331.9 699.21 L1333.7 699.81 L1335.5 700.36 L1337.3 700.85 L1339.1 701.29 L1340.9 701.66 L1342.7 701.97 L1344.5 702.21 L1346.3 702.38 L1348.1 702.47 L1349.8 702.50 L1351.6 702.45 L1353.4 702.32 L1355.2 702.12 L1357.0 701.86 L1358.8 701.52 L1360.6 701.12 L1362.4 700.66 L1364.2 700.15 L1366.0 699.58 L1367.8 698.96 L1369.6 698.30 L1371.4 697.61 L1373.1 696.89 L1374.9 696.14 L1376.7 695.38 L1378.5 694.60 L1380.3 693.82 L1382.1 693.04 L1383.9 692.27 L1385.7 691.52 L1387.5 690.78 L1389.3 690.06 L1391.1 689.37 L1392.9 688.72 L1394.6 688.10 L1396.4 687.52 L1398.2 686.99 L1400.0 686.50 L1401.8 686.05 L1403.6 685.66 L1405.4 685.31 L1407.2 685.02 L1409.0 684.77 L1410.8 684.58 L1412.6 684.43 L1414.4 684.33 L1416.1 684.27 L1417.9 684.26 L1419.7 684.29 L1421.5 684.36 L1423.3 684.47 L1425.1 684.61 L1426.9 684.78 L1428.7 684.98 L1430.5 685.21 L1432.3 685.46 L1434.1 685.72 L1435.9 686.01 L1437.7 686.30 L1439.4 686.61 L1441.2 686.93 L1443.0 687.25 L1444.8 687.57 L1446.6 687.90 L1448.4 688.22 L1450.2 688.54 L1452.0 688.86 L1453.8 689.17 L1455.6 689.47 L1457.4 689.76 L1459.2 690.05 L1460.9 690.32 L1462.7 690.59 L1464.5 690.84 L1466.3 691.08 L1468.1 691.31 L1469.9 691.53 L1471.7 691.73 L1473.5 691.92 L1475.3 692.10 L1477.1 692.27 L1478.9 692.43 L1480.7 692.57 L1482.4 692.71 L1484.2 692.83 L1486.0 692.95 L1487.8 693.05 L1489.6 693.15 L1491.4 693.24 L1493.2 693.32 L1493.2 694.0 Z" fill="#d3d3d3" stroke="none"/>
<line x1="1206.5" x2="1493.2" y1="694.0" y2="694.0" stroke="#d3d3d3" stroke-width="2.6"/>
<path d="M1206.5 672.2 L1206.5 673.95 L1208.3 674.13 L1210.1 674.31 L1211.9 674.52 L1213.7 674.73 L1215.5 674.96 L1217.3 675.20 L1219.0 675.45 L1220.8 675.72 L1222.6 676.00 L1224.4 676.29 L1226.2 676.59 L1228.0 676.89 L1229.8 677.21 L1231.6 677.53 L1233.4 677.86 L1235.2 678.19 L1237.0 678.53 L1238.8 678.86 L1240.5 679.18 L1242.3 679.50 L1244.1 679.81 L1245.9 680.10 L1247.7 680.38 L1249.5 680.64 L1251.3 680.88 L1253.1 681.09 L1254.9 681.27 L1256.7 681.41 L1258.5 681.52 L1260.3 681.58 L1262.0 681.61 L1263.8 681.58 L1265.6 681.51 L1267.4 681.38 L1269.2 681.20 L1271.0 680.97 L1272.8 680.68 L1274.6 680.34 L1276.4 679.93 L1278.2 679.48 L1280.0 678.97 L1281.8 678.41 L1283.6 677.80 L1285.3 677.14 L1287.1 676.44 L1288.9 675.71 L1290.7 674.95 L1292.5 674.16 L1294.3 673.36 L1296.1 672.54 L1297.9 671.72 L1299.7 670.91 L1301.5 670.10 L1303.3 669.32 L1305.1 668.57 L1306.8 667.86 L1308.6 667.19 L1310.4 666.57 L1312.2 666.02 L1314.0 665.53 L1315.8 665.11 L1317.6 664.78 L1319.4 664.52 L1321.2 664.36 L1323.0 664.28 L1324.8 664.29 L1326.6 664.40 L1328.3 664.59 L1330.1 664.88 L1331.9 665.25 L1333.7 665.70 L1335.5 666.23 L1337.3 666.83 L1339.1 667.50 L1340.9 668.22 L1342.7 669.00 L1344.5 669.81 L1346.3 670.64 L1348.1 671.50 L1349.8 672.37 L1351.6 673.23 L1353.4 674.09 L1355.2 674.91 L1357.0 675.71 L1358.8 676.46 L1360.6 677.17 L1362.4 677.81 L1364.2 678.38 L1366.0 678.89 L1367.8 679.31 L1369.6 679.65 L1371.4 679.90 L1373.1 680.06 L1374.9 680.13 L1376.7 680.10 L1378.5 679.99 L1380.3 679.79 L1382.1 679.50 L1383.9 679.13 L1385.7 678.69 L1387.5 678.17 L1389.3 677.59 L1391.1 676.96 L1392.9 676.27 L1394.6 675.54 L1396.4 674.77 L1398.2 673.98 L1400.0 673.18 L1401.8 672.36 L1403.6 671.54 L1405.4 670.73 L1407.2 669.93 L1409.0 669.15 L1410.8 668.40 L1412.6 667.68 L1414.4 667.00 L1416.1 666.36 L1417.9 665.77 L1419.7 665.23 L1421.5 664.74 L1423.3 664.30 L1425.1 663.92 L1426.9 663.60 L1428.7 663.33 L1430.5 663.12 L1432.3 662.96 L1434.1 662.86 L1435.9 662.80 L1437.7 662.80 L1439.4 662.84 L1441.2 662.92 L1443.0 663.04 L1444.8 663.20 L1446.6 663.39 L1448.4 663.61 L1450.2 663.86 L1452.0 664.12 L1453.8 664.41 L1455.6 664.71 L1457.4 665.02 L1459.2 665.35 L1460.9 665.67 L1462.7 666.00 L1464.5 666.34 L1466.3 666.67 L1468.1 666.99 L1469.9 667.31 L1471.7 667.63 L1473.5 667.93 L1475.3 668.23 L1477.1 668.51 L1478.9 668.79 L1480.7 669.05 L1482.4 669.30 L1484.2 669.53 L1486.0 669.75 L1487.8 669.96 L1489.6 670.16 L1491.4 670.34 L1493.2 670.52 L1493.2 672.2 Z" fill="#d3d3d3" stroke="none"/>
<line x1="1206.5" x2="1493.2" y1="672.2" y2="672.2" stroke="#d3d3d3" stroke-width="2.6"/>
<path d="M1155.2 873.8 L1155.2 873.75 L1156.9 873.74 L1158.6 873.73 L1160.3 873.72 L1162.0 873.71 L1163.7 873.70 L1165.4 873.68 L1167.0 873.67 L1168.7 873.65 L1170.4 873.63 L1172.1 873.61 L1173.8 873.58 L1175.5 873.55 L1177.2 873.52 L1178.9 873.49 L1180.6 873.45 L1182.3 873.41 L1184.0 873.37 L1185.7 873.32 L1187.4 873.27 L1189.0 873.21 L1190.7 873.14 L1192.4 873.07 L1194.1 873.00 L1195.8 872.92 L1197.5 872.83 L1199.2 872.73 L1200.9 872.63 L1202.6 872.52 L1204.3 872.40 L1206.0 872.27 L1207.7 872.13 L1209.4 871.99 L1211.1 871.84 L1212.7 871.67 L1214.4 871.50 L1216.1 871.32 L1217.8 871.12 L1219.5 870.92 L1221.2 870.71 L1222.9 870.48 L1224.6 870.25 L1226.3 870.01 L1228.0 869.75 L1229.7 869.49 L1231.4 869.22 L1233.1 868.94 L1234.7 868.65 L1236.4 868.35 L1238.1 868.05 L1239.8 867.74 L1241.5 867.42 L1243.2 867.10 L1244.9 866.78 L1246.6 866.45 L1248.3 866.12 L1250.0 865.79 L1251.7 865.46 L1253.4 865.13 L1255.1 864.81 L1256.8 864.48 L1258.4 864.16 L1260.1 863.85 L1261.8 863.55 L1263.5 863.25 L1265.2 862.97 L1266.9 862.70 L1268.6 862.43 L1270.3 862.19 L1272.0 861.95 L1273.7 861.74 L1275.4 861.54 L1277.1 861.36 L1278.8 861.20 L1280.4 861.06 L1282.1 860.94 L1283.8 860.84 L1285.5 860.76 L1287.2 860.70 L1288.9 860.67 L1290.6 860.66 L1292.3 860.67 L1294.0 860.70 L1295.7 860.76 L1297.4 860.84 L1299.1 860.94 L1300.8 861.06 L1302.4 861.20 L1304.1 861.36 L1305.8 861.54 L1307.5 861.74 L1309.2 861.95 L1310.9 862.19 L1312.6 862.43 L1314.3 862.70 L1316.0 862.97 L1317.7 863.25 L1319.4 863.55 L1321.1 863.85 L1322.8 864.16 L1324.5 864.48 L1326.1 864.81 L1327.8 865.13 L1329.5 865.46 L1331.2 865.79 L1332.9 866.12 L1334.6 866.45 L1336.3 866.78 L1338.0 867.10 L1339.7 867.42 L1341.4 867.74 L1343.1 868.05 L1344.8 868.35 L1346.5 868.65 L1348.1 868.94 L1349.8 869.22 L1351.5 869.49 L1353.2 869.75 L1354.9 870.01 L1356.6 870.25 L1358.3 870.48 L1360.0 870.71 L1361.7 870.92 L1363.4 871.12 L1365.1 871.32 L1366.8 871.50 L1368.5 871.67 L1370.1 871.84 L1371.8 871.99 L1373.5 872.13 L1375.2 872.27 L1376.9 872.40 L1378.6 872.52 L1380.3 872.63 L1382.0 872.73 L1383.7 872.83 L1385.4 872.92 L1387.1 873.00 L1388.8 873.07 L1390.5 873.14 L1392.2 873.21 L1393.8 873.27 L1395.5 873.32 L1397.2 873.37 L1398.9 873.41 L1400.6 873.45 L1402.3 873.49 L1404.0 873.52 L1405.7 873.55 L1407.4 873.58 L1409.1 873.61 L1410.8 873.63 L1412.5 873.65 L1414.2 873.67 L1415.8 873.68 L1417.5 873.70 L1419.2 873.71 L1420.9 873.72 L1422.6 873.73 L1424.3 873.74 L1426.0 873.75 L1426.0 873.8 Z" fill="#d3d3d3" stroke="none"/>
<line x1="1155.2" x2="1426.0" y1="873.8" y2="873.8" stroke="#d3d3d3" stroke-width="2.6"/>
<path d="M1155.2 848.8 L1155.2 849.05 L1156.9 849.08 L1158.6 849.12 L1160.3 849.16 L1162.0 849.21 L1163.7 849.26 L1165.4 849.31 L1167.0 849.37 L1168.7 849.44 L1170.4 849.52 L1172.1 849.60 L1173.8 849.68 L1175.5 849.78 L1177.2 849.89 L1178.9 850.00 L1180.6 850.12 L1182.3 850.25 L1184.0 850.40 L1185.7 850.55 L1187.4 850.71 L1189.0 850.89 L1190.7 851.08 L1192.4 851.27 L1194.1 851.49 L1195.8 851.71 L1197.5 851.94 L1199.2 852.19 L1200.9 852.45 L1202.6 852.71 L1204.3 853.00 L1206.0 853.29 L1207.7 853.59 L1209.4 853.90 L1211.1 854.22 L1212.7 854.54 L1214.4 854.88 L1216.1 855.21 L1217.8 855.56 L1219.5 855.90 L1221.2 856.24 L1222.9 856.59 L1224.6 856.93 L1226.3 857.26 L1228.0 857.59 L1229.7 857.90 L1231.4 858.21 L1233.1 858.50 L1234.7 858.77 L1236.4 859.02 L1238.1 859.26 L1239.8 859.46 L1241.5 859.65 L1243.2 859.80 L1244.9 859.92 L1246.6 860.01 L1248.3 860.06 L1250.0 860.07 L1251.7 860.05 L1253.4 859.99 L1255.1 859.88 L1256.8 859.73 L1258.4 859.54 L1260.1 859.30 L1261.8 859.02 L1263.5 858.70 L1265.2 858.33 L1266.9 857.92 L1268.6 857.47 L1270.3 856.98 L1272.0 856.44 L1273.7 855.88 L1275.4 855.27 L1277.1 854.64 L1278.8 853.98 L1280.4 853.29 L1282.1 852.57 L1283.8 851.84 L1285.5 851.10 L1287.2 850.34 L1288.9 849.57 L1290.6 848.80 L1292.3 848.03 L1294.0 847.26 L1295.7 846.50 L1297.4 845.76 L1299.1 845.03 L1300.8 844.31 L1302.4 843.62 L1304.1 842.96 L1305.8 842.33 L1307.5 841.72 L1309.2 841.16 L1310.9 840.62 L1312.6 840.13 L1314.3 839.68 L1316.0 839.27 L1317.7 838.90 L1319.4 838.58 L1321.1 838.30 L1322.8 838.06 L1324.5 837.87 L1326.1 837.72 L1327.8 837.61 L1329.5 837.55 L1331.2 837.53 L1332.9 837.54 L1334.6 837.59 L1336.3 837.68 L1338.0 837.80 L1339.7 837.95 L1341.4 838.14 L1343.1 838.34 L1344.8 838.58 L1346.5 838.83 L1348.1 839.10 L1349.8 839.39 L1351.5 839.70 L1353.2 840.01 L1354.9 840.34 L1356.6 840.67 L1358.3 841.01 L1360.0 841.36 L1361.7 841.70 L1363.4 842.04 L1365.1 842.39 L1366.8 842.72 L1368.5 843.06 L1370.1 843.38 L1371.8 843.70 L1373.5 844.01 L1375.2 844.31 L1376.9 844.60 L1378.6 844.89 L1380.3 845.15 L1382.0 845.41 L1383.7 845.66 L1385.4 845.89 L1387.1 846.11 L1388.8 846.33 L1390.5 846.52 L1392.2 846.71 L1393.8 846.89 L1395.5 847.05 L1397.2 847.20 L1398.9 847.35 L1400.6 847.48 L1402.3 847.60 L1404.0 847.71 L1405.7 847.82 L1407.4 847.92 L1409.1 848.00 L1410.8 848.08 L1412.5 848.16 L1414.2 848.23 L1415.8 848.29 L1417.5 848.34 L1419.2 848.39 L1420.9 848.44 L1422.6 848.48 L1424.3 848.52 L1426.0 848.55 L1426.0 848.8 Z" fill="#d3d3d3" stroke="none"/>
<line x1="1155.2" x2="1426.0" y1="848.8" y2="848.8" stroke="#d3d3d3" stroke-width="2.6"/>
<path d="M1155.2 823.9 L1155.2 823.11 L1156.9 823.01 L1158.6 822.91 L1160.3 822.80 L1162.0 822.68 L1163.7 822.55 L1165.4 822.41 L1167.0 822.26 L1168.7 822.09 L1170.4 821.91 L1172.1 821.72 L1173.8 821.52 L1175.5 821.31 L1177.2 821.08 L1178.9 820.84 L1180.6 820.58 L1182.3 820.31 L1184.0 820.03 L1185.7 819.74 L1187.4 819.43 L1189.0 819.12 L1190.7 818.79 L1192.4 818.46 L1194.1 818.12 L1195.8 817.77 L1197.5 817.42 L1199.2 817.07 L1200.9 816.71 L1202.6 816.36 L1204.3 816.02 L1206.0 815.68 L1207.7 815.35 L1209.4 815.03 L1211.1 814.73 L1212.7 814.44 L1214.4 814.18 L1216.1 813.95 L1217.8 813.74 L1219.5 813.57 L1221.2 813.43 L1222.9 813.33 L1224.6 813.27 L1226.3 813.25 L1228.0 813.28 L1229.7 813.35 L1231.4 813.48 L1233.1 813.66 L1234.7 813.89 L1236.4 814.18 L1238.1 814.52 L1239.8 814.91 L1241.5 815.36 L1243.2 815.86 L1244.9 816.41 L1246.6 817.01 L1248.3 817.65 L1250.0 818.34 L1251.7 819.06 L1253.4 819.82 L1255.1 820.61 L1256.8 821.42 L1258.4 822.25 L1260.1 823.09 L1261.8 823.94 L1263.5 824.79 L1265.2 825.63 L1266.9 826.46 L1268.6 827.26 L1270.3 828.04 L1272.0 828.79 L1273.7 829.49 L1275.4 830.15 L1277.1 830.76 L1278.8 831.31 L1280.4 831.79 L1282.1 832.21 L1283.8 832.56 L1285.5 832.84 L1287.2 833.04 L1288.9 833.15 L1290.6 833.19 L1292.3 833.15 L1294.0 833.04 L1295.7 832.84 L1297.4 832.56 L1299.1 832.21 L1300.8 831.79 L1302.4 831.31 L1304.1 830.76 L1305.8 830.15 L1307.5 829.49 L1309.2 828.79 L1310.9 828.04 L1312.6 827.26 L1314.3 826.46 L1316.0 825.63 L1317.7 824.79 L1319.4 823.94 L1321.1 823.09 L1322.8 822.25 L1324.5 821.42 L1326.1 820.61 L1327.8 819.82 L1329.5 819.06 L1331.2 818.34 L1332.9 817.65 L1334.6 817.01 L1336.3 816.41 L1338.0 815.86 L1339.7 815.36 L1341.4 814.91 L1343.1 814.52 L1344.8 814.18 L1346.5 813.89 L1348.1 813.66 L1349.8 813.48 L1351.5 813.35 L1353.2 813.28 L1354.9 813.25 L1356.6 813.27 L1358.3 813.33 L1360.0 813.43 L1361.7 813.57 L1363.4 813.74 L1365.1 813.95 L1366.8 814.18 L1368.5 814.44 L1370.1 814.73 L1371.8 815.03 L1373.5 815.35 L1375.2 815.68 L1376.9 816.02 L1378.6 816.36 L1380.3 816.71 L1382.0 817.07 L1383.7 817.42 L1385.4 817.77 L1387.1 818.12 L1388.8 818.46 L1390.5 818.79 L1392.2 819.12 L1393.8 819.43 L1395.5 819.74 L1397.2 820.03 L1398.9 820.31 L1400.6 820.58 L1402.3 820.84 L1404.0 821.08 L1405.7 821.31 L1407.4 821.52 L1409.1 821.72 L1410.8 821.91 L1412.5 822.09 L1414.2 822.26 L1415.8 822.41 L1417.5 822.55 L1419.2 822.68 L1420.9 822.80 L1422.6 822.91 L1424.3 823.01 L1426.0 823.11 L1426.0 823.9 Z" fill="#d3d3d3" stroke="none"/>
<line x1="1155.2" x2="1426.0" y1="823.9" y2="823.9" stroke="#d3d3d3" stroke-width="2.6"/>
<path d="M1155.2 799.0 L1155.2 800.95 L1156.9 801.14 L1158.6 801.35 L1160.3 801.57 L1162.0 801.80 L1163.7 802.05 L1165.4 802.32 L1167.0 802.60 L1168.7 802.89 L1170.4 803.19 L1172.1 803.51 L1173.8 803.84 L1175.5 804.17 L1177.2 804.52 L1178.9 804.87 L1180.6 805.23 L1182.3 805.59 L1184.0 805.95 L1185.7 806.31 L1187.4 806.66 L1189.0 807.01 L1190.7 807.35 L1192.4 807.67 L1194.1 807.97 L1195.8 808.25 L1197.5 808.50 L1199.2 808.73 L1200.9 808.92 L1202.6 809.08 L1204.3 809.19 L1206.0 809.26 L1207.7 809.29 L1209.4 809.26 L1211.1 809.18 L1212.7 809.04 L1214.4 808.85 L1216.1 808.59 L1217.8 808.28 L1219.5 807.90 L1221.2 807.46 L1222.9 806.97 L1224.6 806.41 L1226.3 805.80 L1228.0 805.14 L1229.7 804.43 L1231.4 803.67 L1233.1 802.87 L1234.7 802.04 L1236.4 801.19 L1238.1 800.31 L1239.8 799.42 L1241.5 798.53 L1243.2 797.65 L1244.9 796.77 L1246.6 795.92 L1248.3 795.10 L1250.0 794.32 L1251.7 793.58 L1253.4 792.91 L1255.1 792.29 L1256.8 791.76 L1258.4 791.29 L1260.1 790.92 L1261.8 790.63 L1263.5 790.44 L1265.2 790.34 L1266.9 790.34 L1268.6 790.44 L1270.3 790.64 L1272.0 790.94 L1273.7 791.33 L1275.4 791.81 L1277.1 792.37 L1278.8 793.02 L1280.4 793.73 L1282.1 794.51 L1283.8 795.34 L1285.5 796.22 L1287.2 797.13 L1288.9 798.06 L1290.6 799.00 L1292.3 799.94 L1294.0 800.87 L1295.7 801.78 L1297.4 802.66 L1299.1 803.49 L1300.8 804.27 L1302.4 804.98 L1304.1 805.63 L1305.8 806.19 L1307.5 806.67 L1309.2 807.06 L1310.9 807.36 L1312.6 807.56 L1314.3 807.66 L1316.0 807.66 L1317.7 807.56 L1319.4 807.37 L1321.1 807.08 L1322.8 806.71 L1324.5 806.24 L1326.1 805.71 L1327.8 805.09 L1329.5 804.42 L1331.2 803.68 L1332.9 802.90 L1334.6 802.08 L1336.3 801.23 L1338.0 800.35 L1339.7 799.47 L1341.4 798.58 L1343.1 797.69 L1344.8 796.81 L1346.5 795.96 L1348.1 795.13 L1349.8 794.33 L1351.5 793.57 L1353.2 792.86 L1354.9 792.20 L1356.6 791.59 L1358.3 791.03 L1360.0 790.54 L1361.7 790.10 L1363.4 789.72 L1365.1 789.41 L1366.8 789.15 L1368.5 788.96 L1370.1 788.82 L1371.8 788.74 L1373.5 788.71 L1375.2 788.74 L1376.9 788.81 L1378.6 788.92 L1380.3 789.08 L1382.0 789.27 L1383.7 789.50 L1385.4 789.75 L1387.1 790.03 L1388.8 790.33 L1390.5 790.65 L1392.2 790.99 L1393.8 791.34 L1395.5 791.69 L1397.2 792.05 L1398.9 792.41 L1400.6 792.77 L1402.3 793.13 L1404.0 793.48 L1405.7 793.83 L1407.4 794.16 L1409.1 794.49 L1410.8 794.81 L1412.5 795.11 L1414.2 795.40 L1415.8 795.68 L1417.5 795.95 L1419.2 796.20 L1420.9 796.43 L1422.6 796.65 L1424.3 796.86 L1426.0 797.05 L1426.0 799.0 Z" fill="#d3d3d3" stroke="none"/>
<line x1="1155.2" x2="1426.0" y1="799.0" y2="799.0" stroke="#d3d3d3" stroke-width="2.6"/>
<path d="M1155.2 772.6 L1155.2 768.72 L1156.9 768.41 L1158.6 768.09 L1160.3 767.75 L1162.0 767.40 L1163.7 767.05 L1165.4 766.69 L1167.0 766.32 L1168.7 765.96 L1170.4 765.59 L1172.1 765.23 L1173.8 764.87 L1175.5 764.53 L1177.2 764.20 L1178.9 763.89 L1180.6 763.60 L1182.3 763.34 L1184.0 763.11 L1185.7 762.91 L1187.4 762.75 L1189.0 762.64 L1190.7 762.58 L1192.4 762.57 L1194.1 762.61 L1195.8 762.71 L1197.5 762.88 L1199.2 763.10 L1200.9 763.40 L1202.6 763.75 L1204.3 764.18 L1206.0 764.67 L1207.7 765.22 L1209.4 765.84 L1211.1 766.51 L1212.7 767.24 L1214.4 768.02 L1216.1 768.84 L1217.8 769.70 L1219.5 770.58 L1221.2 771.49 L1222.9 772.41 L1224.6 773.33 L1226.3 774.24 L1228.0 775.14 L1229.7 776.00 L1231.4 776.83 L1233.1 777.60 L1234.7 778.32 L1236.4 778.96 L1238.1 779.53 L1239.8 780.01 L1241.5 780.39 L1243.2 780.68 L1244.9 780.85 L1246.6 780.92 L1248.3 780.87 L1250.0 780.71 L1251.7 780.44 L1253.4 780.07 L1255.1 779.58 L1256.8 779.00 L1258.4 778.33 L1260.1 777.57 L1261.8 776.74 L1263.5 775.85 L1265.2 774.91 L1266.9 773.94 L1268.6 772.95 L1270.3 771.96 L1272.0 770.97 L1273.7 770.01 L1275.4 769.08 L1277.1 768.21 L1278.8 767.41 L1280.4 766.69 L1282.1 766.06 L1283.8 765.53 L1285.5 765.10 L1287.2 764.80 L1288.9 764.61 L1290.6 764.55 L1292.3 764.61 L1294.0 764.80 L1295.7 765.10 L1297.4 765.53 L1299.1 766.06 L1300.8 766.69 L1302.4 767.41 L1304.1 768.21 L1305.8 769.08 L1307.5 770.01 L1309.2 770.97 L1310.9 771.96 L1312.6 772.95 L1314.3 773.94 L1316.0 774.91 L1317.7 775.85 L1319.4 776.74 L1321.1 777.57 L1322.8 778.33 L1324.5 779.00 L1326.1 779.58 L1327.8 780.07 L1329.5 780.44 L1331.2 780.71 L1332.9 780.87 L1334.6 780.92 L1336.3 780.85 L1338.0 780.68 L1339.7 780.39 L1341.4 780.01 L1343.1 779.53 L1344.8 778.96 L1346.5 778.32 L1348.1 777.60 L1349.8 776.83 L1351.5 776.00 L1353.2 775.14 L1354.9 774.24 L1356.6 773.33 L1358.3 772.41 L1360.0 771.49 L1361.7 770.58 L1363.4 769.70 L1365.1 768.84 L1366.8 768.02 L1368.5 767.24 L1370.1 766.51 L1371.8 765.84 L1373.5 765.22 L1375.2 764.67 L1376.9 764.18 L1378.6 763.75 L1380.3 763.40 L1382.0 763.10 L1383.7 762.88 L1385.4 762.71 L1387.1 762.61 L1388.8 762.57 L1390.5 762.58 L1392.2 762.64 L1393.8 762.75 L1395.5 762.91 L1397.2 763.11 L1398.9 763.34 L1400.6 763.60 L1402.3 763.89 L1404.0 764.20 L1405.7 764.53 L1407.4 764.87 L1409.1 765.23 L1410.8 765.59 L1412.5 765.96 L1414.2 766.32 L1415.8 766.69 L1417.5 767.05 L1419.2 767.40 L1420.9 767.75 L1422.6 768.09 L1424.3 768.41 L1426.0 768.72 L1426.0 772.6 Z" fill="#d3d3d3" stroke="none"/>
<line x1="1155.2" x2="1426.0" y1="772.6" y2="772.6" stroke="#d3d3d3" stroke-width="2.6"/>
<line x1="1296.0" x2="1296.0" y1="738.7" y2="382.69" stroke="#fbee05" stroke-width="3.5"/>
<path d="M1296.0 366.1 L1291.3 389.8 L1296.0 385.534 L1300.7 389.8 Z" fill="#fbee05"/>
<line x1="1305.5" x2="1305.5" y1="738.7" y2="410.19" stroke="#ffc600" stroke-width="3.5"/>
<path d="M1305.5 393.6 L1300.8 417.3 L1305.5 413.034 L1310.2 417.3 Z" fill="#ffc600"/>
<line x1="1315.0" x2="1315.0" y1="738.7" y2="437.28999999999996" stroke="#ffa000" stroke-width="3.5"/>
<path d="M1315.0 420.7 L1310.3 444.4 L1315.0 440.134 L1319.7 444.4 Z" fill="#ffa000"/>
<line x1="1324.7" x2="1324.7" y1="738.7" y2="464.39" stroke="#ff7600" stroke-width="3.5"/>
<path d="M1324.7 447.8 L1320.0 471.5 L1324.7 467.23400000000004 L1329.4 471.5 Z" fill="#ff7600"/>
<line x1="1355.7" x2="1355.7" y1="315.3" y2="761.81" stroke="#8cff64" stroke-width="3.5"/>
<path d="M1355.7 778.4 L1351.0 754.6999999999999 L1355.7 758.966 L1360.4 754.6999999999999 Z" fill="#8cff64"/>
<line x1="1365.3" x2="1365.3" y1="315.3" y2="786.7099999999999" stroke="#66ff8c" stroke-width="3.5"/>
<path d="M1365.3 803.3 L1360.6 779.5999999999999 L1365.3 783.866 L1370.0 779.5999999999999 Z" fill="#66ff8c"/>
<line x1="1374.9" x2="1374.9" y1="315.3" y2="811.7099999999999" stroke="#46ffb2" stroke-width="3.5"/>
<path d="M1374.9 828.3 L1370.2 804.5999999999999 L1374.9 808.866 L1379.6000000000001 804.5999999999999 Z" fill="#46ffb2"/>
<line x1="1384.5" x2="1384.5" y1="315.3" y2="836.61" stroke="#1effd7" stroke-width="3.5"/>
<path d="M1384.5 853.2 L1379.8 829.5 L1384.5 833.7660000000001 L1389.2 829.5 Z" fill="#1effd7"/>
<line x1="1394.2" x2="1394.2" y1="315.3" y2="861.51" stroke="#00e4f8" stroke-width="3.5"/>
<path d="M1394.2 878.1 L1389.5 854.4 L1394.2 858.666 L1398.9 854.4 Z" fill="#00e4f8"/>
<path d="M1260.7 204.30 L1263.3 210.39 L1265.9 216.32 L1268.5 222.10 L1271.1 227.73 L1273.7 233.20 L1276.3 238.51 L1278.9 243.68 L1281.5 248.69 L1284.1 253.54 L1286.7 258.24 L1289.3 262.79 L1291.9 267.18 L1294.5 271.42 L1297.1 275.50 L1299.7 279.44 L1302.3 283.21 L1304.9 286.83 L1307.5 290.30 L1310.1 293.61 L1312.7 296.77 L1315.3 299.78 L1317.9 302.63 L1320.5 305.33 L1323.1 307.87 L1325.7 310.26 L1328.3 312.50 L1330.9 314.58 L1333.5 316.50 L1336.1 318.28 L1338.7 319.89 L1341.3 321.36 L1343.9 322.67 L1346.5 323.82 L1349.1 324.83 L1351.7 325.67 L1354.3 326.37 L1356.9 326.91 L1359.5 327.29 L1362.1 327.52 L1364.7 327.60 L1367.3 327.52 L1369.9 327.29 L1372.5 326.91 L1375.1 326.37 L1377.7 325.67 L1380.3 324.83 L1382.9 323.82 L1385.5 322.67 L1388.1 321.36 L1390.7 319.89 L1393.3 318.28 L1395.9 316.50 L1398.5 314.58 L1401.1 312.50 L1403.7 310.26 L1406.3 307.87 L1408.9 305.33 L1411.5 302.63 L1414.1 299.78 L1416.7 296.77 L1419.3 293.61 L1421.9 290.30 L1424.5 286.83 L1427.1 283.21 L1429.7 279.44 L1432.3 275.50 L1434.9 271.42 L1437.5 267.18 L1440.1 262.79 L1442.7 258.24 L1445.3 253.54 L1447.9 248.69 L1450.5 243.68 L1453.1 238.51 L1455.7 233.20 L1458.3 227.73 L1460.9 222.10 L1463.5 216.32 L1466.1 210.39 L1468.7 204.30" fill="none" stroke="#000" stroke-width="4.4" stroke-linecap="butt"/>
<path d="M1201.8 317.16 L1204.4 324.41 L1207.0 331.47 L1209.6 338.35 L1212.2 345.05 L1214.8 351.56 L1217.4 357.89 L1220.0 364.03 L1222.5 369.99 L1225.1 375.77 L1227.7 381.36 L1230.3 386.77 L1232.9 391.99 L1235.5 397.03 L1238.1 401.89 L1240.7 406.56 L1243.3 411.05 L1245.9 415.36 L1248.5 419.48 L1251.1 423.41 L1253.7 427.17 L1256.3 430.74 L1258.9 434.12 L1261.5 437.32 L1264.0 440.34 L1266.6 443.17 L1269.2 445.82 L1271.8 448.29 L1274.4 450.57 L1277.0 452.67 L1279.6 454.58 L1282.2 456.31 L1284.8 457.86 L1287.4 459.22 L1290.0 460.39 L1292.6 461.39 L1295.2 462.20 L1297.8 462.82 L1300.4 463.27 L1303.0 463.52 L1305.5 463.60 L1308.1 463.49 L1310.7 463.20 L1313.3 462.72 L1315.9 462.06 L1318.5 461.21 L1321.1 460.18 L1323.7 458.97 L1326.3 457.57 L1328.9 455.99 L1331.5 454.23 L1334.1 452.28 L1336.7 450.14 L1339.3 447.83 L1341.9 445.33 L1344.5 442.64 L1347.0 439.77 L1349.6 436.72 L1352.2 433.48 L1354.8 430.06 L1357.4 426.46 L1360.0 422.67 L1362.6 418.70 L1365.2 414.54 L1367.8 410.20 L1370.4 405.68 L1373.0 400.97 L1375.6 396.08 L1378.2 391.00 L1380.8 385.74 L1383.4 380.30 L1386.0 374.67 L1388.5 368.86 L1391.1 362.86 L1393.7 356.68 L1396.3 350.32 L1398.9 343.77 L1401.5 337.04 L1404.1 330.13 L1406.7 323.03 L1409.3 315.75" fill="none" stroke="#000" stroke-width="4.4" stroke-linecap="butt"/>
<path d="M1237.9 636.60 L1240.7 642.18 L1243.5 647.62 L1246.3 652.91 L1249.1 658.07 L1251.9 663.08 L1254.7 667.96 L1257.4 672.69 L1260.2 677.28 L1263.0 681.72 L1265.8 686.03 L1268.6 690.20 L1271.4 694.22 L1274.2 698.10 L1277.0 701.85 L1279.8 705.45 L1282.6 708.90 L1285.4 712.22 L1288.2 715.40 L1291.0 718.43 L1293.8 721.33 L1296.5 724.08 L1299.3 726.69 L1302.1 729.16 L1304.9 731.48 L1307.7 733.67 L1310.5 735.72 L1313.3 737.62 L1316.1 739.38 L1318.9 741.00 L1321.7 742.48 L1324.5 743.82 L1327.3 745.02 L1330.1 746.07 L1332.8 746.99 L1335.6 747.76 L1338.4 748.39 L1341.2 748.88 L1344.0 749.23 L1346.8 749.43 L1349.6 749.50 L1352.4 749.42 L1355.2 749.21 L1358.0 748.85 L1360.8 748.35 L1363.6 747.71 L1366.4 746.92 L1369.1 746.00 L1371.9 744.94 L1374.7 743.73 L1377.5 742.38 L1380.3 740.89 L1383.1 739.26 L1385.9 737.49 L1388.7 735.57 L1391.5 733.52 L1394.3 731.32 L1397.1 728.98 L1399.9 726.51 L1402.7 723.88 L1405.5 721.12 L1408.2 718.22 L1411.0 715.17 L1413.8 711.99 L1416.6 708.66 L1419.4 705.19 L1422.2 701.58 L1425.0 697.83 L1427.8 693.94 L1430.6 689.90 L1433.4 685.73 L1436.2 681.41 L1439.0 676.95 L1441.8 672.35 L1444.5 667.61 L1447.3 662.73 L1450.1 657.70 L1452.9 652.54 L1455.7 647.23 L1458.5 641.78 L1461.3 636.19" fill="none" stroke="#000" stroke-width="4.4" stroke-linecap="butt"/>
<path d="M1186.6 764.47 L1189.2 770.54 L1191.8 776.46 L1194.4 782.22 L1197.1 787.83 L1199.7 793.28 L1202.3 798.58 L1204.9 803.73 L1207.5 808.72 L1210.1 813.55 L1212.7 818.23 L1215.4 822.76 L1218.0 827.13 L1220.6 831.35 L1223.2 835.41 L1225.8 839.32 L1228.4 843.07 L1231.0 846.67 L1233.6 850.12 L1236.3 853.40 L1238.9 856.54 L1241.5 859.52 L1244.1 862.35 L1246.7 865.02 L1249.3 867.54 L1251.9 869.90 L1254.6 872.11 L1257.2 874.16 L1259.8 876.06 L1262.4 877.81 L1265.0 879.40 L1267.6 880.83 L1270.2 882.11 L1272.9 883.24 L1275.5 884.21 L1278.1 885.03 L1280.7 885.69 L1283.3 886.20 L1285.9 886.55 L1288.5 886.75 L1291.2 886.80 L1293.8 886.69 L1296.4 886.42 L1299.0 886.00 L1301.6 885.43 L1304.2 884.70 L1306.8 883.82 L1309.4 882.78 L1312.1 881.59 L1314.7 880.25 L1317.3 878.74 L1319.9 877.09 L1322.5 875.28 L1325.1 873.32 L1327.7 871.20 L1330.4 868.92 L1333.0 866.50 L1335.6 863.91 L1338.2 861.18 L1340.8 858.29 L1343.4 855.24 L1346.0 852.04 L1348.7 848.68 L1351.3 845.17 L1353.9 841.51 L1356.5 837.69 L1359.1 833.72 L1361.7 829.59 L1364.3 825.31 L1366.9 820.87 L1369.6 816.28 L1372.2 811.54 L1374.8 806.64 L1377.4 801.58 L1380.0 796.37 L1382.6 791.01 L1385.2 785.49 L1387.9 779.82 L1390.5 773.99 L1393.1 768.01 L1395.7 761.87" fill="none" stroke="#000" stroke-width="4.4" stroke-linecap="butt"/>
<circle cx="1296.0" cy="738.7" r="4.7" fill="#fbee05"/>
<circle cx="1305.5" cy="738.7" r="4.7" fill="#ffc600"/>
<circle cx="1315.0" cy="738.7" r="4.7" fill="#ffa000"/>
<circle cx="1324.7" cy="738.7" r="4.7" fill="#ff7600"/>
<circle cx="1355.7" cy="315.3" r="4.7" fill="#8cff64"/>
<circle cx="1365.3" cy="315.3" r="4.7" fill="#66ff8c"/>
<circle cx="1374.9" cy="315.3" r="4.7" fill="#46ffb2"/>
<circle cx="1384.5" cy="315.3" r="4.7" fill="#1effd7"/>
<circle cx="1394.2" cy="315.3" r="4.7" fill="#00e4f8"/>
<path d="M1150.1 156 L1150.1 939.2 L1627 939.2" fill="none" stroke="#000" stroke-width="3.0" stroke-linejoin="miter"/>
<path d="M1150.1 141.3 L1143.2 163.5 L1150.1 155.5 L1157 162.5 Z" fill="#000"/>
<path d="M1645.3 939.3 L1619.5 931.8 L1628.5 939.3 L1616.5 948.4 Z" fill="#000"/>
<text x="1225.2" y="969.5" font-size="29.4" textLength="353.5" lengthAdjust="spacingAndGlyphs">Configuration Coordinate</text>
<text transform="translate(1119.4,544) rotate(-90)" font-size="29.4" text-anchor="middle" textLength="97" lengthAdjust="spacingAndGlyphs">Energy</text>
<text x="1225.0" y="187.0" font-size="19.5">3</text>
<text transform="translate(1237.2,196.6) scale(0.95,1)" font-size="27.5" class="it">E</text>
<text x="1196.0" y="286.2" font-size="19.5">1</text>
<text transform="translate(1207.2,295.8) scale(1.27,1)" font-size="27.5" class="it">A</text>
<text x="1229.5" y="300.3" font-size="19.5">1</text>
<text x="1158.6" y="733.6" font-size="19.5">3</text>
<text transform="translate(1171.0,743.2) scale(1.27,1)" font-size="27.5" class="it">A</text>
<text x="1191.6" y="747.7" font-size="19.5">2</text>
<text x="1462.6" y="609.4" font-size="19.5">1</text>
<text transform="translate(1473.4,619.0) scale(0.95,1)" font-size="27.5" class="it">E</text>
<line x1="1568.9" x2="1584" y1="450.4" y2="450.4" stroke="#ff7600" stroke-width="2.8"/>
<line x1="1568.9" x2="1620.9" y1="423.2" y2="423.2" stroke="#ffa000" stroke-width="2.8"/>
<line x1="1568.9" x2="1611.5" y1="396.3" y2="396.3" stroke="#ffc600" stroke-width="2.8"/>
<line x1="1568.9" x2="1591.4" y1="369.1" y2="369.1" stroke="#fbee05" stroke-width="2.8"/>
<path d="M1569.2 225.0 L1569.2 225.5 L1569.2 226.0 L1569.2 226.5 L1569.2 227.0 L1569.2 227.5 L1569.2 228.0 L1569.2 228.5 L1569.2 229.0 L1569.2 229.5 L1569.2 230.0 L1569.2 230.5 L1569.2 231.0 L1569.2 231.5 L1569.2 232.0 L1569.2 232.5 L1569.2 233.0 L1569.2 233.5 L1569.2 234.0 L1569.2 234.5 L1569.2 235.0 L1569.2 235.5 L1569.2 236.0 L1569.2 236.5 L1569.2 237.0 L1569.2 237.5 L1569.2 238.0 L1569.2 238.5 L1569.2 239.0 L1569.2 239.5 L1569.2 240.0 L1569.2 240.5 L1569.2 241.0 L1569.2 241.5 L1569.2 242.0 L1569.2 242.5 L1569.2 243.0 L1569.2 243.5 L1569.2 244.0 L1569.2 244.5 L1569.2 245.0 L1569.2 245.5 L1569.2 246.0 L1569.2 246.5 L1569.2 247.0 L1569.2 247.5 L1569.2 248.0 L1569.2 248.5 L1569.2 249.0 L1569.2 249.5 L1569.2 250.0 L1569.2 250.5 L1569.2 251.0 L1569.2 251.5 L1569.2 252.0 L1569.2 252.5 L1569.2 253.0 L1569.2 253.5 L1569.2 254.0 L1569.2 254.5 L1569.2 255.0 L1569.2 255.5 L1569.2 256.0 L1569.2 256.5 L1569.2 257.0 L1569.2 257.5 L1569.2 258.0 L1569.2 258.5 L1569.2 259.0 L1569.2 259.5 L1569.2 260.0 L1569.2 260.5 L1569.2 261.0 L1569.2 261.5 L1569.2 262.0 L1569.2 262.5 L1569.2 263.0 L1569.2 263.5 L1569.2 264.0 L1569.2 264.5 L1569.2 265.0 L1569.2 265.5 L1569.2 266.0 L1569.2 266.5 L1569.2 267.0 L1569.2 267.5 L1569.2 268.0 L1569.2 268.5 L1569.2 269.0 L1569.2 269.5 L1569.2 270.0 L1569.2 270.5 L1569.2 271.0 L1569.2 271.5 L1569.2 272.0 L1569.2 272.5 L1569.2 273.0 L1569.2 273.5 L1569.2 274.0 L1569.2 274.5 L1569.2 275.0 L1569.2 275.5 L1569.2 276.0 L1569.2 276.5 L1569.2 277.0 L1569.2 277.5 L1569.2 278.0 L1569.2 278.5 L1569.2 279.0 L1569.2 279.5 L1569.2 280.0 L1569.2 280.5 L1569.2 281.0 L1569.2 281.5 L1569.2 282.0 L1569.2 282.5 L1569.2 283.0 L1569.2 283.5 L1569.2 284.0 L1569.2 284.5 L1569.2 285.0 L1569.2 285.5 L1569.2 286.0 L1569.2 286.5 L1569.2 287.0 L1569.2 287.5 L1569.2 288.0 L1569.2 288.5 L1569.2 289.0 L1569.2 289.5 L1569.2 290.0 L1569.2 290.5 L1569.2 291.0 L1569.2 291.5 L1569.2 292.0 L1569.2 292.5 L1569.2 293.0 L1569.2 293.5 L1569.2 294.0 L1569.2 294.5 L1569.2 295.0 L1569.2 295.5 L1569.2 296.0 L1569.2 296.5 L1569.2 297.0 L1569.2 297.5 L1569.2 298.0 L1569.2 298.5 L1569.2 299.0 L1569.2 299.5 L1569.2 300.0 L1569.2 300.5 L1569.3 301.0 L1569.4 301.5 L1569.5 302.0 L1569.6 302.5 L1569.8 303.0 L1570.0 303.5 L1570.2 304.0 L1570.4 304.5 L1570.7 305.0 L1570.9 305.5 L1571.2 306.0 L1571.5 306.5 L1571.8 307.0 L1572.1 307.5 L1572.4 308.0 L1572.7 308.5 L1572.9 309.0 L1573.2 309.5 L1573.5 310.0 L1573.7 310.5 L1573.9 311.0 L1574.1 311.5 L1574.2 312.0 L1574.4 312.5 L1574.5 313.0 L1574.6 313.5 L1574.6 314.0 L1574.6 314.5 L1574.6 315.0 L1574.6 315.5 L1574.5 316.0 L1574.4 316.5 L1574.3 317.0 L1574.2 317.5 L1574.1 318.0 L1574.0 318.5 L1573.8 319.0 L1573.7 319.5 L1573.5 320.0 L1573.3 320.5 L1573.1 321.0 L1573.0 321.5 L1572.8 322.0 L1572.6 322.5 L1572.5 323.0 L1572.3 323.5 L1572.2 324.0 L1572.0 324.5 L1571.9 325.0 L1571.8 325.5 L1571.7 326.0 L1571.7 326.5 L1571.6 327.0 L1571.6 327.5 L1571.6 328.0 L1571.7 328.5 L1571.8 329.0 L1572.0 329.5 L1572.3 330.0 L1572.7 330.5 L1573.1 331.0 L1573.5 331.5 L1574.0 332.0 L1574.6 332.5 L1575.2 333.0 L1575.8 333.5 L1576.5 334.0 L1577.1 334.5 L1577.8 335.0 L1578.5 335.5 L1579.2 336.0 L1579.8 336.5 L1580.4 337.0 L1581.0 337.5 L1581.6 338.0 L1582.1 338.5 L1582.6 339.0 L1583.0 339.5 L1583.3 340.0 L1583.6 340.5 L1583.8 341.0 L1583.9 341.5 L1584.0 342.0 L1584.0 342.5 L1583.9 343.0 L1583.8 343.5 L1583.6 344.0 L1583.4 344.5 L1583.1 345.0 L1582.8 345.5 L1582.5 346.0 L1582.1 346.5 L1581.6 347.0 L1581.2 347.5 L1580.7 348.0 L1580.3 348.5 L1579.8 349.0 L1579.4 349.5 L1578.9 350.0 L1578.5 350.5 L1578.1 351.0 L1577.8 351.5 L1577.4 352.0 L1577.2 352.5 L1577.0 353.0 L1576.8 353.5 L1576.7 354.0 L1576.6 354.5 L1576.6 355.0 L1576.8 355.5 L1577.1 356.0 L1577.5 356.5 L1578.0 357.0 L1578.7 357.5 L1579.4 358.0 L1580.3 358.5 L1581.2 359.0 L1582.2 359.5 L1583.3 360.0 L1584.5 360.5 L1585.7 361.0 L1586.9 361.5 L1588.1 362.0 L1589.3 362.5 L1590.5 363.0 L1591.7 363.5 L1592.9 364.0 L1593.9 364.5 L1594.9 365.0 L1595.8 365.5 L1596.6 366.0 L1597.4 366.5 L1598.0 367.0 L1598.4 367.5 L1598.8 368.0 L1599.0 368.5 L1599.1 369.0 L1599.1 369.5 L1598.9 370.0 L1598.6 370.5 L1598.2 371.0 L1597.6 371.5 L1597.0 372.0 L1596.2 372.5 L1595.4 373.0 L1594.4 373.5 L1593.4 374.0 L1592.4 374.5 L1591.4 375.0 L1590.3 375.5 L1589.3 376.0 L1588.2 376.5 L1587.2 377.0 L1586.3 377.5 L1585.4 378.0 L1584.6 378.5 L1584.0 379.0 L1583.4 379.5 L1582.9 380.0 L1582.6 380.5 L1582.4 381.0 L1582.3 381.5 L1582.5 382.0 L1582.8 382.5 L1583.4 383.0 L1584.2 383.5 L1585.2 384.0 L1586.4 384.5 L1587.8 385.0 L1589.3 385.5 L1591.0 386.0 L1592.9 386.5 L1594.8 387.0 L1596.8 387.5 L1598.9 388.0 L1601.1 388.5 L1603.2 389.0 L1605.4 389.5 L1607.4 390.0 L1609.5 390.5 L1611.4 391.0 L1613.3 391.5 L1615.0 392.0 L1616.5 392.5 L1617.9 393.0 L1619.1 393.5 L1620.1 394.0 L1620.9 394.5 L1621.5 395.0 L1621.8 395.5 L1622.0 396.0 L1621.9 396.5 L1621.6 397.0 L1621.1 397.5 L1620.4 398.0 L1619.6 398.5 L1618.6 399.0 L1617.5 399.5 L1616.2 400.0 L1614.8 400.5 L1613.3 401.0 L1611.7 401.5 L1610.0 402.0 L1608.3 402.5 L1606.6 403.0 L1604.8 403.5 L1603.1 404.0 L1601.4 404.5 L1599.8 405.0 L1598.3 405.5 L1596.9 406.0 L1595.5 406.5 L1594.4 407.0 L1593.3 407.5 L1592.5 408.0 L1591.8 408.5 L1591.3 409.0 L1590.9 409.5 L1590.8 410.0 L1590.9 410.5 L1591.4 411.0 L1592.2 411.5 L1593.3 412.0 L1594.7 412.5 L1596.4 413.0 L1598.3 413.5 L1600.5 414.0 L1602.9 414.5 L1605.4 415.0 L1608.0 415.5 L1610.7 416.0 L1613.4 416.5 L1616.2 417.0 L1618.8 417.5 L1621.3 418.0 L1623.8 418.5 L1626.0 419.0 L1628.0 419.5 L1629.7 420.0 L1631.2 420.5 L1632.4 421.0 L1633.2 421.5 L1633.8 422.0 L1633.9 422.5 L1633.8 423.0 L1633.5 423.5 L1632.9 424.0 L1632.1 424.5 L1631.0 425.0 L1629.8 425.5 L1628.3 426.0 L1626.7 426.5 L1624.9 427.0 L1622.9 427.5 L1620.7 428.0 L1618.5 428.5 L1616.1 429.0 L1613.6 429.5 L1611.1 430.0 L1608.5 430.5 L1605.9 431.0 L1603.2 431.5 L1600.6 432.0 L1598.0 432.5 L1595.5 433.0 L1593.0 433.5 L1590.7 434.0 L1588.4 434.5 L1586.3 435.0 L1584.4 435.5 L1582.6 436.0 L1581.0 436.5 L1579.6 437.0 L1578.4 437.5 L1577.5 438.0 L1576.7 438.5 L1576.3 439.0 L1576.0 439.5 L1576.1 440.0 L1576.2 440.5 L1576.2 441.0 L1576.1 441.5 L1576.1 442.0 L1576.0 442.5 L1575.9 443.0 L1575.9 443.5 L1576.1 444.0 L1576.5 444.5 L1577.1 445.0 L1578.2 445.5 L1579.7 446.0 L1581.9 446.5 L1585.1 447.0 L1589.7 447.5 L1596.9 448.0 L1608.4 448.5 L1628.0 449.0 L1660.5 449.5 L1703.1 450.0 L1719.3 450.5 L1686.1 451.0 L1645.4 451.5 L1618.5 452.0 L1602.6 452.5 L1593.0 453.0 L1586.9 453.5 L1582.9 454.0 L1580.0 454.5 L1578.0 455.0 L1576.5 455.5 L1575.3 456.0 L1574.4 456.5 L1573.7 457.0 L1573.1 457.5 L1572.6 458.0 L1572.3 458.5 L1571.9 459.0 L1571.7 459.5 L1571.4 460.0 L1571.3 460.5 L1571.1 461.0 L1571.0 461.5 L1570.8 462.0 L1570.7 462.5 L1570.6 463.0 L1570.5 463.5 L1570.4 464.0 L1570.4 464.5 L1570.3 465.0 L1570.2 465.5 L1570.2 466.0 L1570.1 466.5 L1570.0 467.0 L1570.0 467.5 L1569.9 468.0 L1569.9 468.5 L1569.9 469.0 L1569.8 469.5 L1569.8 470.0 L1569.7 470.5 L1569.7 471.0 L1569.7 471.5 L1569.6 472.0 L1569.6 472.5 L1569.6 473.0 L1569.5 473.5 L1569.5 474.0 L1569.5 474.5 L1569.5 475.0 L1569.4 475.5 L1569.4 476.0 L1569.4 476.5 L1569.4 477.0 L1569.4 477.5 L1569.3 478.0 L1569.3 478.5 L1569.3 479.0 L1569.3 479.5 L1569.3 480.0 L1569.3 480.5 L1569.3 481.0 L1569.3 481.5 L1569.3 482.0 L1569.3 482.5 L1569.3 483.0" fill="none" stroke="#000" stroke-width="2" stroke-linejoin="round"/>
<path d="M1568.9 218 L1568.9 483 L1718 483" fill="none" stroke="#000" stroke-width="2.1"/>
<path d="M1568.9 195 L1563.7 226 L1568.9 219 L1574.1000000000001 226 Z" fill="#000"/>
<path d="M1739.5 483 L1708 475.7 L1716 483 L1708 490.3 Z" fill="#000"/>
<text x="1584.2" y="507.5" font-size="23" textLength="128" lengthAdjust="spacingAndGlyphs">Absorption</text>
<text transform="translate(1541.9,355) rotate(90)" font-size="23.5" text-anchor="middle" textLength="168.5" lengthAdjust="spacingAndGlyphs">Photon Energy</text>
<line x1="1568.9" x2="1584" y1="873.8" y2="873.8" stroke="#00e4f8" stroke-width="2.8"/>
<line x1="1568.9" x2="1627.6" y1="849" y2="849" stroke="#1effd7" stroke-width="2.8"/>
<line x1="1568.9" x2="1668.6" y1="824.1" y2="824.1" stroke="#46ffb2" stroke-width="2.8"/>
<line x1="1568.9" x2="1676.4" y1="799.3" y2="799.3" stroke="#66ff8c" stroke-width="2.8"/>
<line x1="1568.9" x2="1652.8" y1="774.1" y2="774.1" stroke="#8cff64" stroke-width="2.8"/>
<path d="M1569.2 645.0 L1569.2 645.5 L1569.2 646.0 L1569.2 646.5 L1569.2 647.0 L1569.2 647.5 L1569.2 648.0 L1569.2 648.5 L1569.2 649.0 L1569.2 649.5 L1569.2 650.0 L1569.2 650.5 L1569.2 651.0 L1569.2 651.5 L1569.3 652.0 L1569.3 652.5 L1569.3 653.0 L1569.4 653.5 L1569.4 654.0 L1569.5 654.5 L1569.5 655.0 L1569.6 655.5 L1569.7 656.0 L1569.7 656.5 L1569.8 657.0 L1569.8 657.5 L1569.9 658.0 L1569.9 658.5 L1570.0 659.0 L1570.0 659.5 L1570.0 660.0 L1570.1 660.5 L1570.1 661.0 L1570.1 661.5 L1570.1 662.0 L1570.1 662.5 L1570.2 663.0 L1570.2 663.5 L1570.3 664.0 L1570.5 664.5 L1570.6 665.0 L1570.8 665.5 L1571.0 666.0 L1571.2 666.5 L1571.4 667.0 L1571.7 667.5 L1571.9 668.0 L1572.2 668.5 L1572.4 669.0 L1572.7 669.5 L1572.9 670.0 L1573.2 670.5 L1573.4 671.0 L1573.6 671.5 L1573.8 672.0 L1574.0 672.5 L1574.2 673.0 L1574.3 673.5 L1574.4 674.0 L1574.5 674.5 L1574.6 675.0 L1574.6 675.5 L1574.6 676.0 L1574.6 676.5 L1574.5 677.0 L1574.4 677.5 L1574.4 678.0 L1574.2 678.5 L1574.1 679.0 L1574.0 679.5 L1573.8 680.0 L1573.6 680.5 L1573.5 681.0 L1573.3 681.5 L1573.1 682.0 L1573.0 682.5 L1572.8 683.0 L1572.7 683.5 L1572.5 684.0 L1572.4 684.5 L1572.3 685.0 L1572.3 685.5 L1572.2 686.0 L1572.2 686.5 L1572.2 687.0 L1572.3 687.5 L1572.5 688.0 L1572.7 688.5 L1573.0 689.0 L1573.4 689.5 L1573.8 690.0 L1574.3 690.5 L1574.9 691.0 L1575.5 691.5 L1576.1 692.0 L1576.7 692.5 L1577.3 693.0 L1578.0 693.5 L1578.6 694.0 L1579.2 694.5 L1579.7 695.0 L1580.3 695.5 L1580.8 696.0 L1581.2 696.5 L1581.6 697.0 L1581.9 697.5 L1582.1 698.0 L1582.2 698.5 L1582.3 699.0 L1582.3 699.5 L1582.2 700.0 L1582.2 700.5 L1582.0 701.0 L1581.9 701.5 L1581.7 702.0 L1581.4 702.5 L1581.2 703.0 L1580.9 703.5 L1580.6 704.0 L1580.3 704.5 L1580.0 705.0 L1579.6 705.5 L1579.3 706.0 L1579.1 706.5 L1578.8 707.0 L1578.6 707.5 L1578.4 708.0 L1578.2 708.5 L1578.1 709.0 L1578.0 709.5 L1577.9 710.0 L1577.9 710.5 L1578.0 711.0 L1578.3 711.5 L1578.7 712.0 L1579.2 712.5 L1579.8 713.0 L1580.5 713.5 L1581.4 714.0 L1582.3 714.5 L1583.4 715.0 L1584.4 715.5 L1585.6 716.0 L1586.8 716.5 L1588.0 717.0 L1589.3 717.5 L1590.5 718.0 L1591.8 718.5 L1593.0 719.0 L1594.2 719.5 L1595.3 720.0 L1596.4 720.5 L1597.4 721.0 L1598.3 721.5 L1599.1 722.0 L1599.8 722.5 L1600.4 723.0 L1600.8 723.5 L1601.1 724.0 L1601.3 724.5 L1601.4 725.0 L1601.4 725.5 L1601.2 726.0 L1600.9 726.5 L1600.5 727.0 L1600.0 727.5 L1599.5 728.0 L1598.8 728.5 L1598.1 729.0 L1597.4 729.5 L1596.6 730.0 L1595.8 730.5 L1595.0 731.0 L1594.2 731.5 L1593.4 732.0 L1592.7 732.5 L1592.1 733.0 L1591.5 733.5 L1591.0 734.0 L1590.6 734.5 L1590.3 735.0 L1590.1 735.5 L1590.0 736.0 L1590.1 736.5 L1590.5 737.0 L1591.2 737.5 L1592.1 738.0 L1593.3 738.5 L1594.8 739.0 L1596.5 739.5 L1598.4 740.0 L1600.5 740.5 L1602.7 741.0 L1605.1 741.5 L1607.6 742.0 L1610.1 742.5 L1612.6 743.0 L1615.2 743.5 L1617.6 744.0 L1620.0 744.5 L1622.3 745.0 L1624.5 745.5 L1626.5 746.0 L1628.3 746.5 L1629.8 747.0 L1631.2 747.5 L1632.2 748.0 L1633.0 748.5 L1633.5 749.0 L1633.7 749.5 L1633.6 750.0 L1633.3 750.5 L1632.8 751.0 L1632.1 751.5 L1631.2 752.0 L1630.1 752.5 L1628.8 753.0 L1627.4 753.5 L1625.9 754.0 L1624.3 754.5 L1622.6 755.0 L1620.9 755.5 L1619.3 756.0 L1617.6 756.5 L1616.0 757.0 L1614.5 757.5 L1613.1 758.0 L1611.9 758.5 L1610.8 759.0 L1610.0 759.5 L1609.3 760.0 L1608.8 760.5 L1608.6 761.0 L1608.6 761.5 L1609.0 762.0 L1609.9 762.5 L1611.3 763.0 L1613.2 763.5 L1615.4 764.0 L1618.1 764.5 L1621.1 765.0 L1624.4 765.5 L1628.0 766.0 L1631.8 766.5 L1635.7 767.0 L1639.7 767.5 L1643.7 768.0 L1647.7 768.5 L1651.5 769.0 L1655.3 769.5 L1658.8 770.0 L1662.0 770.5 L1665.0 771.0 L1667.6 771.5 L1669.8 772.0 L1671.5 772.5 L1672.8 773.0 L1673.7 773.5 L1674.0 774.0 L1673.9 774.5 L1673.3 775.0 L1672.4 775.5 L1671.0 776.0 L1669.3 776.5 L1667.2 777.0 L1664.9 777.5 L1662.3 778.0 L1659.4 778.5 L1656.4 779.0 L1653.4 779.5 L1650.2 780.0 L1647.1 780.5 L1644.0 781.0 L1641.0 781.5 L1638.2 782.0 L1635.7 782.5 L1633.4 783.0 L1631.4 783.5 L1629.7 784.0 L1628.4 784.5 L1627.6 785.0 L1627.1 785.5 L1627.1 786.0 L1627.5 786.5 L1628.5 787.0 L1629.9 787.5 L1631.9 788.0 L1634.2 788.5 L1637.0 789.0 L1640.2 789.5 L1643.7 790.0 L1647.5 790.5 L1651.5 791.0 L1655.7 791.5 L1660.0 792.0 L1664.4 792.5 L1668.8 793.0 L1673.1 793.5 L1677.3 794.0 L1681.4 794.5 L1685.2 795.0 L1688.8 795.5 L1692.0 796.0 L1694.9 796.5 L1697.3 797.0 L1699.4 797.5 L1700.9 798.0 L1702.0 798.5 L1702.5 799.0 L1702.6 799.5 L1702.1 800.0 L1701.0 800.5 L1699.4 801.0 L1697.3 801.5 L1694.8 802.0 L1691.8 802.5 L1688.4 803.0 L1684.6 803.5 L1680.7 804.0 L1676.4 804.5 L1672.1 805.0 L1667.7 805.5 L1663.3 806.0 L1658.9 806.5 L1654.7 807.0 L1650.7 807.5 L1647.0 808.0 L1643.6 808.5 L1640.6 809.0 L1638.0 809.5 L1635.9 810.0 L1634.3 810.5 L1633.3 811.0 L1632.8 811.5 L1632.8 812.0 L1633.4 812.5 L1634.4 813.0 L1635.8 813.5 L1637.7 814.0 L1640.0 814.5 L1642.7 815.0 L1645.7 815.5 L1649.0 816.0 L1652.5 816.5 L1656.1 817.0 L1659.9 817.5 L1663.7 818.0 L1667.5 818.5 L1671.3 819.0 L1674.9 819.5 L1678.3 820.0 L1681.4 820.5 L1684.3 821.0 L1686.8 821.5 L1689.0 822.0 L1690.7 822.5 L1692.0 823.0 L1692.8 823.5 L1693.2 824.0 L1693.0 824.5 L1692.4 825.0 L1691.2 825.5 L1689.6 826.0 L1687.6 826.5 L1685.1 827.0 L1682.2 827.5 L1678.9 828.0 L1675.4 828.5 L1671.6 829.0 L1667.5 829.5 L1663.3 830.0 L1659.0 830.5 L1654.6 831.0 L1650.2 831.5 L1645.9 832.0 L1641.7 832.5 L1637.6 833.0 L1633.8 833.5 L1630.3 834.0 L1627.0 834.5 L1624.1 835.0 L1621.6 835.5 L1619.6 836.0 L1618.0 836.5 L1616.8 837.0 L1616.2 837.5 L1616.0 838.0 L1616.3 838.5 L1616.8 839.0 L1617.6 839.5 L1618.7 840.0 L1620.0 840.5 L1621.6 841.0 L1623.3 841.5 L1625.2 842.0 L1627.2 842.5 L1629.3 843.0 L1631.4 843.5 L1633.5 844.0 L1635.5 844.5 L1637.4 845.0 L1639.1 845.5 L1640.7 846.0 L1642.0 846.5 L1643.1 847.0 L1643.9 847.5 L1644.5 848.0 L1644.7 848.5 L1644.6 849.0 L1644.1 849.5 L1643.4 850.0 L1642.2 850.5 L1640.8 851.0 L1639.0 851.5 L1637.0 852.0 L1634.7 852.5 L1632.1 853.0 L1629.3 853.5 L1626.4 854.0 L1623.3 854.5 L1620.0 855.0 L1616.7 855.5 L1613.3 856.0 L1609.9 856.5 L1606.5 857.0 L1603.2 857.5 L1599.9 858.0 L1596.8 858.5 L1593.8 859.0 L1591.0 859.5 L1588.5 860.0 L1586.2 860.5 L1584.1 861.0 L1582.4 861.5 L1581.0 862.0 L1579.9 862.5 L1579.1 863.0 L1578.8 863.5 L1578.8 864.0 L1578.9 864.5 L1578.8 865.0 L1578.6 865.5 L1578.3 866.0 L1578.0 866.5 L1577.8 867.0 L1577.8 867.5 L1578.0 868.0 L1578.7 868.5 L1579.9 869.0 L1581.6 869.5 L1583.9 870.0 L1587.3 870.5 L1592.2 871.0 L1600.0 871.5 L1612.7 872.0 L1634.4 872.5 L1669.7 873.0 L1711.0 873.5 L1716.4 874.0 L1677.8 874.5 L1639.3 875.0 L1614.9 875.5 L1600.5 876.0 L1591.7 876.5 L1586.0 877.0 L1582.2 877.5 L1579.5 878.0 L1577.6 878.5 L1576.2 879.0 L1575.1 879.5 L1574.3 880.0 L1573.6 880.5 L1573.1 881.0 L1572.7 881.5 L1572.3 882.0 L1572.0 882.5 L1571.8 883.0 L1571.6 883.5 L1571.4 884.0 L1571.2 884.5 L1571.0 885.0 L1570.9 885.5 L1570.8 886.0 L1570.7 886.5 L1570.6 887.0 L1570.5 887.5 L1570.4 888.0 L1570.3 888.5 L1570.2 889.0 L1570.2 889.5 L1570.1 890.0 L1570.0 890.5 L1570.0 891.0 L1569.9 891.5 L1569.9 892.0 L1569.8 892.5 L1569.8 893.0 L1569.7 893.5 L1569.7 894.0 L1569.6 894.5 L1569.6 895.0 L1569.6 895.5 L1569.5 896.0 L1569.5 896.5 L1569.5 897.0 L1569.4 897.5 L1569.4 898.0 L1569.4 898.5 L1569.4 899.0 L1569.4 899.5 L1569.4 900.0 L1569.4 900.5 L1569.3 901.0 L1569.3 901.5 L1569.3 902.0 L1569.3 902.5 L1569.3 903.0 L1569.3 903.5 L1569.3 904.0 L1569.3 904.5 L1569.3 905.0" fill="none" stroke="#000" stroke-width="2" stroke-linejoin="round"/>
<path d="M1568.9 903 L1568.9 640.4 L1718 640.4" fill="none" stroke="#000" stroke-width="2.1"/>
<path d="M1568.9 926 L1563.7 895 L1568.9 902 L1574.1000000000001 895 Z" fill="#000"/>
<path d="M1739.5 640.4 L1708 633.1 L1716 640.4 L1708 647.7 Z" fill="#000"/>
<text x="1533.2" y="627.6" font-size="23" textLength="229" lengthAdjust="spacingAndGlyphs">Photoluminescence</text>
<text transform="translate(1541.9,769.2) rotate(90)" font-size="23.5" text-anchor="middle" textLength="167" lengthAdjust="spacingAndGlyphs">Photon Energy</text>
</g>
</svg>
</body></html>
